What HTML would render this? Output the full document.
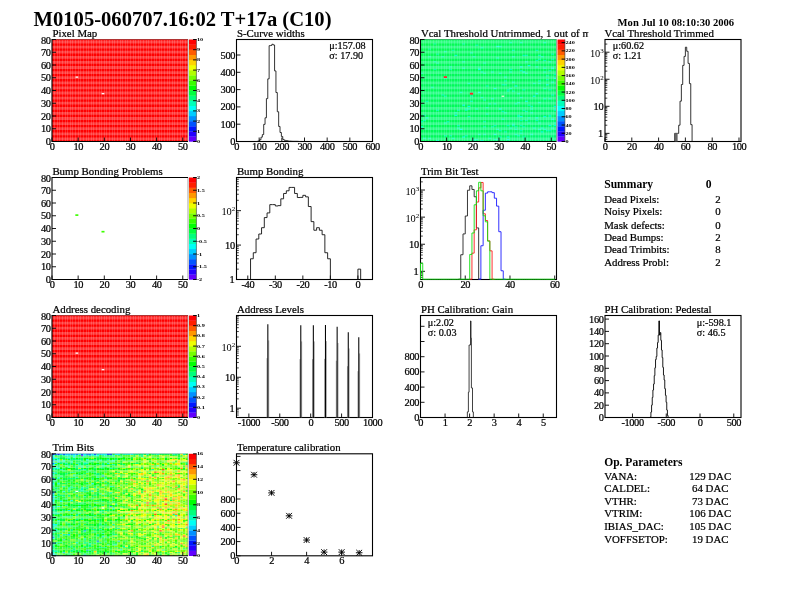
<!DOCTYPE html>
<html><head><meta charset="utf-8"><title>M0105-060707.16:02 T+17a (C10)</title>
<style>html,body{margin:0;padding:0;background:#fff}svg{display:block}</style></head>
<body>
<svg width="792" height="612" viewBox="0 0 792 612" font-family="'Liberation Serif',serif" fill="#000">
<rect width="792" height="612" fill="#fff"/>
<defs>
<linearGradient id="gg" x1="0" y1="0" x2="1" y2="1"><stop offset="0" stop-color="#30ff30" stop-opacity="0.22"/><stop offset="0.5" stop-color="#00ff80" stop-opacity="0"/><stop offset="1" stop-color="#00ffd0" stop-opacity="0.28"/></linearGradient>
<clipPath id="clipT"><rect x="400" y="20" width="188.3" height="20"/></clipPath>
</defs>
<text x="33.60" y="26.20" font-size="20.60" font-weight="bold">M0105-060707.16:02 T+17a (C10)</text>
<text x="617.60" y="25.90" font-size="10.60" font-weight="bold">Mon Jul 10 08:10:30 2006</text>
<rect x="52.00" y="39.50" width="136.00" height="102.00" fill="#ff0000"/>
<path d="M54.62 39.50V141.50M57.23 39.50V141.50M59.85 39.50V141.50M62.46 39.50V141.50M65.08 39.50V141.50M67.69 39.50V141.50M70.31 39.50V141.50M72.92 39.50V141.50M75.54 39.50V141.50M78.15 39.50V141.50M80.77 39.50V141.50M83.38 39.50V141.50M86.00 39.50V141.50M88.62 39.50V141.50M91.23 39.50V141.50M93.85 39.50V141.50M96.46 39.50V141.50M99.08 39.50V141.50M101.69 39.50V141.50M104.31 39.50V141.50M106.92 39.50V141.50M109.54 39.50V141.50M112.15 39.50V141.50M114.77 39.50V141.50M117.38 39.50V141.50M120.00 39.50V141.50M122.62 39.50V141.50M125.23 39.50V141.50M127.85 39.50V141.50M130.46 39.50V141.50M133.08 39.50V141.50M135.69 39.50V141.50M138.31 39.50V141.50M140.92 39.50V141.50M143.54 39.50V141.50M146.15 39.50V141.50M148.77 39.50V141.50M151.38 39.50V141.50M154.00 39.50V141.50M156.62 39.50V141.50M159.23 39.50V141.50M161.85 39.50V141.50M164.46 39.50V141.50M167.08 39.50V141.50M169.69 39.50V141.50M172.31 39.50V141.50M174.92 39.50V141.50M177.54 39.50V141.50M180.15 39.50V141.50M182.77 39.50V141.50M185.38 39.50V141.50" stroke="#fff" stroke-opacity="0.16" stroke-width="1" fill="none" shape-rendering="crispEdges"/>
<path d="M52.00 42.00H188.00M52.00 47.10H188.00M52.00 52.20H188.00M52.00 57.30H188.00M52.00 62.40H188.00M52.00 67.50H188.00M52.00 72.60H188.00M52.00 77.70H188.00M52.00 82.80H188.00M52.00 87.90H188.00M52.00 93.00H188.00M52.00 98.10H188.00M52.00 103.20H188.00M52.00 108.30H188.00M52.00 113.40H188.00M52.00 118.50H188.00M52.00 123.60H188.00M52.00 128.70H188.00M52.00 133.80H188.00M52.00 138.90H188.00" stroke="#fff" stroke-opacity="0.24" stroke-width="2.8" fill="none"/>
<rect x="75.54" y="76.48" width="2.62" height="1.27" fill="#fff"/>
<rect x="101.69" y="93.05" width="2.62" height="1.27" fill="#fff"/>
<path d="M188.00 39.50V141.50" fill="none" stroke="#999" stroke-width="0.9"/>
<path d="M188.00 39.50H52.00" fill="none" stroke="#7a0000" stroke-width="0.6"/>
<path d="M52.00 39.00V141.50H188.00" fill="none" stroke="#000" stroke-width="1.1"/>
<path d="M52.00 141.50L52.00 137.50" stroke="#000" stroke-width="0.90"/>
<text x="52.10" y="150.10" font-size="10.40" text-anchor="middle" stroke="#000" stroke-width="0.22" letter-spacing="-0.4">0</text>
<path d="M78.15 141.50L78.15 137.50" stroke="#000" stroke-width="0.90"/>
<text x="78.25" y="150.10" font-size="10.40" text-anchor="middle" stroke="#000" stroke-width="0.22" letter-spacing="-0.4">10</text>
<path d="M104.31 141.50L104.31 137.50" stroke="#000" stroke-width="0.90"/>
<text x="104.41" y="150.10" font-size="10.40" text-anchor="middle" stroke="#000" stroke-width="0.22" letter-spacing="-0.4">20</text>
<path d="M130.46 141.50L130.46 137.50" stroke="#000" stroke-width="0.90"/>
<text x="130.56" y="150.10" font-size="10.40" text-anchor="middle" stroke="#000" stroke-width="0.22" letter-spacing="-0.4">30</text>
<path d="M156.62 141.50L156.62 137.50" stroke="#000" stroke-width="0.90"/>
<text x="156.72" y="150.10" font-size="10.40" text-anchor="middle" stroke="#000" stroke-width="0.22" letter-spacing="-0.4">40</text>
<path d="M182.77 141.50L182.77 137.50" stroke="#000" stroke-width="0.90"/>
<text x="182.87" y="150.10" font-size="10.40" text-anchor="middle" stroke="#000" stroke-width="0.22" letter-spacing="-0.4">50</text>
<path d="M52.00 141.50L56.00 141.50" stroke="#000" stroke-width="0.90"/>
<text x="50.50" y="145.00" font-size="10.40" text-anchor="end" stroke="#000" stroke-width="0.22" letter-spacing="-0.4">0</text>
<path d="M52.00 128.75L56.00 128.75" stroke="#000" stroke-width="0.90"/>
<text x="50.50" y="132.25" font-size="10.40" text-anchor="end" stroke="#000" stroke-width="0.22" letter-spacing="-0.4">10</text>
<path d="M52.00 116.00L56.00 116.00" stroke="#000" stroke-width="0.90"/>
<text x="50.50" y="119.50" font-size="10.40" text-anchor="end" stroke="#000" stroke-width="0.22" letter-spacing="-0.4">20</text>
<path d="M52.00 103.25L56.00 103.25" stroke="#000" stroke-width="0.90"/>
<text x="50.50" y="106.75" font-size="10.40" text-anchor="end" stroke="#000" stroke-width="0.22" letter-spacing="-0.4">30</text>
<path d="M52.00 90.50L56.00 90.50" stroke="#000" stroke-width="0.90"/>
<text x="50.50" y="94.00" font-size="10.40" text-anchor="end" stroke="#000" stroke-width="0.22" letter-spacing="-0.4">40</text>
<path d="M52.00 77.75L56.00 77.75" stroke="#000" stroke-width="0.90"/>
<text x="50.50" y="81.25" font-size="10.40" text-anchor="end" stroke="#000" stroke-width="0.22" letter-spacing="-0.4">50</text>
<path d="M52.00 65.00L56.00 65.00" stroke="#000" stroke-width="0.90"/>
<text x="50.50" y="68.50" font-size="10.40" text-anchor="end" stroke="#000" stroke-width="0.22" letter-spacing="-0.4">60</text>
<path d="M52.00 52.25L56.00 52.25" stroke="#000" stroke-width="0.90"/>
<text x="50.50" y="55.75" font-size="10.40" text-anchor="end" stroke="#000" stroke-width="0.22" letter-spacing="-0.4">70</text>
<path d="M52.00 39.50L56.00 39.50" stroke="#000" stroke-width="0.90"/>
<text x="50.50" y="44.00" font-size="10.40" text-anchor="end" stroke="#000" stroke-width="0.22" letter-spacing="-0.4">80</text>
<text x="52.40" y="36.90" font-size="10.85" stroke="#000" stroke-width="0.22">Pixel Map</text>
<rect x="189.00" y="136.40" width="7.40" height="5.30" fill="#6200ff"/>
<rect x="189.00" y="131.30" width="7.40" height="5.30" fill="#2500ff"/>
<rect x="189.00" y="126.20" width="7.40" height="5.30" fill="#0017ff"/>
<rect x="189.00" y="121.10" width="7.40" height="5.30" fill="#0054ff"/>
<rect x="189.00" y="116.00" width="7.40" height="5.30" fill="#0090ff"/>
<rect x="189.00" y="110.90" width="7.40" height="5.30" fill="#00ccff"/>
<rect x="189.00" y="105.80" width="7.40" height="5.30" fill="#00fff5"/>
<rect x="189.00" y="100.70" width="7.40" height="5.30" fill="#00ffb9"/>
<rect x="189.00" y="95.60" width="7.40" height="5.30" fill="#00ff7c"/>
<rect x="189.00" y="90.50" width="7.40" height="5.30" fill="#00ff40"/>
<rect x="189.00" y="85.40" width="7.40" height="5.30" fill="#00ff04"/>
<rect x="189.00" y="80.30" width="7.40" height="5.30" fill="#39ff00"/>
<rect x="189.00" y="75.20" width="7.40" height="5.30" fill="#75ff00"/>
<rect x="189.00" y="70.10" width="7.40" height="5.30" fill="#b2ff00"/>
<rect x="189.00" y="65.00" width="7.40" height="5.30" fill="#eeff00"/>
<rect x="189.00" y="59.90" width="7.40" height="5.30" fill="#ffd300"/>
<rect x="189.00" y="54.80" width="7.40" height="5.30" fill="#ff9700"/>
<rect x="189.00" y="49.70" width="7.40" height="5.30" fill="#ff5b00"/>
<rect x="189.00" y="44.60" width="7.40" height="5.30" fill="#ff1e00"/>
<rect x="189.00" y="39.50" width="7.40" height="5.30" fill="#ff0000"/>
<path d="M196.40 39.50L196.40 141.50" stroke="#333" stroke-width="0.60"/>
<path d="M193.10 141.50L196.70 141.50" stroke="#000" stroke-width="0.95"/>
<text transform="translate(197.00 143.00) scale(1.38 1)" font-size="4.5" font-weight="bold">0</text>
<path d="M193.10 131.30L196.70 131.30" stroke="#000" stroke-width="0.95"/>
<text transform="translate(197.00 132.80) scale(1.38 1)" font-size="4.5" font-weight="bold">1</text>
<path d="M193.10 121.10L196.70 121.10" stroke="#000" stroke-width="0.95"/>
<text transform="translate(197.00 122.60) scale(1.38 1)" font-size="4.5" font-weight="bold">2</text>
<path d="M193.10 110.90L196.70 110.90" stroke="#000" stroke-width="0.95"/>
<text transform="translate(197.00 112.40) scale(1.38 1)" font-size="4.5" font-weight="bold">3</text>
<path d="M193.10 100.70L196.70 100.70" stroke="#000" stroke-width="0.95"/>
<text transform="translate(197.00 102.20) scale(1.38 1)" font-size="4.5" font-weight="bold">4</text>
<path d="M193.10 90.50L196.70 90.50" stroke="#000" stroke-width="0.95"/>
<text transform="translate(197.00 92.00) scale(1.38 1)" font-size="4.5" font-weight="bold">5</text>
<path d="M193.10 80.30L196.70 80.30" stroke="#000" stroke-width="0.95"/>
<text transform="translate(197.00 81.80) scale(1.38 1)" font-size="4.5" font-weight="bold">6</text>
<path d="M193.10 70.10L196.70 70.10" stroke="#000" stroke-width="0.95"/>
<text transform="translate(197.00 71.60) scale(1.38 1)" font-size="4.5" font-weight="bold">7</text>
<path d="M193.10 59.90L196.70 59.90" stroke="#000" stroke-width="0.95"/>
<text transform="translate(197.00 61.40) scale(1.38 1)" font-size="4.5" font-weight="bold">8</text>
<path d="M193.10 49.70L196.70 49.70" stroke="#000" stroke-width="0.95"/>
<text transform="translate(197.00 51.20) scale(1.38 1)" font-size="4.5" font-weight="bold">9</text>
<path d="M193.10 39.50L196.70 39.50" stroke="#000" stroke-width="0.95"/>
<text transform="translate(197.00 41.00) scale(1.38 1)" font-size="4.5" font-weight="bold">10</text>
<rect x="236.50" y="39.50" width="136.00" height="102.00" fill="none" stroke="#000" stroke-width="1.1"/>
<text x="236.90" y="36.90" font-size="10.85" stroke="#000" stroke-width="0.22">S-Curve widths</text>
<path d="M236.50 141.50L236.50 137.50" stroke="#000" stroke-width="0.90"/>
<text x="236.60" y="150.10" font-size="10.40" text-anchor="middle" stroke="#000" stroke-width="0.22" letter-spacing="-0.4">0</text>
<path d="M259.17 141.50L259.17 137.50" stroke="#000" stroke-width="0.90"/>
<text x="259.27" y="150.10" font-size="10.40" text-anchor="middle" stroke="#000" stroke-width="0.22" letter-spacing="-0.4">100</text>
<path d="M281.83 141.50L281.83 137.50" stroke="#000" stroke-width="0.90"/>
<text x="281.93" y="150.10" font-size="10.40" text-anchor="middle" stroke="#000" stroke-width="0.22" letter-spacing="-0.4">200</text>
<path d="M304.50 141.50L304.50 137.50" stroke="#000" stroke-width="0.90"/>
<text x="304.60" y="150.10" font-size="10.40" text-anchor="middle" stroke="#000" stroke-width="0.22" letter-spacing="-0.4">300</text>
<path d="M327.17 141.50L327.17 137.50" stroke="#000" stroke-width="0.90"/>
<text x="327.27" y="150.10" font-size="10.40" text-anchor="middle" stroke="#000" stroke-width="0.22" letter-spacing="-0.4">400</text>
<path d="M349.83 141.50L349.83 137.50" stroke="#000" stroke-width="0.90"/>
<text x="349.93" y="150.10" font-size="10.40" text-anchor="middle" stroke="#000" stroke-width="0.22" letter-spacing="-0.4">500</text>
<path d="M372.50 141.50L372.50 137.50" stroke="#000" stroke-width="0.90"/>
<text x="372.60" y="150.10" font-size="10.40" text-anchor="middle" stroke="#000" stroke-width="0.22" letter-spacing="-0.4">600</text>
<path d="M236.50 141.50L240.50 141.50" stroke="#000" stroke-width="0.90"/>
<text x="235.00" y="145.00" font-size="10.40" text-anchor="end" stroke="#000" stroke-width="0.22" letter-spacing="-0.4">0</text>
<path d="M236.50 124.20L240.50 124.20" stroke="#000" stroke-width="0.90"/>
<text x="235.00" y="127.70" font-size="10.40" text-anchor="end" stroke="#000" stroke-width="0.22" letter-spacing="-0.4">100</text>
<path d="M236.50 106.90L240.50 106.90" stroke="#000" stroke-width="0.90"/>
<text x="235.00" y="110.40" font-size="10.40" text-anchor="end" stroke="#000" stroke-width="0.22" letter-spacing="-0.4">200</text>
<path d="M236.50 89.60L240.50 89.60" stroke="#000" stroke-width="0.90"/>
<text x="235.00" y="93.10" font-size="10.40" text-anchor="end" stroke="#000" stroke-width="0.22" letter-spacing="-0.4">300</text>
<path d="M236.50 72.30L240.50 72.30" stroke="#000" stroke-width="0.90"/>
<text x="235.00" y="75.80" font-size="10.40" text-anchor="end" stroke="#000" stroke-width="0.22" letter-spacing="-0.4">400</text>
<path d="M236.50 55.00L240.50 55.00" stroke="#000" stroke-width="0.90"/>
<text x="235.00" y="58.50" font-size="10.40" text-anchor="end" stroke="#000" stroke-width="0.22" letter-spacing="-0.4">500</text>
<path d="M255.54 141.50V141.50H256.90V141.33H258.26V140.98H259.62V139.77H260.98V137.18H262.34V134.58H263.70V124.37H265.06V117.80H266.42V98.60H267.78V78.87H269.14V45.66H270.50V45.48H271.86V44.27H273.22V44.97H274.58V70.92H275.94V92.54H277.30V111.74H278.66V126.45H280.02V132.50H281.38V136.48H282.74V139.42H284.10V140.29H285.46V140.63H286.82V140.81H288.18V141.15H289.54V141.15H290.90V141.24H292.26V141.33H293.62V141.33H294.98V141.33H296.34V141.33H297.70V141.41H299.06V141.50H300.42V141.50" fill="none" stroke="#111" stroke-width="0.85" stroke-linejoin="miter"/>
<text x="329.30" y="48.60" font-size="10.20" stroke="#000" stroke-width="0.22">μ:157.08</text>
<text x="329.30" y="58.80" font-size="10.20" stroke="#000" stroke-width="0.22">σ: 17.90</text>
<rect x="420.50" y="39.50" width="136.00" height="102.00" fill="#00fb58"/>
<rect x="436.19" y="140.22" width="2.62" height="1.27" fill="#00ffe0"/>
<rect x="472.81" y="140.22" width="2.62" height="1.27" fill="#00ffb4"/>
<rect x="480.65" y="140.22" width="2.62" height="1.27" fill="#00ffe0"/>
<rect x="472.81" y="138.95" width="2.62" height="1.27" fill="#00ffb4"/>
<rect x="475.42" y="138.95" width="2.62" height="1.27" fill="#00ffb4"/>
<rect x="493.73" y="138.95" width="2.62" height="1.27" fill="#00ffb4"/>
<rect x="496.35" y="138.95" width="2.62" height="1.27" fill="#00ffb4"/>
<rect x="506.81" y="138.95" width="2.62" height="1.27" fill="#00ffe0"/>
<rect x="423.12" y="137.68" width="2.62" height="1.27" fill="#00ffb4"/>
<rect x="428.35" y="137.68" width="2.62" height="1.27" fill="#00ffb4"/>
<rect x="451.88" y="137.68" width="2.62" height="1.27" fill="#00ffb4"/>
<rect x="488.50" y="137.68" width="2.62" height="1.27" fill="#00ffb4"/>
<rect x="462.35" y="136.40" width="2.62" height="1.27" fill="#00ffe0"/>
<rect x="498.96" y="136.40" width="2.62" height="1.27" fill="#00ffb4"/>
<rect x="506.81" y="136.40" width="2.62" height="1.27" fill="#00ffe0"/>
<rect x="522.50" y="136.40" width="2.62" height="1.27" fill="#00ffb4"/>
<rect x="444.04" y="135.12" width="2.62" height="1.27" fill="#00ffb4"/>
<rect x="449.27" y="135.12" width="2.62" height="1.27" fill="#00ffb4"/>
<rect x="464.96" y="135.12" width="2.62" height="1.27" fill="#00ffb4"/>
<rect x="517.27" y="135.12" width="2.62" height="1.27" fill="#00ffb4"/>
<rect x="478.04" y="133.85" width="2.62" height="1.27" fill="#00ffb4"/>
<rect x="483.27" y="133.85" width="2.62" height="1.27" fill="#00ffb4"/>
<rect x="493.73" y="133.85" width="2.62" height="1.27" fill="#00ffe0"/>
<rect x="514.65" y="133.85" width="2.62" height="1.27" fill="#00ffb4"/>
<rect x="530.35" y="133.85" width="2.62" height="1.27" fill="#00ffb4"/>
<rect x="519.88" y="132.57" width="2.62" height="1.27" fill="#00ffb4"/>
<rect x="504.19" y="131.30" width="2.62" height="1.27" fill="#00ffb4"/>
<rect x="540.81" y="131.30" width="2.62" height="1.27" fill="#00ffe0"/>
<rect x="498.96" y="130.03" width="2.62" height="1.27" fill="#00ffb4"/>
<rect x="519.88" y="130.03" width="2.62" height="1.27" fill="#00ffb4"/>
<rect x="546.04" y="130.03" width="2.62" height="1.27" fill="#00ffb4"/>
<rect x="548.65" y="130.03" width="2.62" height="1.27" fill="#00ffb4"/>
<rect x="459.73" y="128.75" width="2.62" height="1.27" fill="#00ffe0"/>
<rect x="496.35" y="128.75" width="2.62" height="1.27" fill="#00ffb4"/>
<rect x="514.65" y="128.75" width="2.62" height="1.27" fill="#00ffb4"/>
<rect x="538.19" y="128.75" width="2.62" height="1.27" fill="#00ffb4"/>
<rect x="543.42" y="128.75" width="2.62" height="1.27" fill="#00ffb4"/>
<rect x="457.12" y="127.47" width="2.62" height="1.27" fill="#00ffb4"/>
<rect x="509.42" y="127.47" width="2.62" height="1.27" fill="#00ffb4"/>
<rect x="532.96" y="127.47" width="2.62" height="1.27" fill="#00ffb4"/>
<rect x="540.81" y="127.47" width="2.62" height="1.27" fill="#00ffb4"/>
<rect x="551.27" y="127.47" width="2.62" height="1.27" fill="#00ffb4"/>
<rect x="420.50" y="126.20" width="2.62" height="1.27" fill="#00ffe0"/>
<rect x="483.27" y="126.20" width="2.62" height="1.27" fill="#00ffb4"/>
<rect x="491.12" y="126.20" width="2.62" height="1.27" fill="#00ffb4"/>
<rect x="514.65" y="126.20" width="2.62" height="1.27" fill="#00ffb4"/>
<rect x="522.50" y="126.20" width="2.62" height="1.27" fill="#00ffb4"/>
<rect x="457.12" y="124.92" width="2.62" height="1.27" fill="#00ffb4"/>
<rect x="493.73" y="124.92" width="2.62" height="1.27" fill="#00ffb4"/>
<rect x="506.81" y="124.92" width="2.62" height="1.27" fill="#00ffb4"/>
<rect x="512.04" y="124.92" width="2.62" height="1.27" fill="#00ffb4"/>
<rect x="519.88" y="124.92" width="2.62" height="1.27" fill="#00ffb4"/>
<rect x="548.65" y="124.92" width="2.62" height="1.27" fill="#00ffe0"/>
<rect x="553.88" y="124.92" width="2.62" height="1.27" fill="#00ffe0"/>
<rect x="512.04" y="123.65" width="2.62" height="1.27" fill="#00ffb4"/>
<rect x="444.04" y="122.38" width="2.62" height="1.27" fill="#00ffb4"/>
<rect x="527.73" y="122.38" width="2.62" height="1.27" fill="#00ffb4"/>
<rect x="538.19" y="122.38" width="2.62" height="1.27" fill="#00ffb4"/>
<rect x="553.88" y="122.38" width="2.62" height="1.27" fill="#00ffb4"/>
<rect x="420.50" y="121.10" width="2.62" height="1.27" fill="#00ffb4"/>
<rect x="446.65" y="121.10" width="2.62" height="1.27" fill="#00ffb4"/>
<rect x="483.27" y="121.10" width="2.62" height="1.27" fill="#00ffb4"/>
<rect x="423.12" y="119.83" width="2.62" height="1.27" fill="#00ffb4"/>
<rect x="519.88" y="119.83" width="2.62" height="1.27" fill="#00ffb4"/>
<rect x="525.12" y="119.83" width="2.62" height="1.27" fill="#00ffb4"/>
<rect x="535.58" y="119.83" width="2.62" height="1.27" fill="#00ffb4"/>
<rect x="501.58" y="118.55" width="2.62" height="1.27" fill="#00ffb4"/>
<rect x="551.27" y="118.55" width="2.62" height="1.27" fill="#00ffe0"/>
<rect x="425.73" y="117.28" width="2.62" height="1.27" fill="#00ffe0"/>
<rect x="527.73" y="117.28" width="2.62" height="1.27" fill="#00ffb4"/>
<rect x="535.58" y="117.28" width="2.62" height="1.27" fill="#00ffe0"/>
<rect x="467.58" y="116.00" width="2.62" height="1.27" fill="#00ffb4"/>
<rect x="517.27" y="116.00" width="2.62" height="1.27" fill="#00ffb4"/>
<rect x="519.88" y="116.00" width="2.62" height="1.27" fill="#00ffe0"/>
<rect x="543.42" y="116.00" width="2.62" height="1.27" fill="#00ffe0"/>
<rect x="548.65" y="116.00" width="2.62" height="1.27" fill="#00ffb4"/>
<rect x="423.12" y="114.72" width="2.62" height="1.27" fill="#00ffb4"/>
<rect x="454.50" y="114.72" width="2.62" height="1.27" fill="#00ffe0"/>
<rect x="517.27" y="114.72" width="2.62" height="1.27" fill="#00ffb4"/>
<rect x="548.65" y="114.72" width="2.62" height="1.27" fill="#00ffb4"/>
<rect x="485.88" y="113.45" width="2.62" height="1.27" fill="#00ffb4"/>
<rect x="454.50" y="112.17" width="2.62" height="1.27" fill="#00ffb4"/>
<rect x="504.19" y="112.17" width="2.62" height="1.27" fill="#00ffb4"/>
<rect x="530.35" y="112.17" width="2.62" height="1.27" fill="#00ffb4"/>
<rect x="501.58" y="110.90" width="2.62" height="1.27" fill="#00ffb4"/>
<rect x="525.12" y="110.90" width="2.62" height="1.27" fill="#00ffb4"/>
<rect x="436.19" y="109.62" width="2.62" height="1.27" fill="#00ffb4"/>
<rect x="457.12" y="109.62" width="2.62" height="1.27" fill="#00ffb4"/>
<rect x="464.96" y="109.62" width="2.62" height="1.27" fill="#00ffb4"/>
<rect x="522.50" y="109.62" width="2.62" height="1.27" fill="#00ffb4"/>
<rect x="553.88" y="109.62" width="2.62" height="1.27" fill="#00ffb4"/>
<rect x="464.96" y="108.35" width="2.62" height="1.27" fill="#00ffb4"/>
<rect x="467.58" y="108.35" width="2.62" height="1.27" fill="#00ffb4"/>
<rect x="475.42" y="108.35" width="2.62" height="1.27" fill="#00ffb4"/>
<rect x="498.96" y="108.35" width="2.62" height="1.27" fill="#00ffe0"/>
<rect x="530.35" y="108.35" width="2.62" height="1.27" fill="#00ffb4"/>
<rect x="553.88" y="108.35" width="2.62" height="1.27" fill="#00ffb4"/>
<rect x="485.88" y="107.08" width="2.62" height="1.27" fill="#00ffb4"/>
<rect x="467.58" y="105.80" width="2.62" height="1.27" fill="#00ffe0"/>
<rect x="530.35" y="105.80" width="2.62" height="1.27" fill="#00ffb4"/>
<rect x="553.88" y="105.80" width="2.62" height="1.27" fill="#00ffe0"/>
<rect x="462.35" y="104.53" width="2.62" height="1.27" fill="#00ffe0"/>
<rect x="527.73" y="104.53" width="2.62" height="1.27" fill="#00ffb4"/>
<rect x="488.50" y="103.25" width="2.62" height="1.27" fill="#00ffb4"/>
<rect x="493.73" y="103.25" width="2.62" height="1.27" fill="#00ffb4"/>
<rect x="514.65" y="103.25" width="2.62" height="1.27" fill="#00ffb4"/>
<rect x="517.27" y="101.97" width="2.62" height="1.27" fill="#00ffb4"/>
<rect x="538.19" y="101.97" width="2.62" height="1.27" fill="#00ffb4"/>
<rect x="425.73" y="100.70" width="2.62" height="1.27" fill="#00ffb4"/>
<rect x="470.19" y="100.70" width="2.62" height="1.27" fill="#00ffb4"/>
<rect x="525.12" y="100.70" width="2.62" height="1.27" fill="#00ffe0"/>
<rect x="483.27" y="99.43" width="2.62" height="1.27" fill="#00ffb4"/>
<rect x="491.12" y="98.15" width="2.62" height="1.27" fill="#00ffb4"/>
<rect x="543.42" y="98.15" width="2.62" height="1.27" fill="#00ffb4"/>
<rect x="548.65" y="98.15" width="2.62" height="1.27" fill="#00ffb4"/>
<rect x="480.65" y="96.88" width="2.62" height="1.27" fill="#00ffb4"/>
<rect x="519.88" y="96.88" width="2.62" height="1.27" fill="#00ffb4"/>
<rect x="444.04" y="95.60" width="2.62" height="1.27" fill="#00ffb4"/>
<rect x="470.19" y="95.60" width="2.62" height="1.27" fill="#00ffb4"/>
<rect x="532.96" y="95.60" width="2.62" height="1.27" fill="#00ffe0"/>
<rect x="441.42" y="94.33" width="2.62" height="1.27" fill="#00ffb4"/>
<rect x="551.27" y="94.33" width="2.62" height="1.27" fill="#00ffb4"/>
<rect x="517.27" y="93.05" width="2.62" height="1.27" fill="#00ffb4"/>
<rect x="535.58" y="93.05" width="2.62" height="1.27" fill="#00ffe0"/>
<rect x="459.73" y="91.78" width="2.62" height="1.27" fill="#00ffb4"/>
<rect x="478.04" y="91.78" width="2.62" height="1.27" fill="#00ffe0"/>
<rect x="506.81" y="90.50" width="2.62" height="1.27" fill="#00ffb4"/>
<rect x="512.04" y="90.50" width="2.62" height="1.27" fill="#00ffb4"/>
<rect x="506.81" y="89.22" width="2.62" height="1.27" fill="#00ffb4"/>
<rect x="522.50" y="89.22" width="2.62" height="1.27" fill="#00ffb4"/>
<rect x="548.65" y="89.22" width="2.62" height="1.27" fill="#00ffb4"/>
<rect x="493.73" y="87.95" width="2.62" height="1.27" fill="#00ffe0"/>
<rect x="509.42" y="87.95" width="2.62" height="1.27" fill="#00ffb4"/>
<rect x="543.42" y="87.95" width="2.62" height="1.27" fill="#00ffb4"/>
<rect x="430.96" y="86.68" width="2.62" height="1.27" fill="#00ffb4"/>
<rect x="485.88" y="85.40" width="2.62" height="1.27" fill="#00ffb4"/>
<rect x="514.65" y="85.40" width="2.62" height="1.27" fill="#00ffe0"/>
<rect x="501.58" y="84.12" width="2.62" height="1.27" fill="#00ffb4"/>
<rect x="504.19" y="84.12" width="2.62" height="1.27" fill="#00ffb4"/>
<rect x="546.04" y="84.12" width="2.62" height="1.27" fill="#00ffe0"/>
<rect x="467.58" y="82.85" width="2.62" height="1.27" fill="#00ffb4"/>
<rect x="532.96" y="82.85" width="2.62" height="1.27" fill="#00ffb4"/>
<rect x="538.19" y="82.85" width="2.62" height="1.27" fill="#00ffb4"/>
<rect x="512.04" y="81.58" width="2.62" height="1.27" fill="#00ffb4"/>
<rect x="551.27" y="81.58" width="2.62" height="1.27" fill="#00ffb4"/>
<rect x="504.19" y="80.30" width="2.62" height="1.27" fill="#00ffb4"/>
<rect x="538.19" y="80.30" width="2.62" height="1.27" fill="#00ffb4"/>
<rect x="546.04" y="79.03" width="2.62" height="1.27" fill="#00ffb4"/>
<rect x="444.04" y="77.75" width="2.62" height="1.27" fill="#00ffb4"/>
<rect x="553.88" y="77.75" width="2.62" height="1.27" fill="#00ffe0"/>
<rect x="504.19" y="76.48" width="2.62" height="1.27" fill="#00ffb4"/>
<rect x="546.04" y="75.20" width="2.62" height="1.27" fill="#00ffb4"/>
<rect x="553.88" y="73.93" width="2.62" height="1.27" fill="#00ffb4"/>
<rect x="420.50" y="72.65" width="2.62" height="1.27" fill="#00ffb4"/>
<rect x="483.27" y="72.65" width="2.62" height="1.27" fill="#00ffb4"/>
<rect x="498.96" y="72.65" width="2.62" height="1.27" fill="#00ffb4"/>
<rect x="525.12" y="72.65" width="2.62" height="1.27" fill="#00ffb4"/>
<rect x="480.65" y="71.38" width="2.62" height="1.27" fill="#00ffb4"/>
<rect x="491.12" y="71.38" width="2.62" height="1.27" fill="#00ffb4"/>
<rect x="509.42" y="71.38" width="2.62" height="1.27" fill="#00ffb4"/>
<rect x="522.50" y="71.38" width="2.62" height="1.27" fill="#00ffe0"/>
<rect x="543.42" y="71.38" width="2.62" height="1.27" fill="#00ffb4"/>
<rect x="519.88" y="70.10" width="2.62" height="1.27" fill="#00ffb4"/>
<rect x="548.65" y="70.10" width="2.62" height="1.27" fill="#00ffb4"/>
<rect x="433.58" y="68.83" width="2.62" height="1.27" fill="#00ffb4"/>
<rect x="449.27" y="68.83" width="2.62" height="1.27" fill="#00ffb4"/>
<rect x="478.04" y="68.83" width="2.62" height="1.27" fill="#00ffe0"/>
<rect x="509.42" y="68.83" width="2.62" height="1.27" fill="#00ffb4"/>
<rect x="462.35" y="67.55" width="2.62" height="1.27" fill="#00ffb4"/>
<rect x="478.04" y="67.55" width="2.62" height="1.27" fill="#00ffb4"/>
<rect x="543.42" y="67.55" width="2.62" height="1.27" fill="#00ffb4"/>
<rect x="551.27" y="67.55" width="2.62" height="1.27" fill="#00ffe0"/>
<rect x="449.27" y="66.28" width="2.62" height="1.27" fill="#00ffb4"/>
<rect x="519.88" y="66.28" width="2.62" height="1.27" fill="#00ffe0"/>
<rect x="535.58" y="66.28" width="2.62" height="1.27" fill="#00ffb4"/>
<rect x="527.73" y="65.00" width="2.62" height="1.27" fill="#00ffe0"/>
<rect x="436.19" y="62.45" width="2.62" height="1.27" fill="#00ffb4"/>
<rect x="483.27" y="62.45" width="2.62" height="1.27" fill="#00ffb4"/>
<rect x="433.58" y="61.18" width="2.62" height="1.27" fill="#00ffb4"/>
<rect x="462.35" y="61.18" width="2.62" height="1.27" fill="#00ffb4"/>
<rect x="525.12" y="61.18" width="2.62" height="1.27" fill="#00ffb4"/>
<rect x="548.65" y="61.18" width="2.62" height="1.27" fill="#00ffb4"/>
<rect x="535.58" y="59.90" width="2.62" height="1.27" fill="#00ffb4"/>
<rect x="543.42" y="59.90" width="2.62" height="1.27" fill="#00ffb4"/>
<rect x="538.19" y="58.62" width="2.62" height="1.27" fill="#00ffb4"/>
<rect x="551.27" y="58.62" width="2.62" height="1.27" fill="#00ffb4"/>
<rect x="496.35" y="57.35" width="2.62" height="1.27" fill="#00ffb4"/>
<rect x="428.35" y="56.08" width="2.62" height="1.27" fill="#00ffb4"/>
<rect x="441.42" y="56.08" width="2.62" height="1.27" fill="#00ffb4"/>
<rect x="472.81" y="56.08" width="2.62" height="1.27" fill="#00ffb4"/>
<rect x="512.04" y="56.08" width="2.62" height="1.27" fill="#00ffb4"/>
<rect x="540.81" y="56.08" width="2.62" height="1.27" fill="#00ffb4"/>
<rect x="454.50" y="54.80" width="2.62" height="1.27" fill="#00ffe0"/>
<rect x="522.50" y="54.80" width="2.62" height="1.27" fill="#00ffb4"/>
<rect x="525.12" y="54.80" width="2.62" height="1.27" fill="#00ffb4"/>
<rect x="538.19" y="54.80" width="2.62" height="1.27" fill="#00ffb4"/>
<rect x="436.19" y="53.53" width="2.62" height="1.27" fill="#00ffb4"/>
<rect x="551.27" y="53.53" width="2.62" height="1.27" fill="#00ffb4"/>
<rect x="470.19" y="52.25" width="2.62" height="1.27" fill="#00ffb4"/>
<rect x="444.04" y="50.98" width="2.62" height="1.27" fill="#00ffb4"/>
<rect x="451.88" y="49.70" width="2.62" height="1.27" fill="#00ffb4"/>
<rect x="512.04" y="49.70" width="2.62" height="1.27" fill="#00ffb4"/>
<rect x="535.58" y="49.70" width="2.62" height="1.27" fill="#00ffb4"/>
<rect x="428.35" y="48.43" width="2.62" height="1.27" fill="#00ffb4"/>
<rect x="480.65" y="47.15" width="2.62" height="1.27" fill="#00ffb4"/>
<rect x="496.35" y="45.88" width="2.62" height="1.27" fill="#00ffe0"/>
<rect x="498.96" y="45.88" width="2.62" height="1.27" fill="#00ffb4"/>
<rect x="475.42" y="44.60" width="2.62" height="1.27" fill="#00ffb4"/>
<rect x="433.58" y="43.33" width="2.62" height="1.27" fill="#00ffb4"/>
<rect x="462.35" y="43.33" width="2.62" height="1.27" fill="#00ffb4"/>
<rect x="509.42" y="42.05" width="2.62" height="1.27" fill="#00ffb4"/>
<rect x="519.88" y="42.05" width="2.62" height="1.27" fill="#00ffb4"/>
<rect x="543.42" y="42.05" width="2.62" height="1.27" fill="#00ffb4"/>
<rect x="420.50" y="39.50" width="136.00" height="102.00" fill="url(#gg)"/>
<path d="M423.12 39.50V141.50M425.73 39.50V141.50M428.35 39.50V141.50M430.96 39.50V141.50M433.58 39.50V141.50M436.19 39.50V141.50M438.81 39.50V141.50M441.42 39.50V141.50M444.04 39.50V141.50M446.65 39.50V141.50M449.27 39.50V141.50M451.88 39.50V141.50M454.50 39.50V141.50M457.12 39.50V141.50M459.73 39.50V141.50M462.35 39.50V141.50M464.96 39.50V141.50M467.58 39.50V141.50M470.19 39.50V141.50M472.81 39.50V141.50M475.42 39.50V141.50M478.04 39.50V141.50M480.65 39.50V141.50M483.27 39.50V141.50M485.88 39.50V141.50M488.50 39.50V141.50M491.12 39.50V141.50M493.73 39.50V141.50M496.35 39.50V141.50M498.96 39.50V141.50M501.58 39.50V141.50M504.19 39.50V141.50M506.81 39.50V141.50M509.42 39.50V141.50M512.04 39.50V141.50M514.65 39.50V141.50M517.27 39.50V141.50M519.88 39.50V141.50M522.50 39.50V141.50M525.12 39.50V141.50M527.73 39.50V141.50M530.35 39.50V141.50M532.96 39.50V141.50M535.58 39.50V141.50M538.19 39.50V141.50M540.81 39.50V141.50M543.42 39.50V141.50M546.04 39.50V141.50M548.65 39.50V141.50M551.27 39.50V141.50M553.88 39.50V141.50" stroke="#b4ffff" stroke-opacity="0.20" stroke-width="1" fill="none" shape-rendering="crispEdges"/>
<path d="M420.50 42.00H556.50M420.50 47.10H556.50M420.50 52.20H556.50M420.50 57.30H556.50M420.50 62.40H556.50M420.50 67.50H556.50M420.50 72.60H556.50M420.50 77.70H556.50M420.50 82.80H556.50M420.50 87.90H556.50M420.50 93.00H556.50M420.50 98.10H556.50M420.50 103.20H556.50M420.50 108.30H556.50M420.50 113.40H556.50M420.50 118.50H556.50M420.50 123.60H556.50M420.50 128.70H556.50M420.50 133.80H556.50M420.50 138.90H556.50" stroke="#b4ffff" stroke-opacity="0.30" stroke-width="2.8" fill="none"/>
<rect x="443.74" y="76.18" width="3.22" height="1.88" fill="#ff2a2a"/>
<rect x="469.89" y="92.75" width="3.22" height="1.88" fill="#ff2a2a"/>
<rect x="501.58" y="95.60" width="2.62" height="1.27" fill="#e8ffd0"/>
<path d="M556.50 39.50V141.50" fill="none" stroke="#999" stroke-width="0.9"/>
<path d="M556.50 39.50H420.50" fill="none" stroke="#0c8c3c" stroke-width="0.6"/>
<path d="M420.50 39.00V141.50H556.50" fill="none" stroke="#000" stroke-width="1.1"/>
<path d="M420.50 141.50L420.50 137.50" stroke="#000" stroke-width="0.90"/>
<text x="420.60" y="150.10" font-size="10.40" text-anchor="middle" stroke="#000" stroke-width="0.22" letter-spacing="-0.4">0</text>
<path d="M446.65 141.50L446.65 137.50" stroke="#000" stroke-width="0.90"/>
<text x="446.75" y="150.10" font-size="10.40" text-anchor="middle" stroke="#000" stroke-width="0.22" letter-spacing="-0.4">10</text>
<path d="M472.81 141.50L472.81 137.50" stroke="#000" stroke-width="0.90"/>
<text x="472.91" y="150.10" font-size="10.40" text-anchor="middle" stroke="#000" stroke-width="0.22" letter-spacing="-0.4">20</text>
<path d="M498.96 141.50L498.96 137.50" stroke="#000" stroke-width="0.90"/>
<text x="499.06" y="150.10" font-size="10.40" text-anchor="middle" stroke="#000" stroke-width="0.22" letter-spacing="-0.4">30</text>
<path d="M525.12 141.50L525.12 137.50" stroke="#000" stroke-width="0.90"/>
<text x="525.22" y="150.10" font-size="10.40" text-anchor="middle" stroke="#000" stroke-width="0.22" letter-spacing="-0.4">40</text>
<path d="M551.27 141.50L551.27 137.50" stroke="#000" stroke-width="0.90"/>
<text x="551.37" y="150.10" font-size="10.40" text-anchor="middle" stroke="#000" stroke-width="0.22" letter-spacing="-0.4">50</text>
<path d="M420.50 141.50L424.50 141.50" stroke="#000" stroke-width="0.90"/>
<text x="419.00" y="145.00" font-size="10.40" text-anchor="end" stroke="#000" stroke-width="0.22" letter-spacing="-0.4">0</text>
<path d="M420.50 128.75L424.50 128.75" stroke="#000" stroke-width="0.90"/>
<text x="419.00" y="132.25" font-size="10.40" text-anchor="end" stroke="#000" stroke-width="0.22" letter-spacing="-0.4">10</text>
<path d="M420.50 116.00L424.50 116.00" stroke="#000" stroke-width="0.90"/>
<text x="419.00" y="119.50" font-size="10.40" text-anchor="end" stroke="#000" stroke-width="0.22" letter-spacing="-0.4">20</text>
<path d="M420.50 103.25L424.50 103.25" stroke="#000" stroke-width="0.90"/>
<text x="419.00" y="106.75" font-size="10.40" text-anchor="end" stroke="#000" stroke-width="0.22" letter-spacing="-0.4">30</text>
<path d="M420.50 90.50L424.50 90.50" stroke="#000" stroke-width="0.90"/>
<text x="419.00" y="94.00" font-size="10.40" text-anchor="end" stroke="#000" stroke-width="0.22" letter-spacing="-0.4">40</text>
<path d="M420.50 77.75L424.50 77.75" stroke="#000" stroke-width="0.90"/>
<text x="419.00" y="81.25" font-size="10.40" text-anchor="end" stroke="#000" stroke-width="0.22" letter-spacing="-0.4">50</text>
<path d="M420.50 65.00L424.50 65.00" stroke="#000" stroke-width="0.90"/>
<text x="419.00" y="68.50" font-size="10.40" text-anchor="end" stroke="#000" stroke-width="0.22" letter-spacing="-0.4">60</text>
<path d="M420.50 52.25L424.50 52.25" stroke="#000" stroke-width="0.90"/>
<text x="419.00" y="55.75" font-size="10.40" text-anchor="end" stroke="#000" stroke-width="0.22" letter-spacing="-0.4">70</text>
<path d="M420.50 39.50L424.50 39.50" stroke="#000" stroke-width="0.90"/>
<text x="419.00" y="44.00" font-size="10.40" text-anchor="end" stroke="#000" stroke-width="0.22" letter-spacing="-0.4">80</text>
<g clip-path="url(#clipT)">
<text x="420.90" y="36.90" font-size="10.85" stroke="#000" stroke-width="0.22">Vcal Threshold Untrimmed, 1 out of ma</text>
</g>
<rect x="557.50" y="136.40" width="7.40" height="5.30" fill="#6200ff"/>
<rect x="557.50" y="131.30" width="7.40" height="5.30" fill="#2500ff"/>
<rect x="557.50" y="126.20" width="7.40" height="5.30" fill="#0017ff"/>
<rect x="557.50" y="121.10" width="7.40" height="5.30" fill="#0054ff"/>
<rect x="557.50" y="116.00" width="7.40" height="5.30" fill="#0090ff"/>
<rect x="557.50" y="110.90" width="7.40" height="5.30" fill="#00ccff"/>
<rect x="557.50" y="105.80" width="7.40" height="5.30" fill="#00fff5"/>
<rect x="557.50" y="100.70" width="7.40" height="5.30" fill="#00ffb9"/>
<rect x="557.50" y="95.60" width="7.40" height="5.30" fill="#00ff7c"/>
<rect x="557.50" y="90.50" width="7.40" height="5.30" fill="#00ff40"/>
<rect x="557.50" y="85.40" width="7.40" height="5.30" fill="#00ff04"/>
<rect x="557.50" y="80.30" width="7.40" height="5.30" fill="#39ff00"/>
<rect x="557.50" y="75.20" width="7.40" height="5.30" fill="#75ff00"/>
<rect x="557.50" y="70.10" width="7.40" height="5.30" fill="#b2ff00"/>
<rect x="557.50" y="65.00" width="7.40" height="5.30" fill="#eeff00"/>
<rect x="557.50" y="59.90" width="7.40" height="5.30" fill="#ffd300"/>
<rect x="557.50" y="54.80" width="7.40" height="5.30" fill="#ff9700"/>
<rect x="557.50" y="49.70" width="7.40" height="5.30" fill="#ff5b00"/>
<rect x="557.50" y="44.60" width="7.40" height="5.30" fill="#ff1e00"/>
<rect x="557.50" y="39.50" width="7.40" height="5.30" fill="#ff0000"/>
<path d="M564.90 39.50L564.90 141.50" stroke="#333" stroke-width="0.60"/>
<path d="M561.60 141.50L565.20 141.50" stroke="#000" stroke-width="0.95"/>
<text transform="translate(565.50 143.00) scale(1.38 1)" font-size="4.5" font-weight="bold">0</text>
<path d="M561.60 133.26L565.20 133.26" stroke="#000" stroke-width="0.95"/>
<text transform="translate(565.50 134.76) scale(1.38 1)" font-size="4.5" font-weight="bold">20</text>
<path d="M561.60 125.02L565.20 125.02" stroke="#000" stroke-width="0.95"/>
<text transform="translate(565.50 126.52) scale(1.38 1)" font-size="4.5" font-weight="bold">40</text>
<path d="M561.60 116.78L565.20 116.78" stroke="#000" stroke-width="0.95"/>
<text transform="translate(565.50 118.28) scale(1.38 1)" font-size="4.5" font-weight="bold">60</text>
<path d="M561.60 108.54L565.20 108.54" stroke="#000" stroke-width="0.95"/>
<text transform="translate(565.50 110.04) scale(1.38 1)" font-size="4.5" font-weight="bold">80</text>
<path d="M561.60 100.30L565.20 100.30" stroke="#000" stroke-width="0.95"/>
<text transform="translate(565.50 101.80) scale(1.38 1)" font-size="4.5" font-weight="bold">100</text>
<path d="M561.60 92.07L565.20 92.07" stroke="#000" stroke-width="0.95"/>
<text transform="translate(565.50 93.57) scale(1.38 1)" font-size="4.5" font-weight="bold">120</text>
<path d="M561.60 83.83L565.20 83.83" stroke="#000" stroke-width="0.95"/>
<text transform="translate(565.50 85.33) scale(1.38 1)" font-size="4.5" font-weight="bold">140</text>
<path d="M561.60 75.59L565.20 75.59" stroke="#000" stroke-width="0.95"/>
<text transform="translate(565.50 77.09) scale(1.38 1)" font-size="4.5" font-weight="bold">160</text>
<path d="M561.60 67.35L565.20 67.35" stroke="#000" stroke-width="0.95"/>
<text transform="translate(565.50 68.85) scale(1.38 1)" font-size="4.5" font-weight="bold">180</text>
<path d="M561.60 59.11L565.20 59.11" stroke="#000" stroke-width="0.95"/>
<text transform="translate(565.50 60.61) scale(1.38 1)" font-size="4.5" font-weight="bold">200</text>
<path d="M561.60 50.87L565.20 50.87" stroke="#000" stroke-width="0.95"/>
<text transform="translate(565.50 52.37) scale(1.38 1)" font-size="4.5" font-weight="bold">220</text>
<path d="M561.60 42.63L565.20 42.63" stroke="#000" stroke-width="0.95"/>
<text transform="translate(565.50 44.13) scale(1.38 1)" font-size="4.5" font-weight="bold">240</text>
<rect x="605.00" y="39.50" width="136.00" height="102.00" fill="none" stroke="#000" stroke-width="1.1"/>
<text x="604.40" y="36.90" font-size="10.85" stroke="#000" stroke-width="0.22">Vcal Threshold Trimmed</text>
<path d="M605.00 141.50L605.00 137.50" stroke="#000" stroke-width="0.90"/>
<text x="605.10" y="150.10" font-size="10.40" text-anchor="middle" stroke="#000" stroke-width="0.22" letter-spacing="-0.4">0</text>
<path d="M631.80 141.50L631.80 137.50" stroke="#000" stroke-width="0.90"/>
<text x="631.90" y="150.10" font-size="10.40" text-anchor="middle" stroke="#000" stroke-width="0.22" letter-spacing="-0.4">20</text>
<path d="M658.60 141.50L658.60 137.50" stroke="#000" stroke-width="0.90"/>
<text x="658.70" y="150.10" font-size="10.40" text-anchor="middle" stroke="#000" stroke-width="0.22" letter-spacing="-0.4">40</text>
<path d="M685.39 141.50L685.39 137.50" stroke="#000" stroke-width="0.90"/>
<text x="685.49" y="150.10" font-size="10.40" text-anchor="middle" stroke="#000" stroke-width="0.22" letter-spacing="-0.4">60</text>
<path d="M712.19 141.50L712.19 137.50" stroke="#000" stroke-width="0.90"/>
<text x="712.29" y="150.10" font-size="10.40" text-anchor="middle" stroke="#000" stroke-width="0.22" letter-spacing="-0.4">80</text>
<path d="M738.99 141.50L738.99 137.50" stroke="#000" stroke-width="0.90"/>
<text x="739.09" y="150.10" font-size="10.40" text-anchor="middle" stroke="#000" stroke-width="0.22" letter-spacing="-0.4">100</text>
<path d="M605.00 141.50L607.30 141.50" stroke="#000" stroke-width="0.75"/>
<path d="M605.00 139.36L607.30 139.36" stroke="#000" stroke-width="0.75"/>
<path d="M605.00 137.55L607.30 137.55" stroke="#000" stroke-width="0.75"/>
<path d="M605.00 135.98L607.30 135.98" stroke="#000" stroke-width="0.75"/>
<path d="M605.00 134.59L607.30 134.59" stroke="#000" stroke-width="0.75"/>
<path d="M605.00 133.36L609.50 133.36" stroke="#000" stroke-width="0.90"/>
<text x="603.10" y="137.26" font-size="10.40" text-anchor="end" stroke="#000" stroke-width="0.22">1</text>
<path d="M605.00 125.21L607.30 125.21" stroke="#000" stroke-width="0.75"/>
<path d="M605.00 120.45L607.30 120.45" stroke="#000" stroke-width="0.75"/>
<path d="M605.00 117.07L607.30 117.07" stroke="#000" stroke-width="0.75"/>
<path d="M605.00 114.45L607.30 114.45" stroke="#000" stroke-width="0.75"/>
<path d="M605.00 112.31L607.30 112.31" stroke="#000" stroke-width="0.75"/>
<path d="M605.00 110.50L607.30 110.50" stroke="#000" stroke-width="0.75"/>
<path d="M605.00 108.93L607.30 108.93" stroke="#000" stroke-width="0.75"/>
<path d="M605.00 107.55L607.30 107.55" stroke="#000" stroke-width="0.75"/>
<path d="M605.00 106.31L609.50 106.31" stroke="#000" stroke-width="0.90"/>
<text x="603.20" y="110.01" font-size="10.40" text-anchor="end" stroke="#000" stroke-width="0.22" letter-spacing="-0.4">10</text>
<path d="M605.00 98.16L607.30 98.16" stroke="#000" stroke-width="0.75"/>
<path d="M605.00 93.40L607.30 93.40" stroke="#000" stroke-width="0.75"/>
<path d="M605.00 90.02L607.30 90.02" stroke="#000" stroke-width="0.75"/>
<path d="M605.00 87.40L607.30 87.40" stroke="#000" stroke-width="0.75"/>
<path d="M605.00 85.26L607.30 85.26" stroke="#000" stroke-width="0.75"/>
<path d="M605.00 83.45L607.30 83.45" stroke="#000" stroke-width="0.75"/>
<path d="M605.00 81.88L607.30 81.88" stroke="#000" stroke-width="0.75"/>
<path d="M605.00 80.50L607.30 80.50" stroke="#000" stroke-width="0.75"/>
<path d="M605.00 79.26L609.50 79.26" stroke="#000" stroke-width="0.90"/>
<text x="603.80" y="83.86" font-size="10.40" text-anchor="end">10<tspan font-size="7" dy="-3.8">2</tspan></text>
<path d="M605.00 71.12L607.30 71.12" stroke="#000" stroke-width="0.75"/>
<path d="M605.00 66.35L607.30 66.35" stroke="#000" stroke-width="0.75"/>
<path d="M605.00 62.97L607.30 62.97" stroke="#000" stroke-width="0.75"/>
<path d="M605.00 60.35L607.30 60.35" stroke="#000" stroke-width="0.75"/>
<path d="M605.00 58.21L607.30 58.21" stroke="#000" stroke-width="0.75"/>
<path d="M605.00 56.40L607.30 56.40" stroke="#000" stroke-width="0.75"/>
<path d="M605.00 54.83L607.30 54.83" stroke="#000" stroke-width="0.75"/>
<path d="M605.00 53.45L607.30 53.45" stroke="#000" stroke-width="0.75"/>
<path d="M605.00 52.21L609.50 52.21" stroke="#000" stroke-width="0.90"/>
<text x="603.80" y="56.81" font-size="10.40" text-anchor="end">10<tspan font-size="7" dy="-3.8">3</tspan></text>
<path d="M605.00 44.07L607.30 44.07" stroke="#000" stroke-width="0.75"/>
<path d="M674.67 141.50V133.36H676.01V133.36H677.35V133.36H678.69V125.21H680.03V101.16H681.37V84.50H682.71V65.38H684.05V56.40H685.39V47.21H686.73V51.30H688.07V63.39H689.41V83.62H690.75V124.64H692.09V141.50" fill="none" stroke="#111" stroke-width="0.85" stroke-linejoin="miter"/>
<rect x="674.67" y="133.36" width="2.95" height="8.14" fill="#666"/>
<text x="612.80" y="49.00" font-size="10.20" stroke="#000" stroke-width="0.22">μ:60.62</text>
<text x="612.80" y="58.80" font-size="10.20" stroke="#000" stroke-width="0.22">σ: 1.21</text>
<rect x="75.34" y="214.28" width="3.02" height="1.67" fill="#3cff00"/>
<rect x="101.49" y="230.85" width="3.02" height="1.67" fill="#3cff00"/>
<path d="M188.00 177.50V279.50" fill="none" stroke="#999" stroke-width="0.9"/>
<path d="M188.00 177.50H52.00V279.50H188.00" fill="none" stroke="#000" stroke-width="1.1"/>
<path d="M52.00 279.50L52.00 275.50" stroke="#000" stroke-width="0.90"/>
<text x="52.10" y="288.10" font-size="10.40" text-anchor="middle" stroke="#000" stroke-width="0.22" letter-spacing="-0.4">0</text>
<path d="M78.15 279.50L78.15 275.50" stroke="#000" stroke-width="0.90"/>
<text x="78.25" y="288.10" font-size="10.40" text-anchor="middle" stroke="#000" stroke-width="0.22" letter-spacing="-0.4">10</text>
<path d="M104.31 279.50L104.31 275.50" stroke="#000" stroke-width="0.90"/>
<text x="104.41" y="288.10" font-size="10.40" text-anchor="middle" stroke="#000" stroke-width="0.22" letter-spacing="-0.4">20</text>
<path d="M130.46 279.50L130.46 275.50" stroke="#000" stroke-width="0.90"/>
<text x="130.56" y="288.10" font-size="10.40" text-anchor="middle" stroke="#000" stroke-width="0.22" letter-spacing="-0.4">30</text>
<path d="M156.62 279.50L156.62 275.50" stroke="#000" stroke-width="0.90"/>
<text x="156.72" y="288.10" font-size="10.40" text-anchor="middle" stroke="#000" stroke-width="0.22" letter-spacing="-0.4">40</text>
<path d="M182.77 279.50L182.77 275.50" stroke="#000" stroke-width="0.90"/>
<text x="182.87" y="288.10" font-size="10.40" text-anchor="middle" stroke="#000" stroke-width="0.22" letter-spacing="-0.4">50</text>
<path d="M52.00 279.50L56.00 279.50" stroke="#000" stroke-width="0.90"/>
<text x="50.50" y="283.00" font-size="10.40" text-anchor="end" stroke="#000" stroke-width="0.22" letter-spacing="-0.4">0</text>
<path d="M52.00 266.75L56.00 266.75" stroke="#000" stroke-width="0.90"/>
<text x="50.50" y="270.25" font-size="10.40" text-anchor="end" stroke="#000" stroke-width="0.22" letter-spacing="-0.4">10</text>
<path d="M52.00 254.00L56.00 254.00" stroke="#000" stroke-width="0.90"/>
<text x="50.50" y="257.50" font-size="10.40" text-anchor="end" stroke="#000" stroke-width="0.22" letter-spacing="-0.4">20</text>
<path d="M52.00 241.25L56.00 241.25" stroke="#000" stroke-width="0.90"/>
<text x="50.50" y="244.75" font-size="10.40" text-anchor="end" stroke="#000" stroke-width="0.22" letter-spacing="-0.4">30</text>
<path d="M52.00 228.50L56.00 228.50" stroke="#000" stroke-width="0.90"/>
<text x="50.50" y="232.00" font-size="10.40" text-anchor="end" stroke="#000" stroke-width="0.22" letter-spacing="-0.4">40</text>
<path d="M52.00 215.75L56.00 215.75" stroke="#000" stroke-width="0.90"/>
<text x="50.50" y="219.25" font-size="10.40" text-anchor="end" stroke="#000" stroke-width="0.22" letter-spacing="-0.4">50</text>
<path d="M52.00 203.00L56.00 203.00" stroke="#000" stroke-width="0.90"/>
<text x="50.50" y="206.50" font-size="10.40" text-anchor="end" stroke="#000" stroke-width="0.22" letter-spacing="-0.4">60</text>
<path d="M52.00 190.25L56.00 190.25" stroke="#000" stroke-width="0.90"/>
<text x="50.50" y="193.75" font-size="10.40" text-anchor="end" stroke="#000" stroke-width="0.22" letter-spacing="-0.4">70</text>
<path d="M52.00 177.50L56.00 177.50" stroke="#000" stroke-width="0.90"/>
<text x="50.50" y="182.00" font-size="10.40" text-anchor="end" stroke="#000" stroke-width="0.22" letter-spacing="-0.4">80</text>
<text x="52.40" y="174.90" font-size="10.85" stroke="#000" stroke-width="0.22">Bump Bonding Problems</text>
<rect x="189.00" y="274.40" width="7.40" height="5.30" fill="#6200ff"/>
<rect x="189.00" y="269.30" width="7.40" height="5.30" fill="#2500ff"/>
<rect x="189.00" y="264.20" width="7.40" height="5.30" fill="#0017ff"/>
<rect x="189.00" y="259.10" width="7.40" height="5.30" fill="#0054ff"/>
<rect x="189.00" y="254.00" width="7.40" height="5.30" fill="#0090ff"/>
<rect x="189.00" y="248.90" width="7.40" height="5.30" fill="#00ccff"/>
<rect x="189.00" y="243.80" width="7.40" height="5.30" fill="#00fff5"/>
<rect x="189.00" y="238.70" width="7.40" height="5.30" fill="#00ffb9"/>
<rect x="189.00" y="233.60" width="7.40" height="5.30" fill="#00ff7c"/>
<rect x="189.00" y="228.50" width="7.40" height="5.30" fill="#00ff40"/>
<rect x="189.00" y="223.40" width="7.40" height="5.30" fill="#00ff04"/>
<rect x="189.00" y="218.30" width="7.40" height="5.30" fill="#39ff00"/>
<rect x="189.00" y="213.20" width="7.40" height="5.30" fill="#75ff00"/>
<rect x="189.00" y="208.10" width="7.40" height="5.30" fill="#b2ff00"/>
<rect x="189.00" y="203.00" width="7.40" height="5.30" fill="#eeff00"/>
<rect x="189.00" y="197.90" width="7.40" height="5.30" fill="#ffd300"/>
<rect x="189.00" y="192.80" width="7.40" height="5.30" fill="#ff9700"/>
<rect x="189.00" y="187.70" width="7.40" height="5.30" fill="#ff5b00"/>
<rect x="189.00" y="182.60" width="7.40" height="5.30" fill="#ff1e00"/>
<rect x="189.00" y="177.50" width="7.40" height="5.30" fill="#ff0000"/>
<path d="M196.40 177.50L196.40 279.50" stroke="#333" stroke-width="0.60"/>
<path d="M193.10 279.50L196.70 279.50" stroke="#000" stroke-width="0.95"/>
<text transform="translate(197.00 281.00) scale(1.38 1)" font-size="4.5" font-weight="bold">-2</text>
<path d="M193.10 266.75L196.70 266.75" stroke="#000" stroke-width="0.95"/>
<text transform="translate(197.00 268.25) scale(1.38 1)" font-size="4.5" font-weight="bold">-1.5</text>
<path d="M193.10 254.00L196.70 254.00" stroke="#000" stroke-width="0.95"/>
<text transform="translate(197.00 255.50) scale(1.38 1)" font-size="4.5" font-weight="bold">-1</text>
<path d="M193.10 241.25L196.70 241.25" stroke="#000" stroke-width="0.95"/>
<text transform="translate(197.00 242.75) scale(1.38 1)" font-size="4.5" font-weight="bold">-0.5</text>
<path d="M193.10 228.50L196.70 228.50" stroke="#000" stroke-width="0.95"/>
<text transform="translate(197.00 230.00) scale(1.38 1)" font-size="4.5" font-weight="bold">0</text>
<path d="M193.10 215.75L196.70 215.75" stroke="#000" stroke-width="0.95"/>
<text transform="translate(197.00 217.25) scale(1.38 1)" font-size="4.5" font-weight="bold">0.5</text>
<path d="M193.10 203.00L196.70 203.00" stroke="#000" stroke-width="0.95"/>
<text transform="translate(197.00 204.50) scale(1.38 1)" font-size="4.5" font-weight="bold">1</text>
<path d="M193.10 190.25L196.70 190.25" stroke="#000" stroke-width="0.95"/>
<text transform="translate(197.00 191.75) scale(1.38 1)" font-size="4.5" font-weight="bold">1.5</text>
<path d="M193.10 177.50L196.70 177.50" stroke="#000" stroke-width="0.95"/>
<text transform="translate(197.00 179.00) scale(1.38 1)" font-size="4.5" font-weight="bold">2</text>
<rect x="236.50" y="177.50" width="136.00" height="102.00" fill="none" stroke="#000" stroke-width="1.1"/>
<text x="236.90" y="174.90" font-size="10.85" stroke="#000" stroke-width="0.22">Bump Bonding</text>
<path d="M247.79 279.50L247.79 275.50" stroke="#000" stroke-width="0.90"/>
<text x="247.89" y="288.10" font-size="10.40" text-anchor="middle" stroke="#000" stroke-width="0.22" letter-spacing="-0.4">-40</text>
<path d="M275.32 279.50L275.32 275.50" stroke="#000" stroke-width="0.90"/>
<text x="275.42" y="288.10" font-size="10.40" text-anchor="middle" stroke="#000" stroke-width="0.22" letter-spacing="-0.4">-30</text>
<path d="M302.85 279.50L302.85 275.50" stroke="#000" stroke-width="0.90"/>
<text x="302.95" y="288.10" font-size="10.40" text-anchor="middle" stroke="#000" stroke-width="0.22" letter-spacing="-0.4">-20</text>
<path d="M330.38 279.50L330.38 275.50" stroke="#000" stroke-width="0.90"/>
<text x="330.48" y="288.10" font-size="10.40" text-anchor="middle" stroke="#000" stroke-width="0.22" letter-spacing="-0.4">-10</text>
<path d="M357.91 279.50L357.91 275.50" stroke="#000" stroke-width="0.90"/>
<text x="358.01" y="288.10" font-size="10.40" text-anchor="middle" stroke="#000" stroke-width="0.22" letter-spacing="-0.4">0</text>
<path d="M236.50 279.50L241.00 279.50" stroke="#000" stroke-width="0.90"/>
<text x="234.60" y="283.40" font-size="10.40" text-anchor="end" stroke="#000" stroke-width="0.22">1</text>
<path d="M236.50 269.14L238.80 269.14" stroke="#000" stroke-width="0.75"/>
<path d="M236.50 263.08L238.80 263.08" stroke="#000" stroke-width="0.75"/>
<path d="M236.50 258.78L238.80 258.78" stroke="#000" stroke-width="0.75"/>
<path d="M236.50 255.44L238.80 255.44" stroke="#000" stroke-width="0.75"/>
<path d="M236.50 252.72L238.80 252.72" stroke="#000" stroke-width="0.75"/>
<path d="M236.50 250.42L238.80 250.42" stroke="#000" stroke-width="0.75"/>
<path d="M236.50 248.42L238.80 248.42" stroke="#000" stroke-width="0.75"/>
<path d="M236.50 246.66L238.80 246.66" stroke="#000" stroke-width="0.75"/>
<path d="M236.50 245.08L241.00 245.08" stroke="#000" stroke-width="0.90"/>
<text x="234.70" y="248.78" font-size="10.40" text-anchor="end" stroke="#000" stroke-width="0.22" letter-spacing="-0.4">10</text>
<path d="M236.50 234.72L238.80 234.72" stroke="#000" stroke-width="0.75"/>
<path d="M236.50 228.66L238.80 228.66" stroke="#000" stroke-width="0.75"/>
<path d="M236.50 224.36L238.80 224.36" stroke="#000" stroke-width="0.75"/>
<path d="M236.50 221.03L238.80 221.03" stroke="#000" stroke-width="0.75"/>
<path d="M236.50 218.30L238.80 218.30" stroke="#000" stroke-width="0.75"/>
<path d="M236.50 216.00L238.80 216.00" stroke="#000" stroke-width="0.75"/>
<path d="M236.50 214.00L238.80 214.00" stroke="#000" stroke-width="0.75"/>
<path d="M236.50 212.24L238.80 212.24" stroke="#000" stroke-width="0.75"/>
<path d="M236.50 210.67L241.00 210.67" stroke="#000" stroke-width="0.90"/>
<text x="235.30" y="215.27" font-size="10.40" text-anchor="end">10<tspan font-size="7" dy="-3.8">2</tspan></text>
<path d="M236.50 200.31L238.80 200.31" stroke="#000" stroke-width="0.75"/>
<path d="M236.50 194.25L238.80 194.25" stroke="#000" stroke-width="0.75"/>
<path d="M236.50 189.95L238.80 189.95" stroke="#000" stroke-width="0.75"/>
<path d="M236.50 186.61L238.80 186.61" stroke="#000" stroke-width="0.75"/>
<path d="M236.50 183.89L238.80 183.89" stroke="#000" stroke-width="0.75"/>
<path d="M236.50 181.58L238.80 181.58" stroke="#000" stroke-width="0.75"/>
<path d="M236.50 179.59L238.80 179.59" stroke="#000" stroke-width="0.75"/>
<path d="M236.50 177.83L238.80 177.83" stroke="#000" stroke-width="0.75"/>
<path d="M250.54 279.50V258.78H253.29V252.72H256.05V239.02H258.80V234.00H261.55V227.70H264.31V217.57H267.06V212.92H269.81V204.61H272.56V204.61H275.32V205.96H278.07V205.64H280.82V198.82H283.58V193.47H286.33V190.79H289.08V187.41H291.84V187.41H294.59V193.47H297.34V197.52H300.10V197.40H302.85V195.33H305.60V196.85H308.35V206.52H311.11V221.64H313.86V230.24H316.61V227.70H319.37V230.24H322.12V234.72H324.87V252.72H327.63V258.78H330.38V279.50" fill="none" stroke="#111" stroke-width="0.90" stroke-linejoin="miter"/>
<path d="M357.91 279.50V269.14H360.66V279.50" fill="none" stroke="#111" stroke-width="0.90" stroke-linejoin="miter"/>
<rect x="420.50" y="177.50" width="136.00" height="102.00" fill="none" stroke="#000" stroke-width="1.1"/>
<text x="420.90" y="174.90" font-size="10.85" stroke="#000" stroke-width="0.22">Trim Bit Test</text>
<path d="M420.50 279.50L420.50 275.50" stroke="#000" stroke-width="0.90"/>
<text x="420.60" y="288.10" font-size="10.40" text-anchor="middle" stroke="#000" stroke-width="0.22" letter-spacing="-0.4">0</text>
<path d="M465.24 279.50L465.24 275.50" stroke="#000" stroke-width="0.90"/>
<text x="465.34" y="288.10" font-size="10.40" text-anchor="middle" stroke="#000" stroke-width="0.22" letter-spacing="-0.4">20</text>
<path d="M509.97 279.50L509.97 275.50" stroke="#000" stroke-width="0.90"/>
<text x="510.07" y="288.10" font-size="10.40" text-anchor="middle" stroke="#000" stroke-width="0.22" letter-spacing="-0.4">40</text>
<path d="M554.71 279.50L554.71 275.50" stroke="#000" stroke-width="0.90"/>
<text x="554.81" y="288.10" font-size="10.40" text-anchor="middle" stroke="#000" stroke-width="0.22" letter-spacing="-0.4">60</text>
<path d="M420.50 279.50L422.80 279.50" stroke="#000" stroke-width="0.75"/>
<path d="M420.50 277.35L422.80 277.35" stroke="#000" stroke-width="0.75"/>
<path d="M420.50 275.54L422.80 275.54" stroke="#000" stroke-width="0.75"/>
<path d="M420.50 273.97L422.80 273.97" stroke="#000" stroke-width="0.75"/>
<path d="M420.50 272.58L422.80 272.58" stroke="#000" stroke-width="0.75"/>
<path d="M420.50 271.34L425.00 271.34" stroke="#000" stroke-width="0.90"/>
<text x="418.60" y="275.24" font-size="10.40" text-anchor="end" stroke="#000" stroke-width="0.22">1</text>
<path d="M420.50 263.18L422.80 263.18" stroke="#000" stroke-width="0.75"/>
<path d="M420.50 258.41L422.80 258.41" stroke="#000" stroke-width="0.75"/>
<path d="M420.50 255.02L422.80 255.02" stroke="#000" stroke-width="0.75"/>
<path d="M420.50 252.40L422.80 252.40" stroke="#000" stroke-width="0.75"/>
<path d="M420.50 250.25L422.80 250.25" stroke="#000" stroke-width="0.75"/>
<path d="M420.50 248.44L422.80 248.44" stroke="#000" stroke-width="0.75"/>
<path d="M420.50 246.86L422.80 246.86" stroke="#000" stroke-width="0.75"/>
<path d="M420.50 245.48L422.80 245.48" stroke="#000" stroke-width="0.75"/>
<path d="M420.50 244.24L425.00 244.24" stroke="#000" stroke-width="0.90"/>
<text x="418.70" y="247.94" font-size="10.40" text-anchor="end" stroke="#000" stroke-width="0.22" letter-spacing="-0.4">10</text>
<path d="M420.50 236.08L422.80 236.08" stroke="#000" stroke-width="0.75"/>
<path d="M420.50 231.31L422.80 231.31" stroke="#000" stroke-width="0.75"/>
<path d="M420.50 227.92L422.80 227.92" stroke="#000" stroke-width="0.75"/>
<path d="M420.50 225.29L422.80 225.29" stroke="#000" stroke-width="0.75"/>
<path d="M420.50 223.15L422.80 223.15" stroke="#000" stroke-width="0.75"/>
<path d="M420.50 221.33L422.80 221.33" stroke="#000" stroke-width="0.75"/>
<path d="M420.50 219.76L422.80 219.76" stroke="#000" stroke-width="0.75"/>
<path d="M420.50 218.38L422.80 218.38" stroke="#000" stroke-width="0.75"/>
<path d="M420.50 217.14L425.00 217.14" stroke="#000" stroke-width="0.90"/>
<text x="419.30" y="221.74" font-size="10.40" text-anchor="end">10<tspan font-size="7" dy="-3.8">2</tspan></text>
<path d="M420.50 208.98L422.80 208.98" stroke="#000" stroke-width="0.75"/>
<path d="M420.50 204.20L422.80 204.20" stroke="#000" stroke-width="0.75"/>
<path d="M420.50 200.82L422.80 200.82" stroke="#000" stroke-width="0.75"/>
<path d="M420.50 198.19L422.80 198.19" stroke="#000" stroke-width="0.75"/>
<path d="M420.50 196.05L422.80 196.05" stroke="#000" stroke-width="0.75"/>
<path d="M420.50 194.23L422.80 194.23" stroke="#000" stroke-width="0.75"/>
<path d="M420.50 192.66L422.80 192.66" stroke="#000" stroke-width="0.75"/>
<path d="M420.50 191.27L422.80 191.27" stroke="#000" stroke-width="0.75"/>
<path d="M420.50 190.03L425.00 190.03" stroke="#000" stroke-width="0.90"/>
<text x="419.30" y="194.63" font-size="10.40" text-anchor="end">10<tspan font-size="7" dy="-3.8">3</tspan></text>
<path d="M420.50 181.87L422.80 181.87" stroke="#000" stroke-width="0.75"/>
<path d="M458.53 279.50V279.20H460.76V254.73H463.00V233.93H465.24V216.01H467.47V190.23H469.71V185.82H471.95V189.46H474.18V196.77H476.42V227.92H478.66V279.20H480.89V279.50" fill="none" stroke="#222" stroke-width="0.90" stroke-linejoin="miter"/>
<path d="M469.71 279.50V279.20H471.95V253.13H474.18V229.83H476.42V202.06H478.66V187.89H480.89V182.48H483.13V213.78H485.37V220.52H487.61V240.79H489.84V250.85H492.08V279.20H494.32V279.50" fill="none" stroke="#ff1a1a" stroke-width="0.90" stroke-linejoin="miter"/>
<path d="M478.66 279.50V279.20H480.89V245.74H483.13V210.22H485.37V193.11H487.61V191.81H489.84V191.81H492.08V192.66H494.32V198.19H496.55V206.12H498.79V231.71H501.03V270.77H503.26V279.20H505.50V279.50" fill="none" stroke="#1a1aff" stroke-width="0.90" stroke-linejoin="miter"/>
<path d="M420.50 279.50V263.18H422.74V279.20H424.97V279.20H427.21V279.20H429.45V279.20H431.68V279.20H433.92V279.20H436.16V279.20H438.39V279.20H440.63V279.20H442.87V279.20H445.11V279.20H447.34V279.20H449.58V279.20H451.82V279.20H454.05V279.20H456.29V279.20H458.53V279.20H460.76V279.20H463.00V279.20H465.24V279.20H467.47V279.20H469.71V254.45H471.95V232.99H474.18V204.77H476.42V190.82H478.66V182.29H480.89V190.82H483.13V215.80H485.37V221.85H487.61V241.15H489.84V279.20H492.08V279.20H494.32V279.20H496.55V279.20H498.79V279.20H501.03V279.20H503.26V279.20H505.50V279.20H507.74V279.20H509.97V279.20H512.21V279.20H514.45V279.20H516.68V279.20H518.92V279.20H521.16V279.20H523.39V279.20H525.63V279.20H527.87V279.20H530.11V279.20H532.34V279.20H534.58V279.20H536.82V279.20H539.05V279.20H541.29V279.20H543.53V279.20H545.76V279.20H548.00V279.20H550.24V279.20H552.47V279.20H554.71V279.50" fill="none" stroke="#10e010" stroke-width="0.90" stroke-linejoin="miter"/>
<text x="604.20" y="188.40" font-size="11.60" font-weight="bold">Summary</text>
<text x="705.80" y="188.40" font-size="11.60" font-weight="bold">0</text>
<text x="604.20" y="202.60" font-size="10.85" stroke="#000" stroke-width="0.22">Dead Pixels:</text>
<text x="720.60" y="202.60" font-size="10.85" text-anchor="end" stroke="#000" stroke-width="0.22">2</text>
<text x="604.20" y="214.90" font-size="10.85" stroke="#000" stroke-width="0.22">Noisy Pixels:</text>
<text x="720.60" y="214.90" font-size="10.85" text-anchor="end" stroke="#000" stroke-width="0.22">0</text>
<text x="604.20" y="228.60" font-size="10.85" stroke="#000" stroke-width="0.22">Mask defects:</text>
<text x="720.60" y="228.60" font-size="10.85" text-anchor="end" stroke="#000" stroke-width="0.22">0</text>
<text x="604.20" y="240.60" font-size="10.85" stroke="#000" stroke-width="0.22">Dead Bumps:</text>
<text x="720.60" y="240.60" font-size="10.85" text-anchor="end" stroke="#000" stroke-width="0.22">2</text>
<text x="604.20" y="253.10" font-size="10.85" stroke="#000" stroke-width="0.22">Dead Trimbits:</text>
<text x="720.60" y="253.10" font-size="10.85" text-anchor="end" stroke="#000" stroke-width="0.22">8</text>
<text x="604.20" y="265.60" font-size="10.85" stroke="#000" stroke-width="0.22">Address Probl:</text>
<text x="720.60" y="265.60" font-size="10.85" text-anchor="end" stroke="#000" stroke-width="0.22">2</text>
<rect x="52.00" y="315.50" width="136.00" height="102.00" fill="#ff0000"/>
<path d="M54.62 315.50V417.50M57.23 315.50V417.50M59.85 315.50V417.50M62.46 315.50V417.50M65.08 315.50V417.50M67.69 315.50V417.50M70.31 315.50V417.50M72.92 315.50V417.50M75.54 315.50V417.50M78.15 315.50V417.50M80.77 315.50V417.50M83.38 315.50V417.50M86.00 315.50V417.50M88.62 315.50V417.50M91.23 315.50V417.50M93.85 315.50V417.50M96.46 315.50V417.50M99.08 315.50V417.50M101.69 315.50V417.50M104.31 315.50V417.50M106.92 315.50V417.50M109.54 315.50V417.50M112.15 315.50V417.50M114.77 315.50V417.50M117.38 315.50V417.50M120.00 315.50V417.50M122.62 315.50V417.50M125.23 315.50V417.50M127.85 315.50V417.50M130.46 315.50V417.50M133.08 315.50V417.50M135.69 315.50V417.50M138.31 315.50V417.50M140.92 315.50V417.50M143.54 315.50V417.50M146.15 315.50V417.50M148.77 315.50V417.50M151.38 315.50V417.50M154.00 315.50V417.50M156.62 315.50V417.50M159.23 315.50V417.50M161.85 315.50V417.50M164.46 315.50V417.50M167.08 315.50V417.50M169.69 315.50V417.50M172.31 315.50V417.50M174.92 315.50V417.50M177.54 315.50V417.50M180.15 315.50V417.50M182.77 315.50V417.50M185.38 315.50V417.50" stroke="#fff" stroke-opacity="0.16" stroke-width="1" fill="none" shape-rendering="crispEdges"/>
<path d="M52.00 318.00H188.00M52.00 323.10H188.00M52.00 328.20H188.00M52.00 333.30H188.00M52.00 338.40H188.00M52.00 343.50H188.00M52.00 348.60H188.00M52.00 353.70H188.00M52.00 358.80H188.00M52.00 363.90H188.00M52.00 369.00H188.00M52.00 374.10H188.00M52.00 379.20H188.00M52.00 384.30H188.00M52.00 389.40H188.00M52.00 394.50H188.00M52.00 399.60H188.00M52.00 404.70H188.00M52.00 409.80H188.00M52.00 414.90H188.00" stroke="#fff" stroke-opacity="0.24" stroke-width="2.8" fill="none"/>
<rect x="75.54" y="352.48" width="2.62" height="1.27" fill="#fff"/>
<rect x="101.69" y="369.05" width="2.62" height="1.27" fill="#fff"/>
<path d="M188.00 315.50V417.50" fill="none" stroke="#999" stroke-width="0.9"/>
<path d="M188.00 315.50H52.00" fill="none" stroke="#7a0000" stroke-width="0.6"/>
<path d="M52.00 315.00V417.50H188.00" fill="none" stroke="#000" stroke-width="1.1"/>
<path d="M52.00 417.50L52.00 413.50" stroke="#000" stroke-width="0.90"/>
<text x="52.10" y="426.10" font-size="10.40" text-anchor="middle" stroke="#000" stroke-width="0.22" letter-spacing="-0.4">0</text>
<path d="M78.15 417.50L78.15 413.50" stroke="#000" stroke-width="0.90"/>
<text x="78.25" y="426.10" font-size="10.40" text-anchor="middle" stroke="#000" stroke-width="0.22" letter-spacing="-0.4">10</text>
<path d="M104.31 417.50L104.31 413.50" stroke="#000" stroke-width="0.90"/>
<text x="104.41" y="426.10" font-size="10.40" text-anchor="middle" stroke="#000" stroke-width="0.22" letter-spacing="-0.4">20</text>
<path d="M130.46 417.50L130.46 413.50" stroke="#000" stroke-width="0.90"/>
<text x="130.56" y="426.10" font-size="10.40" text-anchor="middle" stroke="#000" stroke-width="0.22" letter-spacing="-0.4">30</text>
<path d="M156.62 417.50L156.62 413.50" stroke="#000" stroke-width="0.90"/>
<text x="156.72" y="426.10" font-size="10.40" text-anchor="middle" stroke="#000" stroke-width="0.22" letter-spacing="-0.4">40</text>
<path d="M182.77 417.50L182.77 413.50" stroke="#000" stroke-width="0.90"/>
<text x="182.87" y="426.10" font-size="10.40" text-anchor="middle" stroke="#000" stroke-width="0.22" letter-spacing="-0.4">50</text>
<path d="M52.00 417.50L56.00 417.50" stroke="#000" stroke-width="0.90"/>
<text x="50.50" y="421.00" font-size="10.40" text-anchor="end" stroke="#000" stroke-width="0.22" letter-spacing="-0.4">0</text>
<path d="M52.00 404.75L56.00 404.75" stroke="#000" stroke-width="0.90"/>
<text x="50.50" y="408.25" font-size="10.40" text-anchor="end" stroke="#000" stroke-width="0.22" letter-spacing="-0.4">10</text>
<path d="M52.00 392.00L56.00 392.00" stroke="#000" stroke-width="0.90"/>
<text x="50.50" y="395.50" font-size="10.40" text-anchor="end" stroke="#000" stroke-width="0.22" letter-spacing="-0.4">20</text>
<path d="M52.00 379.25L56.00 379.25" stroke="#000" stroke-width="0.90"/>
<text x="50.50" y="382.75" font-size="10.40" text-anchor="end" stroke="#000" stroke-width="0.22" letter-spacing="-0.4">30</text>
<path d="M52.00 366.50L56.00 366.50" stroke="#000" stroke-width="0.90"/>
<text x="50.50" y="370.00" font-size="10.40" text-anchor="end" stroke="#000" stroke-width="0.22" letter-spacing="-0.4">40</text>
<path d="M52.00 353.75L56.00 353.75" stroke="#000" stroke-width="0.90"/>
<text x="50.50" y="357.25" font-size="10.40" text-anchor="end" stroke="#000" stroke-width="0.22" letter-spacing="-0.4">50</text>
<path d="M52.00 341.00L56.00 341.00" stroke="#000" stroke-width="0.90"/>
<text x="50.50" y="344.50" font-size="10.40" text-anchor="end" stroke="#000" stroke-width="0.22" letter-spacing="-0.4">60</text>
<path d="M52.00 328.25L56.00 328.25" stroke="#000" stroke-width="0.90"/>
<text x="50.50" y="331.75" font-size="10.40" text-anchor="end" stroke="#000" stroke-width="0.22" letter-spacing="-0.4">70</text>
<path d="M52.00 315.50L56.00 315.50" stroke="#000" stroke-width="0.90"/>
<text x="50.50" y="320.00" font-size="10.40" text-anchor="end" stroke="#000" stroke-width="0.22" letter-spacing="-0.4">80</text>
<text x="52.40" y="312.90" font-size="10.85" stroke="#000" stroke-width="0.22">Address decoding</text>
<rect x="189.00" y="412.40" width="7.40" height="5.30" fill="#6200ff"/>
<rect x="189.00" y="407.30" width="7.40" height="5.30" fill="#2500ff"/>
<rect x="189.00" y="402.20" width="7.40" height="5.30" fill="#0017ff"/>
<rect x="189.00" y="397.10" width="7.40" height="5.30" fill="#0054ff"/>
<rect x="189.00" y="392.00" width="7.40" height="5.30" fill="#0090ff"/>
<rect x="189.00" y="386.90" width="7.40" height="5.30" fill="#00ccff"/>
<rect x="189.00" y="381.80" width="7.40" height="5.30" fill="#00fff5"/>
<rect x="189.00" y="376.70" width="7.40" height="5.30" fill="#00ffb9"/>
<rect x="189.00" y="371.60" width="7.40" height="5.30" fill="#00ff7c"/>
<rect x="189.00" y="366.50" width="7.40" height="5.30" fill="#00ff40"/>
<rect x="189.00" y="361.40" width="7.40" height="5.30" fill="#00ff04"/>
<rect x="189.00" y="356.30" width="7.40" height="5.30" fill="#39ff00"/>
<rect x="189.00" y="351.20" width="7.40" height="5.30" fill="#75ff00"/>
<rect x="189.00" y="346.10" width="7.40" height="5.30" fill="#b2ff00"/>
<rect x="189.00" y="341.00" width="7.40" height="5.30" fill="#eeff00"/>
<rect x="189.00" y="335.90" width="7.40" height="5.30" fill="#ffd300"/>
<rect x="189.00" y="330.80" width="7.40" height="5.30" fill="#ff9700"/>
<rect x="189.00" y="325.70" width="7.40" height="5.30" fill="#ff5b00"/>
<rect x="189.00" y="320.60" width="7.40" height="5.30" fill="#ff1e00"/>
<rect x="189.00" y="315.50" width="7.40" height="5.30" fill="#ff0000"/>
<path d="M196.40 315.50L196.40 417.50" stroke="#333" stroke-width="0.60"/>
<path d="M193.10 417.50L196.70 417.50" stroke="#000" stroke-width="0.95"/>
<text transform="translate(197.00 419.00) scale(1.38 1)" font-size="4.5" font-weight="bold">0</text>
<path d="M193.10 407.30L196.70 407.30" stroke="#000" stroke-width="0.95"/>
<text transform="translate(197.00 408.80) scale(1.38 1)" font-size="4.5" font-weight="bold">0.1</text>
<path d="M193.10 397.10L196.70 397.10" stroke="#000" stroke-width="0.95"/>
<text transform="translate(197.00 398.60) scale(1.38 1)" font-size="4.5" font-weight="bold">0.2</text>
<path d="M193.10 386.90L196.70 386.90" stroke="#000" stroke-width="0.95"/>
<text transform="translate(197.00 388.40) scale(1.38 1)" font-size="4.5" font-weight="bold">0.3</text>
<path d="M193.10 376.70L196.70 376.70" stroke="#000" stroke-width="0.95"/>
<text transform="translate(197.00 378.20) scale(1.38 1)" font-size="4.5" font-weight="bold">0.4</text>
<path d="M193.10 366.50L196.70 366.50" stroke="#000" stroke-width="0.95"/>
<text transform="translate(197.00 368.00) scale(1.38 1)" font-size="4.5" font-weight="bold">0.5</text>
<path d="M193.10 356.30L196.70 356.30" stroke="#000" stroke-width="0.95"/>
<text transform="translate(197.00 357.80) scale(1.38 1)" font-size="4.5" font-weight="bold">0.6</text>
<path d="M193.10 346.10L196.70 346.10" stroke="#000" stroke-width="0.95"/>
<text transform="translate(197.00 347.60) scale(1.38 1)" font-size="4.5" font-weight="bold">0.7</text>
<path d="M193.10 335.90L196.70 335.90" stroke="#000" stroke-width="0.95"/>
<text transform="translate(197.00 337.40) scale(1.38 1)" font-size="4.5" font-weight="bold">0.8</text>
<path d="M193.10 325.70L196.70 325.70" stroke="#000" stroke-width="0.95"/>
<text transform="translate(197.00 327.20) scale(1.38 1)" font-size="4.5" font-weight="bold">0.9</text>
<path d="M193.10 315.50L196.70 315.50" stroke="#000" stroke-width="0.95"/>
<text transform="translate(197.00 317.00) scale(1.38 1)" font-size="4.5" font-weight="bold">1</text>
<rect x="236.50" y="315.50" width="136.00" height="102.00" fill="none" stroke="#000" stroke-width="1.1"/>
<text x="236.90" y="312.90" font-size="10.85" stroke="#000" stroke-width="0.22">Address Levels</text>
<path d="M248.86 417.50L248.86 413.50" stroke="#000" stroke-width="0.90"/>
<text x="248.96" y="426.10" font-size="10.40" text-anchor="middle" stroke="#000" stroke-width="0.22" letter-spacing="-0.4">-1000</text>
<path d="M279.77 417.50L279.77 413.50" stroke="#000" stroke-width="0.90"/>
<text x="279.87" y="426.10" font-size="10.40" text-anchor="middle" stroke="#000" stroke-width="0.22" letter-spacing="-0.4">-500</text>
<path d="M310.68 417.50L310.68 413.50" stroke="#000" stroke-width="0.90"/>
<text x="310.78" y="426.10" font-size="10.40" text-anchor="middle" stroke="#000" stroke-width="0.22" letter-spacing="-0.4">0</text>
<path d="M341.59 417.50L341.59 413.50" stroke="#000" stroke-width="0.90"/>
<text x="341.69" y="426.10" font-size="10.40" text-anchor="middle" stroke="#000" stroke-width="0.22" letter-spacing="-0.4">500</text>
<path d="M372.50 417.50L372.50 413.50" stroke="#000" stroke-width="0.90"/>
<text x="372.60" y="426.10" font-size="10.40" text-anchor="middle" stroke="#000" stroke-width="0.22" letter-spacing="-0.4">1000</text>
<path d="M236.50 417.50L238.80 417.50" stroke="#000" stroke-width="0.75"/>
<path d="M236.50 415.05L238.80 415.05" stroke="#000" stroke-width="0.75"/>
<path d="M236.50 412.98L238.80 412.98" stroke="#000" stroke-width="0.75"/>
<path d="M236.50 411.18L238.80 411.18" stroke="#000" stroke-width="0.75"/>
<path d="M236.50 409.60L238.80 409.60" stroke="#000" stroke-width="0.75"/>
<path d="M236.50 408.19L241.00 408.19" stroke="#000" stroke-width="0.90"/>
<text x="234.60" y="412.09" font-size="10.40" text-anchor="end" stroke="#000" stroke-width="0.22">1</text>
<path d="M236.50 398.87L238.80 398.87" stroke="#000" stroke-width="0.75"/>
<path d="M236.50 393.42L238.80 393.42" stroke="#000" stroke-width="0.75"/>
<path d="M236.50 389.56L238.80 389.56" stroke="#000" stroke-width="0.75"/>
<path d="M236.50 386.56L238.80 386.56" stroke="#000" stroke-width="0.75"/>
<path d="M236.50 384.11L238.80 384.11" stroke="#000" stroke-width="0.75"/>
<path d="M236.50 382.04L238.80 382.04" stroke="#000" stroke-width="0.75"/>
<path d="M236.50 380.24L238.80 380.24" stroke="#000" stroke-width="0.75"/>
<path d="M236.50 378.66L238.80 378.66" stroke="#000" stroke-width="0.75"/>
<path d="M236.50 377.25L241.00 377.25" stroke="#000" stroke-width="0.90"/>
<text x="234.70" y="380.95" font-size="10.40" text-anchor="end" stroke="#000" stroke-width="0.22" letter-spacing="-0.4">10</text>
<path d="M236.50 367.93L238.80 367.93" stroke="#000" stroke-width="0.75"/>
<path d="M236.50 362.48L238.80 362.48" stroke="#000" stroke-width="0.75"/>
<path d="M236.50 358.62L238.80 358.62" stroke="#000" stroke-width="0.75"/>
<path d="M236.50 355.62L238.80 355.62" stroke="#000" stroke-width="0.75"/>
<path d="M236.50 353.17L238.80 353.17" stroke="#000" stroke-width="0.75"/>
<path d="M236.50 351.10L238.80 351.10" stroke="#000" stroke-width="0.75"/>
<path d="M236.50 349.30L238.80 349.30" stroke="#000" stroke-width="0.75"/>
<path d="M236.50 347.72L238.80 347.72" stroke="#000" stroke-width="0.75"/>
<path d="M236.50 346.31L241.00 346.31" stroke="#000" stroke-width="0.90"/>
<text x="235.30" y="350.91" font-size="10.40" text-anchor="end">10<tspan font-size="7" dy="-3.8">2</tspan></text>
<path d="M236.50 336.99L238.80 336.99" stroke="#000" stroke-width="0.75"/>
<path d="M236.50 331.54L238.80 331.54" stroke="#000" stroke-width="0.75"/>
<path d="M236.50 327.68L238.80 327.68" stroke="#000" stroke-width="0.75"/>
<path d="M236.50 324.68L238.80 324.68" stroke="#000" stroke-width="0.75"/>
<path d="M236.50 322.23L238.80 322.23" stroke="#000" stroke-width="0.75"/>
<path d="M236.50 320.16L238.80 320.16" stroke="#000" stroke-width="0.75"/>
<path d="M236.50 318.36L238.80 318.36" stroke="#000" stroke-width="0.75"/>
<path d="M236.50 316.78L238.80 316.78" stroke="#000" stroke-width="0.75"/>
<path d="M267.04 417.50V358.17M268.69 417.50V340.41" fill="none" stroke="#888" stroke-width="0.8"/>
<path d="M267.84 417.50V324.23" fill="none" stroke="#000" stroke-width="1.05"/>
<path d="M299.99 417.50V359.17M301.64 417.50V341.41" fill="none" stroke="#888" stroke-width="0.8"/>
<path d="M300.79 417.50V325.23" fill="none" stroke="#000" stroke-width="1.05"/>
<path d="M312.54 417.50V359.17M314.19 417.50V341.41" fill="none" stroke="#888" stroke-width="0.8"/>
<path d="M313.34 417.50V325.23" fill="none" stroke="#000" stroke-width="1.05"/>
<path d="M324.66 417.50V358.89M326.31 417.50V341.13" fill="none" stroke="#888" stroke-width="0.8"/>
<path d="M325.46 417.50V324.95" fill="none" stroke="#000" stroke-width="1.05"/>
<path d="M336.34 417.50V360.77M337.99 417.50V343.01" fill="none" stroke="#888" stroke-width="0.8"/>
<path d="M337.14 417.50V326.83" fill="none" stroke="#000" stroke-width="1.05"/>
<path d="M347.47 417.50V366.22M349.12 417.50V348.46" fill="none" stroke="#888" stroke-width="0.8"/>
<path d="M348.27 417.50V332.28" fill="none" stroke="#000" stroke-width="1.05"/>
<path d="M357.98 417.50V371.20M359.63 417.50V353.44" fill="none" stroke="#888" stroke-width="0.8"/>
<path d="M358.78 417.50V337.26" fill="none" stroke="#000" stroke-width="1.05"/>
<rect x="420.50" y="315.50" width="136.00" height="102.00" fill="none" stroke="#000" stroke-width="1.1"/>
<text x="420.90" y="312.90" font-size="10.85" stroke="#000" stroke-width="0.22">PH Calibration: Gain</text>
<path d="M420.50 417.50L420.50 413.50" stroke="#000" stroke-width="0.90"/>
<text x="420.60" y="426.10" font-size="10.40" text-anchor="middle" stroke="#000" stroke-width="0.22" letter-spacing="-0.4">0</text>
<path d="M445.05 417.50L445.05 413.50" stroke="#000" stroke-width="0.90"/>
<text x="445.15" y="426.10" font-size="10.40" text-anchor="middle" stroke="#000" stroke-width="0.22" letter-spacing="-0.4">1</text>
<path d="M469.60 417.50L469.60 413.50" stroke="#000" stroke-width="0.90"/>
<text x="469.70" y="426.10" font-size="10.40" text-anchor="middle" stroke="#000" stroke-width="0.22" letter-spacing="-0.4">2</text>
<path d="M494.15 417.50L494.15 413.50" stroke="#000" stroke-width="0.90"/>
<text x="494.25" y="426.10" font-size="10.40" text-anchor="middle" stroke="#000" stroke-width="0.22" letter-spacing="-0.4">3</text>
<path d="M518.69 417.50L518.69 413.50" stroke="#000" stroke-width="0.90"/>
<text x="518.79" y="426.10" font-size="10.40" text-anchor="middle" stroke="#000" stroke-width="0.22" letter-spacing="-0.4">4</text>
<path d="M543.24 417.50L543.24 413.50" stroke="#000" stroke-width="0.90"/>
<text x="543.34" y="426.10" font-size="10.40" text-anchor="middle" stroke="#000" stroke-width="0.22" letter-spacing="-0.4">5</text>
<path d="M420.50 417.50L424.50 417.50" stroke="#000" stroke-width="0.90"/>
<text x="419.00" y="421.00" font-size="10.40" text-anchor="end" stroke="#000" stroke-width="0.22" letter-spacing="-0.4">0</text>
<path d="M420.50 402.30L424.50 402.30" stroke="#000" stroke-width="0.90"/>
<text x="419.00" y="405.80" font-size="10.40" text-anchor="end" stroke="#000" stroke-width="0.22" letter-spacing="-0.4">200</text>
<path d="M420.50 387.10L424.50 387.10" stroke="#000" stroke-width="0.90"/>
<text x="419.00" y="390.60" font-size="10.40" text-anchor="end" stroke="#000" stroke-width="0.22" letter-spacing="-0.4">400</text>
<path d="M420.50 371.90L424.50 371.90" stroke="#000" stroke-width="0.90"/>
<text x="419.00" y="375.40" font-size="10.40" text-anchor="end" stroke="#000" stroke-width="0.22" letter-spacing="-0.4">600</text>
<path d="M420.50 356.70L424.50 356.70" stroke="#000" stroke-width="0.90"/>
<text x="419.00" y="360.20" font-size="10.40" text-anchor="end" stroke="#000" stroke-width="0.22" letter-spacing="-0.4">800</text>
<path d="M420.50 341.50L424.50 341.50" stroke="#000" stroke-width="0.90"/>
<path d="M420.50 326.30L424.50 326.30" stroke="#000" stroke-width="0.90"/>
<path d="M467.35 417.50V411.88H468.40V392.19H469.07V345.00H470.50V320.98H471.00V338.23H471.40V387.94H472.50V411.88H473.35V417.50" fill="none" stroke="#111" stroke-width="0.80" stroke-linejoin="miter"/>
<text x="427.80" y="325.90" font-size="10.20" stroke="#000" stroke-width="0.22">μ:2.02</text>
<text x="427.80" y="335.50" font-size="10.20" stroke="#000" stroke-width="0.22">σ: 0.03</text>
<rect x="605.00" y="315.50" width="136.00" height="102.00" fill="none" stroke="#000" stroke-width="1.1"/>
<text x="604.40" y="312.90" font-size="10.85" stroke="#000" stroke-width="0.22">PH Calibration: Pedestal</text>
<path d="M632.48 417.50L632.48 413.50" stroke="#000" stroke-width="0.90"/>
<text x="632.58" y="426.10" font-size="10.40" text-anchor="middle" stroke="#000" stroke-width="0.22" letter-spacing="-0.4">-1000</text>
<path d="M666.25 417.50L666.25 413.50" stroke="#000" stroke-width="0.90"/>
<text x="666.35" y="426.10" font-size="10.40" text-anchor="middle" stroke="#000" stroke-width="0.22" letter-spacing="-0.4">-500</text>
<path d="M700.01 417.50L700.01 413.50" stroke="#000" stroke-width="0.90"/>
<text x="700.11" y="426.10" font-size="10.40" text-anchor="middle" stroke="#000" stroke-width="0.22" letter-spacing="-0.4">0</text>
<path d="M733.77 417.50L733.77 413.50" stroke="#000" stroke-width="0.90"/>
<text x="733.87" y="426.10" font-size="10.40" text-anchor="middle" stroke="#000" stroke-width="0.22" letter-spacing="-0.4">500</text>
<path d="M605.00 417.50L609.00 417.50" stroke="#000" stroke-width="0.90"/>
<text x="603.50" y="421.00" font-size="10.40" text-anchor="end" stroke="#000" stroke-width="0.22" letter-spacing="-0.4">0</text>
<path d="M605.00 405.20L609.00 405.20" stroke="#000" stroke-width="0.90"/>
<text x="603.50" y="408.70" font-size="10.40" text-anchor="end" stroke="#000" stroke-width="0.22" letter-spacing="-0.4">20</text>
<path d="M605.00 392.90L609.00 392.90" stroke="#000" stroke-width="0.90"/>
<text x="603.50" y="396.40" font-size="10.40" text-anchor="end" stroke="#000" stroke-width="0.22" letter-spacing="-0.4">40</text>
<path d="M605.00 380.60L609.00 380.60" stroke="#000" stroke-width="0.90"/>
<text x="603.50" y="384.10" font-size="10.40" text-anchor="end" stroke="#000" stroke-width="0.22" letter-spacing="-0.4">60</text>
<path d="M605.00 368.30L609.00 368.30" stroke="#000" stroke-width="0.90"/>
<text x="603.50" y="371.80" font-size="10.40" text-anchor="end" stroke="#000" stroke-width="0.22" letter-spacing="-0.4">80</text>
<path d="M605.00 356.00L609.00 356.00" stroke="#000" stroke-width="0.90"/>
<text x="603.50" y="359.50" font-size="10.40" text-anchor="end" stroke="#000" stroke-width="0.22" letter-spacing="-0.4">100</text>
<path d="M605.00 343.70L609.00 343.70" stroke="#000" stroke-width="0.90"/>
<text x="603.50" y="347.20" font-size="10.40" text-anchor="end" stroke="#000" stroke-width="0.22" letter-spacing="-0.4">120</text>
<path d="M605.00 331.40L609.00 331.40" stroke="#000" stroke-width="0.90"/>
<text x="603.50" y="334.90" font-size="10.40" text-anchor="end" stroke="#000" stroke-width="0.22" letter-spacing="-0.4">140</text>
<path d="M605.00 319.10L609.00 319.10" stroke="#000" stroke-width="0.90"/>
<text x="603.50" y="322.60" font-size="10.40" text-anchor="end" stroke="#000" stroke-width="0.22" letter-spacing="-0.4">160</text>
<path d="M649.60 417.50V417.50H650.26V416.94H650.92V412.04H651.58V405.14H652.24V397.48H652.90V389.99H653.56V384.05H654.22V375.65H654.88V367.79H655.54V359.51H656.20V356.48H656.86V348.03H657.52V342.57H658.18V335.09H658.84V320.94H659.50V335.09H660.16V332.60H660.82V340.34H661.48V350.01H662.14V357.62H662.80V367.35H663.46V375.00H664.12V379.99H664.78V388.69H665.44V395.34H666.10V402.30H666.76V410.05H667.42V415.49H668.08V417.50H668.74V417.50H669.40V417.50" fill="none" stroke="#000" stroke-width="0.90" stroke-linejoin="miter"/>
<text x="696.80" y="325.90" font-size="10.20" stroke="#000" stroke-width="0.22">μ:-598.1</text>
<text x="696.80" y="335.50" font-size="10.20" stroke="#000" stroke-width="0.22">σ: 46.5</text>
<path d="M80.8 455.1h2.7v1.32h-2.7z" fill="#6200ff"/>
<path d="M52.0 453.8h2.7v1.32h-2.7zM57.2 453.8h2.7v1.32h-2.7z" fill="#0017ff"/>
<path d="M96.5 540.5h2.7v1.32h-2.7zM62.5 453.8h2.7v1.32h-2.7zM80.8 453.8h2.7v1.32h-2.7zM93.8 453.8h2.7v1.32h-2.7zM106.9 453.8h5.3v1.32h-5.3z" fill="#0054ff"/>
<path d="M83.4 554.5h2.7v1.32h-2.7zM86.0 549.4h2.7v1.32h-2.7zM52.0 536.7h2.7v1.32h-2.7zM83.4 530.3h2.7v1.32h-2.7zM52.0 507.3h2.7v1.32h-2.7zM109.5 506.1h2.7v1.32h-2.7zM52.0 478.0h2.7v1.32h-2.7zM101.7 475.5h2.7v1.32h-2.7zM52.0 462.7h2.7v1.32h-2.7zM52.0 460.2h2.7v1.32h-2.7zM54.6 453.8h2.7v1.32h-2.7zM70.3 453.8h2.7v1.32h-2.7zM75.5 453.8h2.7v1.32h-2.7zM86.0 453.8h5.3v1.32h-5.3z" fill="#0090ff"/>
<path d="M52.0 553.2h2.7v1.32h-2.7zM62.5 552.0h2.7v1.32h-2.7zM52.0 543.0h2.7v1.32h-2.7zM117.4 540.5h2.7v1.32h-2.7zM62.5 539.2h2.7v1.32h-2.7zM67.7 534.1h2.7v1.32h-2.7zM52.0 497.1h2.7v1.32h-2.7zM52.0 493.3h2.7v1.32h-2.7zM52.0 492.0h2.7v1.32h-2.7zM52.0 471.6h2.7v1.32h-2.7zM57.2 461.4h2.7v1.32h-2.7zM54.6 460.2h2.7v1.32h-2.7zM88.6 455.1h2.7v1.32h-2.7zM59.8 453.8h2.7v1.32h-2.7zM65.1 453.8h5.3v1.32h-5.3zM72.9 453.8h2.7v1.32h-2.7zM99.1 453.8h2.7v1.32h-2.7z" fill="#00ccff"/>
<path d="M52.0 554.5h2.7v1.32h-2.7zM52.0 537.9h2.7v1.32h-2.7zM52.0 531.6h2.7v1.32h-2.7zM54.6 529.0h2.7v1.32h-2.7zM52.0 523.9h5.3v1.32h-5.3zM174.9 515.0h2.7v1.32h-2.7zM52.0 512.4h2.7v1.32h-2.7zM57.2 512.4h2.7v1.32h-2.7zM67.7 509.9h2.7v1.32h-2.7zM57.2 506.1h2.7v1.32h-2.7zM52.0 501.0h2.7v1.32h-2.7zM59.8 501.0h2.7v1.32h-2.7zM52.0 499.7h2.7v1.32h-2.7zM70.3 499.7h2.7v1.32h-2.7zM52.0 495.9h2.7v1.32h-2.7zM62.5 490.8h2.7v1.32h-2.7zM52.0 483.1h2.7v1.32h-2.7zM57.2 483.1h2.7v1.32h-2.7zM91.2 483.1h2.7v1.32h-2.7zM52.0 474.2h2.7v1.32h-2.7zM57.2 467.8h2.7v1.32h-2.7zM54.6 466.5h2.7v1.32h-2.7zM67.7 466.5h2.7v1.32h-2.7zM156.6 465.3h2.7v1.32h-2.7zM52.0 464.0h2.7v1.32h-2.7zM54.6 462.7h2.7v1.32h-2.7zM106.9 462.7h2.7v1.32h-2.7zM62.5 460.2h2.7v1.32h-2.7zM112.2 460.2h2.7v1.32h-2.7zM57.2 458.9h2.7v1.32h-2.7zM86.0 458.9h2.7v1.32h-2.7zM52.0 457.6h5.3v1.32h-5.3zM52.0 456.3h2.7v1.32h-2.7zM72.9 456.3h2.7v1.32h-2.7zM52.0 455.1h2.7v1.32h-2.7zM65.1 455.1h2.7v1.32h-2.7zM72.9 455.1h2.7v1.32h-2.7zM83.4 455.1h2.7v1.32h-2.7zM96.5 455.1h2.7v1.32h-2.7zM78.2 453.8h2.7v1.32h-2.7zM83.4 453.8h2.7v1.32h-2.7zM91.2 453.8h2.7v1.32h-2.7zM101.7 453.8h5.3v1.32h-5.3zM114.8 453.8h5.3v1.32h-5.3zM130.5 453.8h2.7v1.32h-2.7z" fill="#00fff5"/>
<path d="M54.6 554.5h2.7v1.32h-2.7zM59.8 554.5h2.7v1.32h-2.7zM180.2 554.5h2.7v1.32h-2.7zM52.0 552.0h2.7v1.32h-2.7zM52.0 550.7h5.3v1.32h-5.3zM52.0 549.4h2.7v1.32h-2.7zM88.6 549.4h2.7v1.32h-2.7zM120.0 549.4h2.7v1.32h-2.7zM161.8 549.4h2.7v1.32h-2.7zM52.0 545.6h2.7v1.32h-2.7zM57.2 544.3h2.7v1.32h-2.7zM106.9 544.3h2.7v1.32h-2.7zM112.2 544.3h5.3v1.32h-5.3zM54.6 543.0h2.7v1.32h-2.7zM88.6 543.0h2.7v1.32h-2.7zM52.0 541.8h2.7v1.32h-2.7zM75.5 541.8h2.7v1.32h-2.7zM83.4 537.9h2.7v1.32h-2.7zM52.0 535.4h2.7v1.32h-2.7zM101.7 535.4h2.7v1.32h-2.7zM62.5 534.1h2.7v1.32h-2.7zM101.7 532.8h2.7v1.32h-2.7zM57.2 530.3h2.7v1.32h-2.7zM62.5 530.3h2.7v1.32h-2.7zM99.1 529.0h2.7v1.32h-2.7zM52.0 527.8h2.7v1.32h-2.7zM52.0 526.5h2.7v1.32h-2.7zM52.0 525.2h5.3v1.32h-5.3zM112.2 523.9h2.7v1.32h-2.7zM57.2 520.1h2.7v1.32h-2.7zM62.5 516.3h2.7v1.32h-2.7zM88.6 516.3h2.7v1.32h-2.7zM75.5 515.0h2.7v1.32h-2.7zM54.6 512.4h2.7v1.32h-2.7zM78.2 512.4h2.7v1.32h-2.7zM59.8 511.2h2.7v1.32h-2.7zM99.1 511.2h2.7v1.32h-2.7zM52.0 509.9h2.7v1.32h-2.7zM52.0 508.6h2.7v1.32h-2.7zM112.2 507.3h2.7v1.32h-2.7zM52.0 506.1h2.7v1.32h-2.7zM78.2 506.1h2.7v1.32h-2.7zM65.1 504.8h2.7v1.32h-2.7zM114.8 503.5h2.7v1.32h-2.7zM52.0 502.2h2.7v1.32h-2.7zM93.8 502.2h2.7v1.32h-2.7zM52.0 498.4h5.3v1.32h-5.3zM54.6 495.9h2.7v1.32h-2.7zM83.4 495.9h2.7v1.32h-2.7zM52.0 494.6h2.7v1.32h-2.7zM99.1 493.3h2.7v1.32h-2.7zM109.5 492.0h2.7v1.32h-2.7zM52.0 490.8h2.7v1.32h-2.7zM91.2 490.8h2.7v1.32h-2.7zM57.2 489.5h2.7v1.32h-2.7zM80.8 489.5h2.7v1.32h-2.7zM67.7 488.2h2.7v1.32h-2.7zM80.8 488.2h2.7v1.32h-2.7zM80.8 486.9h2.7v1.32h-2.7zM62.5 485.7h2.7v1.32h-2.7zM109.5 485.7h2.7v1.32h-2.7zM52.0 484.4h2.7v1.32h-2.7zM104.3 484.4h2.7v1.32h-2.7zM52.0 480.6h2.7v1.32h-2.7zM54.6 479.3h2.7v1.32h-2.7zM57.2 478.0h2.7v1.32h-2.7zM104.3 478.0h2.7v1.32h-2.7zM57.2 476.7h2.7v1.32h-2.7zM75.5 476.7h2.7v1.32h-2.7zM96.5 476.7h2.7v1.32h-2.7zM72.9 474.2h2.7v1.32h-2.7zM54.6 472.9h2.7v1.32h-2.7zM62.5 470.4h2.7v1.32h-2.7zM88.6 470.4h2.7v1.32h-2.7zM52.0 469.1h2.7v1.32h-2.7zM59.8 469.1h2.7v1.32h-2.7zM83.4 469.1h2.7v1.32h-2.7zM151.4 469.1h2.7v1.32h-2.7zM52.0 467.8h5.3v1.32h-5.3zM109.5 467.8h2.7v1.32h-2.7zM80.8 466.5h2.7v1.32h-2.7zM52.0 465.3h2.7v1.32h-2.7zM65.1 465.3h2.7v1.32h-2.7zM101.7 465.3h5.3v1.32h-5.3zM78.2 464.0h2.7v1.32h-2.7zM112.2 464.0h2.7v1.32h-2.7zM65.1 462.7h2.7v1.32h-2.7zM75.5 462.7h2.7v1.32h-2.7zM83.4 462.7h5.3v1.32h-5.3zM52.0 461.4h2.7v1.32h-2.7zM70.3 461.4h2.7v1.32h-2.7zM104.3 461.4h2.7v1.32h-2.7zM57.2 460.2h2.7v1.32h-2.7zM91.2 460.2h2.7v1.32h-2.7zM99.1 460.2h2.7v1.32h-2.7zM52.0 458.9h2.7v1.32h-2.7zM106.9 458.9h2.7v1.32h-2.7zM67.7 457.6h2.7v1.32h-2.7zM57.2 455.1h2.7v1.32h-2.7zM67.7 455.1h2.7v1.32h-2.7zM91.2 455.1h5.3v1.32h-5.3zM104.3 455.1h2.7v1.32h-2.7zM112.2 455.1h2.7v1.32h-2.7zM96.5 453.8h2.7v1.32h-2.7zM122.6 453.8h7.9v1.32h-7.9zM146.2 453.8h2.7v1.32h-2.7zM156.6 453.8h2.7v1.32h-2.7zM172.3 453.8h2.7v1.32h-2.7zM182.8 453.8h2.7v1.32h-2.7z" fill="#00ffb9"/>
<path d="M133.1 554.5h2.7v1.32h-2.7zM54.6 553.2h2.7v1.32h-2.7zM67.7 553.2h5.3v1.32h-5.3zM83.4 553.2h2.7v1.32h-2.7zM104.3 553.2h2.7v1.32h-2.7zM112.2 553.2h2.7v1.32h-2.7zM130.5 553.2h2.7v1.32h-2.7zM57.2 552.0h2.7v1.32h-2.7zM86.0 552.0h2.7v1.32h-2.7zM177.5 552.0h2.7v1.32h-2.7zM57.2 550.7h2.7v1.32h-2.7zM70.3 550.7h2.7v1.32h-2.7zM78.2 550.7h2.7v1.32h-2.7zM91.2 550.7h2.7v1.32h-2.7zM140.9 550.7h2.7v1.32h-2.7zM54.6 549.4h2.7v1.32h-2.7zM70.3 549.4h5.3v1.32h-5.3zM114.8 549.4h2.7v1.32h-2.7zM135.7 549.4h2.7v1.32h-2.7zM52.0 548.1h2.7v1.32h-2.7zM72.9 548.1h2.7v1.32h-2.7zM120.0 548.1h2.7v1.32h-2.7zM182.8 548.1h2.7v1.32h-2.7zM52.0 546.9h5.3v1.32h-5.3zM80.8 546.9h2.7v1.32h-2.7zM86.0 546.9h2.7v1.32h-2.7zM99.1 546.9h7.9v1.32h-7.9zM114.8 546.9h2.7v1.32h-2.7zM122.6 546.9h5.3v1.32h-5.3zM70.3 545.6h2.7v1.32h-2.7zM83.4 545.6h2.7v1.32h-2.7zM88.6 545.6h2.7v1.32h-2.7zM122.6 545.6h2.7v1.32h-2.7zM151.4 545.6h2.7v1.32h-2.7zM52.0 544.3h2.7v1.32h-2.7zM78.2 544.3h2.7v1.32h-2.7zM88.6 544.3h2.7v1.32h-2.7zM75.5 543.0h2.7v1.32h-2.7zM83.4 543.0h2.7v1.32h-2.7zM93.8 543.0h2.7v1.32h-2.7zM54.6 541.8h7.9v1.32h-7.9zM83.4 541.8h5.3v1.32h-5.3zM96.5 541.8h5.3v1.32h-5.3zM104.3 540.5h2.7v1.32h-2.7zM78.2 539.2h2.7v1.32h-2.7zM83.4 539.2h2.7v1.32h-2.7zM91.2 539.2h2.7v1.32h-2.7zM99.1 537.9h2.7v1.32h-2.7zM57.2 536.7h2.7v1.32h-2.7zM101.7 536.7h2.7v1.32h-2.7zM106.9 536.7h2.7v1.32h-2.7zM57.2 535.4h2.7v1.32h-2.7zM78.2 535.4h2.7v1.32h-2.7zM96.5 535.4h2.7v1.32h-2.7zM104.3 535.4h2.7v1.32h-2.7zM143.5 535.4h2.7v1.32h-2.7zM52.0 534.1h2.7v1.32h-2.7zM57.2 534.1h2.7v1.32h-2.7zM65.1 534.1h2.7v1.32h-2.7zM96.5 534.1h2.7v1.32h-2.7zM112.2 534.1h5.3v1.32h-5.3zM59.8 532.8h2.7v1.32h-2.7zM54.6 531.6h5.3v1.32h-5.3zM67.7 531.6h2.7v1.32h-2.7zM83.4 531.6h2.7v1.32h-2.7zM91.2 531.6h5.3v1.32h-5.3zM52.0 530.3h5.3v1.32h-5.3zM70.3 530.3h2.7v1.32h-2.7zM101.7 530.3h2.7v1.32h-2.7zM70.3 529.0h2.7v1.32h-2.7zM86.0 529.0h2.7v1.32h-2.7zM91.2 529.0h5.3v1.32h-5.3zM114.8 527.8h5.3v1.32h-5.3zM54.6 526.5h5.3v1.32h-5.3zM62.5 526.5h2.7v1.32h-2.7zM106.9 526.5h5.3v1.32h-5.3zM156.6 526.5h2.7v1.32h-2.7zM185.4 526.5h2.7v1.32h-2.7zM67.7 525.2h5.3v1.32h-5.3zM75.5 525.2h2.7v1.32h-2.7zM101.7 525.2h2.7v1.32h-2.7zM57.2 523.9h2.7v1.32h-2.7zM78.2 523.9h2.7v1.32h-2.7zM83.4 523.9h2.7v1.32h-2.7zM99.1 523.9h2.7v1.32h-2.7zM104.3 523.9h2.7v1.32h-2.7zM52.0 522.6h2.7v1.32h-2.7zM57.2 522.6h2.7v1.32h-2.7zM67.7 522.6h2.7v1.32h-2.7zM99.1 522.6h2.7v1.32h-2.7zM57.2 521.4h2.7v1.32h-2.7zM65.1 521.4h2.7v1.32h-2.7zM78.2 521.4h2.7v1.32h-2.7zM83.4 521.4h2.7v1.32h-2.7zM112.2 521.4h2.7v1.32h-2.7zM52.0 520.1h2.7v1.32h-2.7zM52.0 518.8h2.7v1.32h-2.7zM75.5 518.8h2.7v1.32h-2.7zM80.8 518.8h2.7v1.32h-2.7zM96.5 518.8h2.7v1.32h-2.7zM52.0 517.5h5.3v1.32h-5.3zM80.8 517.5h2.7v1.32h-2.7zM120.0 517.5h2.7v1.32h-2.7zM52.0 516.3h5.3v1.32h-5.3zM65.1 516.3h5.3v1.32h-5.3zM59.8 515.0h2.7v1.32h-2.7zM70.3 515.0h2.7v1.32h-2.7zM86.0 515.0h2.7v1.32h-2.7zM93.8 515.0h2.7v1.32h-2.7zM54.6 513.7h2.7v1.32h-2.7zM75.5 513.7h2.7v1.32h-2.7zM172.3 513.7h2.7v1.32h-2.7zM70.3 512.4h2.7v1.32h-2.7zM104.3 512.4h2.7v1.32h-2.7zM52.0 511.2h5.3v1.32h-5.3zM54.6 509.9h2.7v1.32h-2.7zM62.5 509.9h2.7v1.32h-2.7zM72.9 509.9h2.7v1.32h-2.7zM101.7 509.9h2.7v1.32h-2.7zM106.9 509.9h2.7v1.32h-2.7zM112.2 508.6h2.7v1.32h-2.7zM54.6 507.3h2.7v1.32h-2.7zM91.2 507.3h2.7v1.32h-2.7zM54.6 506.1h2.7v1.32h-2.7zM59.8 506.1h2.7v1.32h-2.7zM88.6 506.1h2.7v1.32h-2.7zM93.8 506.1h2.7v1.32h-2.7zM101.7 504.8h2.7v1.32h-2.7zM52.0 503.5h2.7v1.32h-2.7zM78.2 503.5h2.7v1.32h-2.7zM78.2 502.2h5.3v1.32h-5.3zM88.6 502.2h2.7v1.32h-2.7zM96.5 502.2h2.7v1.32h-2.7zM143.5 502.2h2.7v1.32h-2.7zM67.7 501.0h2.7v1.32h-2.7zM101.7 501.0h2.7v1.32h-2.7zM112.2 501.0h2.7v1.32h-2.7zM59.8 499.7h2.7v1.32h-2.7zM57.2 498.4h2.7v1.32h-2.7zM65.1 498.4h2.7v1.32h-2.7zM57.2 497.1h2.7v1.32h-2.7zM91.2 497.1h2.7v1.32h-2.7zM62.5 495.9h2.7v1.32h-2.7zM67.7 495.9h2.7v1.32h-2.7zM104.3 495.9h2.7v1.32h-2.7zM57.2 494.6h7.9v1.32h-7.9zM67.7 494.6h2.7v1.32h-2.7zM75.5 494.6h2.7v1.32h-2.7zM93.8 494.6h2.7v1.32h-2.7zM101.7 494.6h2.7v1.32h-2.7zM57.2 493.3h2.7v1.32h-2.7zM65.1 493.3h2.7v1.32h-2.7zM104.3 493.3h2.7v1.32h-2.7zM72.9 492.0h2.7v1.32h-2.7zM54.6 490.8h2.7v1.32h-2.7zM67.7 490.8h2.7v1.32h-2.7zM75.5 490.8h13.1v1.32h-13.1zM67.7 489.5h2.7v1.32h-2.7zM78.2 489.5h2.7v1.32h-2.7zM96.5 489.5h2.7v1.32h-2.7zM135.7 489.5h2.7v1.32h-2.7zM54.6 488.2h2.7v1.32h-2.7zM86.0 488.2h2.7v1.32h-2.7zM96.5 488.2h2.7v1.32h-2.7zM52.0 486.9h7.9v1.32h-7.9zM67.7 486.9h7.9v1.32h-7.9zM83.4 486.9h5.3v1.32h-5.3zM93.8 486.9h2.7v1.32h-2.7zM52.0 485.7h2.7v1.32h-2.7zM70.3 485.7h2.7v1.32h-2.7zM112.2 485.7h2.7v1.32h-2.7zM86.0 484.4h5.3v1.32h-5.3zM96.5 484.4h2.7v1.32h-2.7zM75.5 483.1h2.7v1.32h-2.7zM52.0 481.8h2.7v1.32h-2.7zM86.0 481.8h2.7v1.32h-2.7zM54.6 480.6h2.7v1.32h-2.7zM104.3 480.6h2.7v1.32h-2.7zM52.0 479.3h2.7v1.32h-2.7zM59.8 479.3h2.7v1.32h-2.7zM83.4 479.3h2.7v1.32h-2.7zM106.9 479.3h2.7v1.32h-2.7zM67.7 478.0h7.9v1.32h-7.9zM91.2 478.0h2.7v1.32h-2.7zM52.0 475.5h2.7v1.32h-2.7zM59.8 475.5h2.7v1.32h-2.7zM72.9 475.5h2.7v1.32h-2.7zM57.2 474.2h2.7v1.32h-2.7zM75.5 474.2h2.7v1.32h-2.7zM80.8 474.2h2.7v1.32h-2.7zM93.8 474.2h5.3v1.32h-5.3zM101.7 474.2h2.7v1.32h-2.7zM114.8 474.2h2.7v1.32h-2.7zM52.0 472.9h2.7v1.32h-2.7zM65.1 472.9h2.7v1.32h-2.7zM83.4 472.9h2.7v1.32h-2.7zM96.5 472.9h2.7v1.32h-2.7zM54.6 471.6h2.7v1.32h-2.7zM70.3 471.6h5.3v1.32h-5.3zM86.0 471.6h2.7v1.32h-2.7zM93.8 471.6h2.7v1.32h-2.7zM75.5 470.4h5.3v1.32h-5.3zM54.6 469.1h2.7v1.32h-2.7zM78.2 469.1h5.3v1.32h-5.3zM62.5 467.8h2.7v1.32h-2.7zM75.5 467.8h2.7v1.32h-2.7zM93.8 467.8h2.7v1.32h-2.7zM101.7 467.8h2.7v1.32h-2.7zM114.8 467.8h2.7v1.32h-2.7zM57.2 466.5h2.7v1.32h-2.7zM75.5 466.5h2.7v1.32h-2.7zM86.0 466.5h2.7v1.32h-2.7zM99.1 466.5h2.7v1.32h-2.7zM106.9 466.5h2.7v1.32h-2.7zM122.6 466.5h2.7v1.32h-2.7zM130.5 466.5h2.7v1.32h-2.7zM57.2 465.3h2.7v1.32h-2.7zM75.5 465.3h7.9v1.32h-7.9zM86.0 465.3h5.3v1.32h-5.3zM57.2 464.0h2.7v1.32h-2.7zM67.7 464.0h2.7v1.32h-2.7zM83.4 464.0h2.7v1.32h-2.7zM96.5 464.0h2.7v1.32h-2.7zM101.7 464.0h2.7v1.32h-2.7zM122.6 464.0h2.7v1.32h-2.7zM59.8 462.7h2.7v1.32h-2.7zM70.3 462.7h2.7v1.32h-2.7zM78.2 462.7h2.7v1.32h-2.7zM101.7 462.7h2.7v1.32h-2.7zM135.7 462.7h2.7v1.32h-2.7zM185.4 462.7h2.7v1.32h-2.7zM59.8 461.4h5.3v1.32h-5.3zM83.4 461.4h5.3v1.32h-5.3zM96.5 461.4h2.7v1.32h-2.7zM67.7 460.2h5.3v1.32h-5.3zM80.8 460.2h2.7v1.32h-2.7zM86.0 460.2h5.3v1.32h-5.3zM93.8 460.2h2.7v1.32h-2.7zM109.5 460.2h2.7v1.32h-2.7zM62.5 458.9h2.7v1.32h-2.7zM70.3 458.9h13.1v1.32h-13.1zM93.8 458.9h2.7v1.32h-2.7zM99.1 458.9h2.7v1.32h-2.7zM114.8 458.9h2.7v1.32h-2.7zM122.6 458.9h2.7v1.32h-2.7zM57.2 457.6h2.7v1.32h-2.7zM65.1 457.6h2.7v1.32h-2.7zM72.9 457.6h2.7v1.32h-2.7zM80.8 457.6h2.7v1.32h-2.7zM67.7 456.3h2.7v1.32h-2.7zM78.2 456.3h2.7v1.32h-2.7zM83.4 456.3h2.7v1.32h-2.7zM104.3 456.3h5.3v1.32h-5.3zM112.2 456.3h2.7v1.32h-2.7zM120.0 456.3h2.7v1.32h-2.7zM140.9 456.3h2.7v1.32h-2.7zM62.5 455.1h2.7v1.32h-2.7zM70.3 455.1h2.7v1.32h-2.7zM75.5 455.1h2.7v1.32h-2.7zM86.0 455.1h2.7v1.32h-2.7zM101.7 455.1h2.7v1.32h-2.7zM109.5 455.1h2.7v1.32h-2.7zM138.3 455.1h5.3v1.32h-5.3zM133.1 453.8h5.3v1.32h-5.3zM140.9 453.8h2.7v1.32h-2.7zM151.4 453.8h5.3v1.32h-5.3zM174.9 453.8h2.7v1.32h-2.7z" fill="#00ff7c"/>
<path d="M57.2 554.5h2.7v1.32h-2.7zM65.1 554.5h5.3v1.32h-5.3zM80.8 554.5h2.7v1.32h-2.7zM86.0 554.5h2.7v1.32h-2.7zM93.8 554.5h2.7v1.32h-2.7zM106.9 554.5h2.7v1.32h-2.7zM122.6 554.5h2.7v1.32h-2.7zM151.4 554.5h2.7v1.32h-2.7zM159.2 554.5h2.7v1.32h-2.7zM65.1 553.2h2.7v1.32h-2.7zM88.6 553.2h2.7v1.32h-2.7zM96.5 553.2h2.7v1.32h-2.7zM109.5 553.2h2.7v1.32h-2.7zM159.2 553.2h2.7v1.32h-2.7zM67.7 552.0h2.7v1.32h-2.7zM72.9 552.0h2.7v1.32h-2.7zM78.2 552.0h5.3v1.32h-5.3zM88.6 552.0h2.7v1.32h-2.7zM96.5 552.0h2.7v1.32h-2.7zM104.3 552.0h2.7v1.32h-2.7zM109.5 552.0h2.7v1.32h-2.7zM62.5 550.7h2.7v1.32h-2.7zM67.7 550.7h2.7v1.32h-2.7zM75.5 550.7h2.7v1.32h-2.7zM86.0 550.7h2.7v1.32h-2.7zM96.5 550.7h2.7v1.32h-2.7zM101.7 550.7h2.7v1.32h-2.7zM106.9 550.7h2.7v1.32h-2.7zM57.2 549.4h2.7v1.32h-2.7zM62.5 549.4h2.7v1.32h-2.7zM75.5 549.4h2.7v1.32h-2.7zM93.8 549.4h2.7v1.32h-2.7zM99.1 549.4h2.7v1.32h-2.7zM65.1 548.1h2.7v1.32h-2.7zM78.2 548.1h2.7v1.32h-2.7zM91.2 548.1h2.7v1.32h-2.7zM109.5 548.1h2.7v1.32h-2.7zM117.4 548.1h2.7v1.32h-2.7zM127.8 548.1h2.7v1.32h-2.7zM62.5 546.9h2.7v1.32h-2.7zM67.7 546.9h7.9v1.32h-7.9zM96.5 546.9h2.7v1.32h-2.7zM174.9 546.9h2.7v1.32h-2.7zM67.7 545.6h2.7v1.32h-2.7zM75.5 545.6h2.7v1.32h-2.7zM86.0 545.6h2.7v1.32h-2.7zM91.2 545.6h2.7v1.32h-2.7zM99.1 545.6h2.7v1.32h-2.7zM127.8 545.6h2.7v1.32h-2.7zM159.2 545.6h2.7v1.32h-2.7zM72.9 544.3h2.7v1.32h-2.7zM86.0 544.3h2.7v1.32h-2.7zM96.5 544.3h2.7v1.32h-2.7zM62.5 543.0h2.7v1.32h-2.7zM67.7 543.0h2.7v1.32h-2.7zM80.8 543.0h2.7v1.32h-2.7zM86.0 543.0h2.7v1.32h-2.7zM91.2 543.0h2.7v1.32h-2.7zM112.2 543.0h5.3v1.32h-5.3zM70.3 541.8h2.7v1.32h-2.7zM91.2 541.8h2.7v1.32h-2.7zM104.3 541.8h2.7v1.32h-2.7zM112.2 541.8h2.7v1.32h-2.7zM78.2 540.5h7.9v1.32h-7.9zM88.6 540.5h2.7v1.32h-2.7zM93.8 540.5h2.7v1.32h-2.7zM112.2 540.5h2.7v1.32h-2.7zM122.6 540.5h5.3v1.32h-5.3zM54.6 539.2h2.7v1.32h-2.7zM67.7 539.2h2.7v1.32h-2.7zM75.5 539.2h2.7v1.32h-2.7zM88.6 539.2h2.7v1.32h-2.7zM96.5 539.2h2.7v1.32h-2.7zM101.7 539.2h2.7v1.32h-2.7zM54.6 537.9h2.7v1.32h-2.7zM72.9 537.9h2.7v1.32h-2.7zM93.8 537.9h2.7v1.32h-2.7zM104.3 537.9h2.7v1.32h-2.7zM54.6 536.7h2.7v1.32h-2.7zM91.2 536.7h2.7v1.32h-2.7zM112.2 536.7h2.7v1.32h-2.7zM59.8 535.4h2.7v1.32h-2.7zM67.7 535.4h2.7v1.32h-2.7zM93.8 535.4h2.7v1.32h-2.7zM109.5 535.4h2.7v1.32h-2.7zM133.1 535.4h2.7v1.32h-2.7zM161.8 535.4h2.7v1.32h-2.7zM54.6 534.1h2.7v1.32h-2.7zM78.2 534.1h2.7v1.32h-2.7zM83.4 534.1h2.7v1.32h-2.7zM52.0 532.8h2.7v1.32h-2.7zM70.3 532.8h2.7v1.32h-2.7zM75.5 532.8h2.7v1.32h-2.7zM86.0 532.8h2.7v1.32h-2.7zM109.5 532.8h5.3v1.32h-5.3zM133.1 532.8h2.7v1.32h-2.7zM154.0 532.8h2.7v1.32h-2.7zM80.8 531.6h2.7v1.32h-2.7zM99.1 531.6h2.7v1.32h-2.7zM112.2 531.6h2.7v1.32h-2.7zM135.7 531.6h2.7v1.32h-2.7zM75.5 530.3h2.7v1.32h-2.7zM80.8 530.3h2.7v1.32h-2.7zM86.0 530.3h2.7v1.32h-2.7zM93.8 530.3h5.3v1.32h-5.3zM117.4 530.3h2.7v1.32h-2.7zM122.6 530.3h5.3v1.32h-5.3zM52.0 529.0h2.7v1.32h-2.7zM59.8 529.0h7.9v1.32h-7.9zM83.4 529.0h2.7v1.32h-2.7zM96.5 529.0h2.7v1.32h-2.7zM112.2 529.0h2.7v1.32h-2.7zM135.7 529.0h2.7v1.32h-2.7zM59.8 527.8h7.9v1.32h-7.9zM72.9 527.8h2.7v1.32h-2.7zM88.6 527.8h5.3v1.32h-5.3zM96.5 527.8h2.7v1.32h-2.7zM101.7 527.8h2.7v1.32h-2.7zM106.9 527.8h2.7v1.32h-2.7zM180.2 527.8h2.7v1.32h-2.7zM67.7 526.5h2.7v1.32h-2.7zM72.9 526.5h2.7v1.32h-2.7zM88.6 526.5h10.5v1.32h-10.5zM101.7 526.5h5.3v1.32h-5.3zM125.2 526.5h2.7v1.32h-2.7zM164.5 526.5h2.7v1.32h-2.7zM59.8 525.2h2.7v1.32h-2.7zM86.0 525.2h2.7v1.32h-2.7zM96.5 525.2h5.3v1.32h-5.3zM114.8 525.2h2.7v1.32h-2.7zM65.1 523.9h5.3v1.32h-5.3zM88.6 523.9h5.3v1.32h-5.3zM96.5 523.9h2.7v1.32h-2.7zM138.3 523.9h2.7v1.32h-2.7zM174.9 523.9h2.7v1.32h-2.7zM65.1 522.6h2.7v1.32h-2.7zM72.9 522.6h2.7v1.32h-2.7zM86.0 522.6h2.7v1.32h-2.7zM52.0 521.4h5.3v1.32h-5.3zM72.9 521.4h2.7v1.32h-2.7zM86.0 521.4h2.7v1.32h-2.7zM99.1 521.4h2.7v1.32h-2.7zM59.8 520.1h5.3v1.32h-5.3zM70.3 520.1h5.3v1.32h-5.3zM99.1 520.1h2.7v1.32h-2.7zM106.9 520.1h5.3v1.32h-5.3zM114.8 520.1h2.7v1.32h-2.7zM130.5 520.1h2.7v1.32h-2.7zM54.6 518.8h2.7v1.32h-2.7zM59.8 518.8h5.3v1.32h-5.3zM91.2 518.8h5.3v1.32h-5.3zM99.1 518.8h2.7v1.32h-2.7zM57.2 517.5h5.3v1.32h-5.3zM67.7 517.5h2.7v1.32h-2.7zM75.5 517.5h5.3v1.32h-5.3zM83.4 517.5h5.3v1.32h-5.3zM91.2 517.5h2.7v1.32h-2.7zM122.6 517.5h2.7v1.32h-2.7zM70.3 516.3h2.7v1.32h-2.7zM91.2 516.3h2.7v1.32h-2.7zM106.9 516.3h2.7v1.32h-2.7zM120.0 516.3h2.7v1.32h-2.7zM52.0 515.0h2.7v1.32h-2.7zM65.1 515.0h5.3v1.32h-5.3zM80.8 515.0h2.7v1.32h-2.7zM101.7 515.0h2.7v1.32h-2.7zM151.4 515.0h2.7v1.32h-2.7zM52.0 513.7h2.7v1.32h-2.7zM57.2 513.7h5.3v1.32h-5.3zM78.2 513.7h2.7v1.32h-2.7zM83.4 513.7h2.7v1.32h-2.7zM91.2 513.7h2.7v1.32h-2.7zM96.5 513.7h5.3v1.32h-5.3zM117.4 513.7h2.7v1.32h-2.7zM80.8 512.4h2.7v1.32h-2.7zM91.2 512.4h2.7v1.32h-2.7zM101.7 512.4h2.7v1.32h-2.7zM125.2 512.4h2.7v1.32h-2.7zM62.5 511.2h2.7v1.32h-2.7zM72.9 511.2h5.3v1.32h-5.3zM101.7 511.2h2.7v1.32h-2.7zM57.2 509.9h2.7v1.32h-2.7zM65.1 509.9h2.7v1.32h-2.7zM80.8 509.9h2.7v1.32h-2.7zM91.2 509.9h2.7v1.32h-2.7zM99.1 509.9h2.7v1.32h-2.7zM104.3 509.9h2.7v1.32h-2.7zM109.5 509.9h2.7v1.32h-2.7zM54.6 508.6h2.7v1.32h-2.7zM59.8 508.6h5.3v1.32h-5.3zM70.3 508.6h2.7v1.32h-2.7zM75.5 508.6h5.3v1.32h-5.3zM86.0 508.6h5.3v1.32h-5.3zM99.1 508.6h2.7v1.32h-2.7zM106.9 508.6h2.7v1.32h-2.7zM72.9 507.3h2.7v1.32h-2.7zM78.2 507.3h2.7v1.32h-2.7zM96.5 507.3h2.7v1.32h-2.7zM122.6 507.3h2.7v1.32h-2.7zM67.7 506.1h10.5v1.32h-10.5zM106.9 506.1h2.7v1.32h-2.7zM120.0 506.1h5.3v1.32h-5.3zM54.6 504.8h2.7v1.32h-2.7zM62.5 504.8h2.7v1.32h-2.7zM70.3 504.8h2.7v1.32h-2.7zM88.6 504.8h2.7v1.32h-2.7zM106.9 504.8h2.7v1.32h-2.7zM114.8 504.8h2.7v1.32h-2.7zM54.6 503.5h2.7v1.32h-2.7zM59.8 503.5h2.7v1.32h-2.7zM70.3 503.5h7.9v1.32h-7.9zM80.8 503.5h5.3v1.32h-5.3zM99.1 503.5h2.7v1.32h-2.7zM75.5 502.2h2.7v1.32h-2.7zM83.4 502.2h2.7v1.32h-2.7zM106.9 502.2h5.3v1.32h-5.3zM148.8 502.2h2.7v1.32h-2.7zM57.2 501.0h2.7v1.32h-2.7zM62.5 501.0h5.3v1.32h-5.3zM70.3 501.0h5.3v1.32h-5.3zM86.0 501.0h2.7v1.32h-2.7zM99.1 501.0h2.7v1.32h-2.7zM106.9 501.0h2.7v1.32h-2.7zM57.2 499.7h2.7v1.32h-2.7zM93.8 499.7h7.9v1.32h-7.9zM169.7 499.7h2.7v1.32h-2.7zM62.5 498.4h2.7v1.32h-2.7zM75.5 498.4h2.7v1.32h-2.7zM88.6 498.4h5.3v1.32h-5.3zM99.1 498.4h2.7v1.32h-2.7zM112.2 498.4h2.7v1.32h-2.7zM65.1 497.1h2.7v1.32h-2.7zM70.3 497.1h2.7v1.32h-2.7zM78.2 497.1h2.7v1.32h-2.7zM83.4 497.1h2.7v1.32h-2.7zM93.8 497.1h2.7v1.32h-2.7zM112.2 497.1h2.7v1.32h-2.7zM75.5 495.9h2.7v1.32h-2.7zM117.4 495.9h2.7v1.32h-2.7zM127.8 495.9h5.3v1.32h-5.3zM86.0 494.6h2.7v1.32h-2.7zM91.2 494.6h2.7v1.32h-2.7zM96.5 494.6h2.7v1.32h-2.7zM106.9 494.6h2.7v1.32h-2.7zM80.8 493.3h2.7v1.32h-2.7zM96.5 493.3h2.7v1.32h-2.7zM109.5 493.3h2.7v1.32h-2.7zM114.8 493.3h2.7v1.32h-2.7zM122.6 493.3h2.7v1.32h-2.7zM54.6 492.0h2.7v1.32h-2.7zM62.5 492.0h2.7v1.32h-2.7zM83.4 492.0h2.7v1.32h-2.7zM93.8 492.0h5.3v1.32h-5.3zM106.9 492.0h2.7v1.32h-2.7zM122.6 492.0h2.7v1.32h-2.7zM140.9 492.0h2.7v1.32h-2.7zM72.9 490.8h2.7v1.32h-2.7zM104.3 490.8h2.7v1.32h-2.7zM133.1 490.8h2.7v1.32h-2.7zM52.0 489.5h5.3v1.32h-5.3zM70.3 489.5h2.7v1.32h-2.7zM83.4 489.5h2.7v1.32h-2.7zM88.6 489.5h5.3v1.32h-5.3zM117.4 489.5h2.7v1.32h-2.7zM122.6 489.5h2.7v1.32h-2.7zM52.0 488.2h2.7v1.32h-2.7zM62.5 488.2h2.7v1.32h-2.7zM70.3 488.2h2.7v1.32h-2.7zM75.5 488.2h5.3v1.32h-5.3zM83.4 488.2h2.7v1.32h-2.7zM114.8 488.2h2.7v1.32h-2.7zM62.5 486.9h2.7v1.32h-2.7zM75.5 486.9h2.7v1.32h-2.7zM99.1 486.9h5.3v1.32h-5.3zM59.8 485.7h2.7v1.32h-2.7zM65.1 485.7h2.7v1.32h-2.7zM80.8 485.7h2.7v1.32h-2.7zM86.0 485.7h2.7v1.32h-2.7zM93.8 485.7h2.7v1.32h-2.7zM57.2 484.4h2.7v1.32h-2.7zM72.9 484.4h2.7v1.32h-2.7zM78.2 484.4h2.7v1.32h-2.7zM120.0 484.4h2.7v1.32h-2.7zM177.5 484.4h2.7v1.32h-2.7zM59.8 483.1h7.9v1.32h-7.9zM70.3 483.1h2.7v1.32h-2.7zM83.4 483.1h2.7v1.32h-2.7zM106.9 483.1h2.7v1.32h-2.7zM125.2 483.1h2.7v1.32h-2.7zM57.2 481.8h2.7v1.32h-2.7zM65.1 481.8h5.3v1.32h-5.3zM99.1 481.8h2.7v1.32h-2.7zM104.3 481.8h2.7v1.32h-2.7zM70.3 480.6h2.7v1.32h-2.7zM88.6 480.6h2.7v1.32h-2.7zM93.8 480.6h5.3v1.32h-5.3zM114.8 480.6h2.7v1.32h-2.7zM62.5 479.3h5.3v1.32h-5.3zM91.2 479.3h2.7v1.32h-2.7zM96.5 479.3h2.7v1.32h-2.7zM101.7 479.3h2.7v1.32h-2.7zM54.6 478.0h2.7v1.32h-2.7zM62.5 478.0h5.3v1.32h-5.3zM75.5 478.0h5.3v1.32h-5.3zM83.4 478.0h2.7v1.32h-2.7zM117.4 478.0h2.7v1.32h-2.7zM122.6 478.0h2.7v1.32h-2.7zM52.0 476.7h2.7v1.32h-2.7zM59.8 476.7h5.3v1.32h-5.3zM67.7 476.7h2.7v1.32h-2.7zM80.8 476.7h2.7v1.32h-2.7zM99.1 476.7h2.7v1.32h-2.7zM104.3 476.7h2.7v1.32h-2.7zM117.4 476.7h2.7v1.32h-2.7zM54.6 475.5h5.3v1.32h-5.3zM62.5 475.5h2.7v1.32h-2.7zM70.3 475.5h2.7v1.32h-2.7zM86.0 475.5h2.7v1.32h-2.7zM96.5 475.5h2.7v1.32h-2.7zM104.3 475.5h2.7v1.32h-2.7zM133.1 475.5h2.7v1.32h-2.7zM59.8 474.2h7.9v1.32h-7.9zM78.2 474.2h2.7v1.32h-2.7zM86.0 474.2h2.7v1.32h-2.7zM99.1 474.2h2.7v1.32h-2.7zM120.0 474.2h5.3v1.32h-5.3zM57.2 472.9h7.9v1.32h-7.9zM67.7 472.9h2.7v1.32h-2.7zM78.2 472.9h2.7v1.32h-2.7zM93.8 472.9h2.7v1.32h-2.7zM99.1 472.9h2.7v1.32h-2.7zM109.5 472.9h2.7v1.32h-2.7zM148.8 472.9h2.7v1.32h-2.7zM67.7 471.6h2.7v1.32h-2.7zM91.2 471.6h2.7v1.32h-2.7zM104.3 471.6h2.7v1.32h-2.7zM117.4 471.6h2.7v1.32h-2.7zM138.3 471.6h2.7v1.32h-2.7zM54.6 470.4h5.3v1.32h-5.3zM65.1 470.4h2.7v1.32h-2.7zM86.0 470.4h2.7v1.32h-2.7zM93.8 470.4h2.7v1.32h-2.7zM99.1 470.4h2.7v1.32h-2.7zM174.9 470.4h2.7v1.32h-2.7zM57.2 469.1h2.7v1.32h-2.7zM62.5 469.1h2.7v1.32h-2.7zM72.9 469.1h5.3v1.32h-5.3zM86.0 469.1h2.7v1.32h-2.7zM91.2 469.1h5.3v1.32h-5.3zM104.3 469.1h2.7v1.32h-2.7zM125.2 469.1h2.7v1.32h-2.7zM80.8 467.8h2.7v1.32h-2.7zM86.0 467.8h2.7v1.32h-2.7zM99.1 467.8h2.7v1.32h-2.7zM112.2 467.8h2.7v1.32h-2.7zM140.9 467.8h2.7v1.32h-2.7zM182.8 467.8h2.7v1.32h-2.7zM52.0 466.5h2.7v1.32h-2.7zM72.9 466.5h2.7v1.32h-2.7zM78.2 466.5h2.7v1.32h-2.7zM93.8 466.5h2.7v1.32h-2.7zM101.7 466.5h2.7v1.32h-2.7zM112.2 466.5h2.7v1.32h-2.7zM135.7 466.5h2.7v1.32h-2.7zM140.9 466.5h2.7v1.32h-2.7zM54.6 465.3h2.7v1.32h-2.7zM67.7 465.3h2.7v1.32h-2.7zM72.9 465.3h2.7v1.32h-2.7zM91.2 465.3h5.3v1.32h-5.3zM114.8 465.3h2.7v1.32h-2.7zM62.5 464.0h5.3v1.32h-5.3zM70.3 464.0h5.3v1.32h-5.3zM80.8 464.0h2.7v1.32h-2.7zM86.0 464.0h2.7v1.32h-2.7zM99.1 464.0h2.7v1.32h-2.7zM106.9 464.0h5.3v1.32h-5.3zM114.8 464.0h2.7v1.32h-2.7zM120.0 464.0h2.7v1.32h-2.7zM185.4 464.0h2.7v1.32h-2.7zM62.5 462.7h2.7v1.32h-2.7zM67.7 462.7h2.7v1.32h-2.7zM80.8 462.7h2.7v1.32h-2.7zM91.2 462.7h2.7v1.32h-2.7zM117.4 462.7h5.3v1.32h-5.3zM133.1 462.7h2.7v1.32h-2.7zM65.1 461.4h2.7v1.32h-2.7zM75.5 461.4h7.9v1.32h-7.9zM88.6 461.4h5.3v1.32h-5.3zM109.5 461.4h5.3v1.32h-5.3zM156.6 461.4h2.7v1.32h-2.7zM172.3 461.4h2.7v1.32h-2.7zM182.8 461.4h2.7v1.32h-2.7zM59.8 460.2h2.7v1.32h-2.7zM65.1 460.2h2.7v1.32h-2.7zM75.5 460.2h5.3v1.32h-5.3zM101.7 460.2h7.9v1.32h-7.9zM122.6 460.2h2.7v1.32h-2.7zM127.8 460.2h5.3v1.32h-5.3zM54.6 458.9h2.7v1.32h-2.7zM67.7 458.9h2.7v1.32h-2.7zM88.6 458.9h5.3v1.32h-5.3zM96.5 458.9h2.7v1.32h-2.7zM101.7 458.9h5.3v1.32h-5.3zM112.2 458.9h2.7v1.32h-2.7zM59.8 457.6h5.3v1.32h-5.3zM70.3 457.6h2.7v1.32h-2.7zM78.2 457.6h2.7v1.32h-2.7zM96.5 457.6h2.7v1.32h-2.7zM106.9 457.6h2.7v1.32h-2.7zM114.8 457.6h2.7v1.32h-2.7zM130.5 457.6h2.7v1.32h-2.7zM156.6 457.6h2.7v1.32h-2.7zM177.5 457.6h2.7v1.32h-2.7zM57.2 456.3h10.5v1.32h-10.5zM70.3 456.3h2.7v1.32h-2.7zM75.5 456.3h2.7v1.32h-2.7zM80.8 456.3h2.7v1.32h-2.7zM86.0 456.3h2.7v1.32h-2.7zM93.8 456.3h5.3v1.32h-5.3zM101.7 456.3h2.7v1.32h-2.7zM109.5 456.3h2.7v1.32h-2.7zM130.5 456.3h2.7v1.32h-2.7zM151.4 456.3h2.7v1.32h-2.7zM164.5 456.3h2.7v1.32h-2.7zM54.6 455.1h2.7v1.32h-2.7zM59.8 455.1h2.7v1.32h-2.7zM106.9 455.1h2.7v1.32h-2.7zM117.4 455.1h5.3v1.32h-5.3zM133.1 455.1h2.7v1.32h-2.7zM174.9 455.1h2.7v1.32h-2.7zM112.2 453.8h2.7v1.32h-2.7zM120.0 453.8h2.7v1.32h-2.7zM138.3 453.8h2.7v1.32h-2.7zM143.5 453.8h2.7v1.32h-2.7zM159.2 453.8h10.5v1.32h-10.5zM177.5 453.8h2.7v1.32h-2.7z" fill="#00ff40"/>
<path d="M70.3 554.5h2.7v1.32h-2.7zM75.5 554.5h5.3v1.32h-5.3zM88.6 554.5h2.7v1.32h-2.7zM109.5 554.5h2.7v1.32h-2.7zM117.4 554.5h2.7v1.32h-2.7zM127.8 554.5h2.7v1.32h-2.7zM135.7 554.5h2.7v1.32h-2.7zM148.8 554.5h2.7v1.32h-2.7zM167.1 554.5h2.7v1.32h-2.7zM177.5 554.5h2.7v1.32h-2.7zM62.5 553.2h2.7v1.32h-2.7zM80.8 553.2h2.7v1.32h-2.7zM86.0 553.2h2.7v1.32h-2.7zM91.2 553.2h2.7v1.32h-2.7zM101.7 553.2h2.7v1.32h-2.7zM114.8 553.2h2.7v1.32h-2.7zM120.0 553.2h2.7v1.32h-2.7zM135.7 553.2h2.7v1.32h-2.7zM140.9 553.2h2.7v1.32h-2.7zM164.5 553.2h7.9v1.32h-7.9zM54.6 552.0h2.7v1.32h-2.7zM59.8 552.0h2.7v1.32h-2.7zM75.5 552.0h2.7v1.32h-2.7zM83.4 552.0h2.7v1.32h-2.7zM91.2 552.0h2.7v1.32h-2.7zM99.1 552.0h5.3v1.32h-5.3zM106.9 552.0h2.7v1.32h-2.7zM117.4 552.0h10.5v1.32h-10.5zM135.7 552.0h2.7v1.32h-2.7zM148.8 552.0h2.7v1.32h-2.7zM156.6 552.0h5.3v1.32h-5.3zM164.5 552.0h2.7v1.32h-2.7zM174.9 552.0h2.7v1.32h-2.7zM59.8 550.7h2.7v1.32h-2.7zM72.9 550.7h2.7v1.32h-2.7zM80.8 550.7h5.3v1.32h-5.3zM88.6 550.7h2.7v1.32h-2.7zM99.1 550.7h2.7v1.32h-2.7zM104.3 550.7h2.7v1.32h-2.7zM114.8 550.7h5.3v1.32h-5.3zM127.8 550.7h7.9v1.32h-7.9zM65.1 549.4h5.3v1.32h-5.3zM78.2 549.4h5.3v1.32h-5.3zM91.2 549.4h2.7v1.32h-2.7zM96.5 549.4h2.7v1.32h-2.7zM104.3 549.4h2.7v1.32h-2.7zM109.5 549.4h2.7v1.32h-2.7zM125.2 549.4h2.7v1.32h-2.7zM140.9 549.4h2.7v1.32h-2.7zM154.0 549.4h2.7v1.32h-2.7zM164.5 549.4h2.7v1.32h-2.7zM54.6 548.1h7.9v1.32h-7.9zM70.3 548.1h2.7v1.32h-2.7zM86.0 548.1h5.3v1.32h-5.3zM93.8 548.1h13.1v1.32h-13.1zM143.5 548.1h2.7v1.32h-2.7zM169.7 548.1h2.7v1.32h-2.7zM177.5 548.1h2.7v1.32h-2.7zM59.8 546.9h2.7v1.32h-2.7zM65.1 546.9h2.7v1.32h-2.7zM75.5 546.9h2.7v1.32h-2.7zM83.4 546.9h2.7v1.32h-2.7zM93.8 546.9h2.7v1.32h-2.7zM106.9 546.9h5.3v1.32h-5.3zM127.8 546.9h7.9v1.32h-7.9zM143.5 546.9h2.7v1.32h-2.7zM159.2 546.9h2.7v1.32h-2.7zM172.3 546.9h2.7v1.32h-2.7zM54.6 545.6h5.3v1.32h-5.3zM65.1 545.6h2.7v1.32h-2.7zM80.8 545.6h2.7v1.32h-2.7zM96.5 545.6h2.7v1.32h-2.7zM104.3 545.6h2.7v1.32h-2.7zM120.0 545.6h2.7v1.32h-2.7zM135.7 545.6h2.7v1.32h-2.7zM174.9 545.6h2.7v1.32h-2.7zM54.6 544.3h2.7v1.32h-2.7zM62.5 544.3h5.3v1.32h-5.3zM70.3 544.3h2.7v1.32h-2.7zM75.5 544.3h2.7v1.32h-2.7zM80.8 544.3h2.7v1.32h-2.7zM101.7 544.3h2.7v1.32h-2.7zM109.5 544.3h2.7v1.32h-2.7zM120.0 544.3h2.7v1.32h-2.7zM127.8 544.3h2.7v1.32h-2.7zM57.2 543.0h5.3v1.32h-5.3zM78.2 543.0h2.7v1.32h-2.7zM96.5 543.0h7.9v1.32h-7.9zM106.9 543.0h5.3v1.32h-5.3zM122.6 543.0h2.7v1.32h-2.7zM143.5 543.0h2.7v1.32h-2.7zM62.5 541.8h5.3v1.32h-5.3zM72.9 541.8h2.7v1.32h-2.7zM78.2 541.8h2.7v1.32h-2.7zM88.6 541.8h2.7v1.32h-2.7zM109.5 541.8h2.7v1.32h-2.7zM114.8 541.8h2.7v1.32h-2.7zM122.6 541.8h2.7v1.32h-2.7zM164.5 541.8h2.7v1.32h-2.7zM57.2 540.5h5.3v1.32h-5.3zM67.7 540.5h2.7v1.32h-2.7zM91.2 540.5h2.7v1.32h-2.7zM101.7 540.5h2.7v1.32h-2.7zM109.5 540.5h2.7v1.32h-2.7zM148.8 540.5h2.7v1.32h-2.7zM156.6 540.5h2.7v1.32h-2.7zM180.2 540.5h5.3v1.32h-5.3zM52.0 539.2h2.7v1.32h-2.7zM57.2 539.2h5.3v1.32h-5.3zM65.1 539.2h2.7v1.32h-2.7zM86.0 539.2h2.7v1.32h-2.7zM93.8 539.2h2.7v1.32h-2.7zM104.3 539.2h2.7v1.32h-2.7zM133.1 539.2h2.7v1.32h-2.7zM143.5 539.2h2.7v1.32h-2.7zM59.8 537.9h2.7v1.32h-2.7zM65.1 537.9h2.7v1.32h-2.7zM70.3 537.9h2.7v1.32h-2.7zM75.5 537.9h2.7v1.32h-2.7zM88.6 537.9h2.7v1.32h-2.7zM109.5 537.9h2.7v1.32h-2.7zM138.3 537.9h7.9v1.32h-7.9zM151.4 537.9h2.7v1.32h-2.7zM156.6 537.9h2.7v1.32h-2.7zM164.5 537.9h2.7v1.32h-2.7zM65.1 536.7h2.7v1.32h-2.7zM70.3 536.7h5.3v1.32h-5.3zM83.4 536.7h5.3v1.32h-5.3zM93.8 536.7h2.7v1.32h-2.7zM99.1 536.7h2.7v1.32h-2.7zM114.8 536.7h2.7v1.32h-2.7zM130.5 536.7h2.7v1.32h-2.7zM135.7 536.7h5.3v1.32h-5.3zM164.5 536.7h2.7v1.32h-2.7zM54.6 535.4h2.7v1.32h-2.7zM62.5 535.4h5.3v1.32h-5.3zM70.3 535.4h5.3v1.32h-5.3zM83.4 535.4h2.7v1.32h-2.7zM88.6 535.4h2.7v1.32h-2.7zM99.1 535.4h2.7v1.32h-2.7zM106.9 535.4h2.7v1.32h-2.7zM117.4 535.4h2.7v1.32h-2.7zM127.8 535.4h2.7v1.32h-2.7zM135.7 535.4h2.7v1.32h-2.7zM172.3 535.4h5.3v1.32h-5.3zM72.9 534.1h2.7v1.32h-2.7zM80.8 534.1h2.7v1.32h-2.7zM86.0 534.1h2.7v1.32h-2.7zM93.8 534.1h2.7v1.32h-2.7zM99.1 534.1h5.3v1.32h-5.3zM106.9 534.1h5.3v1.32h-5.3zM125.2 534.1h2.7v1.32h-2.7zM54.6 532.8h2.7v1.32h-2.7zM67.7 532.8h2.7v1.32h-2.7zM80.8 532.8h5.3v1.32h-5.3zM88.6 532.8h2.7v1.32h-2.7zM93.8 532.8h2.7v1.32h-2.7zM99.1 532.8h2.7v1.32h-2.7zM122.6 532.8h2.7v1.32h-2.7zM159.2 532.8h2.7v1.32h-2.7zM62.5 531.6h2.7v1.32h-2.7zM70.3 531.6h7.9v1.32h-7.9zM86.0 531.6h5.3v1.32h-5.3zM96.5 531.6h2.7v1.32h-2.7zM101.7 531.6h5.3v1.32h-5.3zM109.5 531.6h2.7v1.32h-2.7zM130.5 531.6h2.7v1.32h-2.7zM138.3 531.6h2.7v1.32h-2.7zM143.5 531.6h2.7v1.32h-2.7zM167.1 531.6h2.7v1.32h-2.7zM59.8 530.3h2.7v1.32h-2.7zM88.6 530.3h2.7v1.32h-2.7zM99.1 530.3h2.7v1.32h-2.7zM104.3 530.3h10.5v1.32h-10.5zM57.2 529.0h2.7v1.32h-2.7zM72.9 529.0h2.7v1.32h-2.7zM80.8 529.0h2.7v1.32h-2.7zM88.6 529.0h2.7v1.32h-2.7zM101.7 529.0h2.7v1.32h-2.7zM106.9 529.0h2.7v1.32h-2.7zM127.8 529.0h2.7v1.32h-2.7zM54.6 527.8h5.3v1.32h-5.3zM75.5 527.8h10.5v1.32h-10.5zM99.1 527.8h2.7v1.32h-2.7zM112.2 527.8h2.7v1.32h-2.7zM70.3 526.5h2.7v1.32h-2.7zM75.5 526.5h5.3v1.32h-5.3zM83.4 526.5h2.7v1.32h-2.7zM114.8 526.5h2.7v1.32h-2.7zM143.5 526.5h2.7v1.32h-2.7zM57.2 525.2h2.7v1.32h-2.7zM65.1 525.2h2.7v1.32h-2.7zM78.2 525.2h2.7v1.32h-2.7zM88.6 525.2h7.9v1.32h-7.9zM104.3 525.2h5.3v1.32h-5.3zM117.4 525.2h5.3v1.32h-5.3zM59.8 523.9h2.7v1.32h-2.7zM70.3 523.9h5.3v1.32h-5.3zM86.0 523.9h2.7v1.32h-2.7zM93.8 523.9h2.7v1.32h-2.7zM101.7 523.9h2.7v1.32h-2.7zM125.2 523.9h7.9v1.32h-7.9zM148.8 523.9h2.7v1.32h-2.7zM54.6 522.6h2.7v1.32h-2.7zM59.8 522.6h2.7v1.32h-2.7zM70.3 522.6h2.7v1.32h-2.7zM75.5 522.6h5.3v1.32h-5.3zM93.8 522.6h5.3v1.32h-5.3zM104.3 522.6h2.7v1.32h-2.7zM109.5 522.6h2.7v1.32h-2.7zM133.1 522.6h2.7v1.32h-2.7zM59.8 521.4h2.7v1.32h-2.7zM80.8 521.4h2.7v1.32h-2.7zM88.6 521.4h2.7v1.32h-2.7zM93.8 521.4h2.7v1.32h-2.7zM101.7 521.4h5.3v1.32h-5.3zM109.5 521.4h2.7v1.32h-2.7zM114.8 521.4h2.7v1.32h-2.7zM122.6 521.4h2.7v1.32h-2.7zM159.2 521.4h2.7v1.32h-2.7zM174.9 521.4h2.7v1.32h-2.7zM67.7 520.1h2.7v1.32h-2.7zM75.5 520.1h5.3v1.32h-5.3zM83.4 520.1h13.1v1.32h-13.1zM101.7 520.1h2.7v1.32h-2.7zM120.0 520.1h2.7v1.32h-2.7zM143.5 520.1h2.7v1.32h-2.7zM57.2 518.8h2.7v1.32h-2.7zM72.9 518.8h2.7v1.32h-2.7zM78.2 518.8h2.7v1.32h-2.7zM83.4 518.8h5.3v1.32h-5.3zM101.7 518.8h2.7v1.32h-2.7zM114.8 518.8h5.3v1.32h-5.3zM133.1 518.8h2.7v1.32h-2.7zM62.5 517.5h2.7v1.32h-2.7zM70.3 517.5h2.7v1.32h-2.7zM88.6 517.5h2.7v1.32h-2.7zM96.5 517.5h7.9v1.32h-7.9zM117.4 517.5h2.7v1.32h-2.7zM57.2 516.3h5.3v1.32h-5.3zM78.2 516.3h10.5v1.32h-10.5zM93.8 516.3h13.1v1.32h-13.1zM112.2 516.3h2.7v1.32h-2.7zM117.4 516.3h2.7v1.32h-2.7zM122.6 516.3h2.7v1.32h-2.7zM169.7 516.3h2.7v1.32h-2.7zM57.2 515.0h2.7v1.32h-2.7zM72.9 515.0h2.7v1.32h-2.7zM88.6 515.0h5.3v1.32h-5.3zM99.1 515.0h2.7v1.32h-2.7zM106.9 515.0h2.7v1.32h-2.7zM122.6 515.0h2.7v1.32h-2.7zM65.1 513.7h2.7v1.32h-2.7zM70.3 513.7h2.7v1.32h-2.7zM86.0 513.7h5.3v1.32h-5.3zM106.9 513.7h5.3v1.32h-5.3zM159.2 513.7h2.7v1.32h-2.7zM62.5 512.4h7.9v1.32h-7.9zM72.9 512.4h5.3v1.32h-5.3zM88.6 512.4h2.7v1.32h-2.7zM99.1 512.4h2.7v1.32h-2.7zM109.5 512.4h7.9v1.32h-7.9zM70.3 511.2h2.7v1.32h-2.7zM80.8 511.2h7.9v1.32h-7.9zM91.2 511.2h5.3v1.32h-5.3zM106.9 511.2h2.7v1.32h-2.7zM59.8 509.9h2.7v1.32h-2.7zM70.3 509.9h2.7v1.32h-2.7zM75.5 509.9h5.3v1.32h-5.3zM86.0 509.9h5.3v1.32h-5.3zM96.5 509.9h2.7v1.32h-2.7zM112.2 509.9h2.7v1.32h-2.7zM120.0 509.9h5.3v1.32h-5.3zM154.0 509.9h2.7v1.32h-2.7zM57.2 508.6h2.7v1.32h-2.7zM65.1 508.6h2.7v1.32h-2.7zM83.4 508.6h2.7v1.32h-2.7zM96.5 508.6h2.7v1.32h-2.7zM117.4 508.6h2.7v1.32h-2.7zM127.8 508.6h2.7v1.32h-2.7zM133.1 508.6h2.7v1.32h-2.7zM167.1 508.6h2.7v1.32h-2.7zM59.8 507.3h13.1v1.32h-13.1zM80.8 507.3h10.5v1.32h-10.5zM101.7 507.3h2.7v1.32h-2.7zM106.9 507.3h2.7v1.32h-2.7zM125.2 507.3h2.7v1.32h-2.7zM130.5 507.3h2.7v1.32h-2.7zM80.8 506.1h7.9v1.32h-7.9zM91.2 506.1h2.7v1.32h-2.7zM96.5 506.1h5.3v1.32h-5.3zM112.2 506.1h5.3v1.32h-5.3zM52.0 504.8h2.7v1.32h-2.7zM59.8 504.8h2.7v1.32h-2.7zM67.7 504.8h2.7v1.32h-2.7zM72.9 504.8h15.7v1.32h-15.7zM93.8 504.8h7.9v1.32h-7.9zM109.5 504.8h5.3v1.32h-5.3zM138.3 504.8h2.7v1.32h-2.7zM57.2 503.5h2.7v1.32h-2.7zM65.1 503.5h5.3v1.32h-5.3zM86.0 503.5h5.3v1.32h-5.3zM93.8 503.5h2.7v1.32h-2.7zM101.7 503.5h7.9v1.32h-7.9zM122.6 503.5h2.7v1.32h-2.7zM185.4 503.5h2.7v1.32h-2.7zM54.6 502.2h2.7v1.32h-2.7zM59.8 502.2h2.7v1.32h-2.7zM67.7 502.2h2.7v1.32h-2.7zM72.9 502.2h2.7v1.32h-2.7zM99.1 502.2h2.7v1.32h-2.7zM112.2 502.2h5.3v1.32h-5.3zM135.7 502.2h2.7v1.32h-2.7zM151.4 502.2h2.7v1.32h-2.7zM54.6 501.0h2.7v1.32h-2.7zM83.4 501.0h2.7v1.32h-2.7zM91.2 501.0h2.7v1.32h-2.7zM104.3 501.0h2.7v1.32h-2.7zM114.8 501.0h7.9v1.32h-7.9zM54.6 499.7h2.7v1.32h-2.7zM62.5 499.7h5.3v1.32h-5.3zM80.8 499.7h2.7v1.32h-2.7zM86.0 499.7h5.3v1.32h-5.3zM101.7 499.7h7.9v1.32h-7.9zM112.2 499.7h5.3v1.32h-5.3zM120.0 499.7h2.7v1.32h-2.7zM130.5 499.7h2.7v1.32h-2.7zM138.3 499.7h2.7v1.32h-2.7zM59.8 498.4h2.7v1.32h-2.7zM72.9 498.4h2.7v1.32h-2.7zM78.2 498.4h2.7v1.32h-2.7zM83.4 498.4h2.7v1.32h-2.7zM101.7 498.4h5.3v1.32h-5.3zM109.5 498.4h2.7v1.32h-2.7zM114.8 498.4h2.7v1.32h-2.7zM122.6 498.4h2.7v1.32h-2.7zM151.4 498.4h2.7v1.32h-2.7zM54.6 497.1h2.7v1.32h-2.7zM59.8 497.1h5.3v1.32h-5.3zM86.0 497.1h2.7v1.32h-2.7zM96.5 497.1h2.7v1.32h-2.7zM57.2 495.9h5.3v1.32h-5.3zM70.3 495.9h2.7v1.32h-2.7zM78.2 495.9h2.7v1.32h-2.7zM86.0 495.9h2.7v1.32h-2.7zM91.2 495.9h2.7v1.32h-2.7zM96.5 495.9h2.7v1.32h-2.7zM106.9 495.9h5.3v1.32h-5.3zM114.8 495.9h2.7v1.32h-2.7zM138.3 495.9h2.7v1.32h-2.7zM54.6 494.6h2.7v1.32h-2.7zM70.3 494.6h2.7v1.32h-2.7zM83.4 494.6h2.7v1.32h-2.7zM88.6 494.6h2.7v1.32h-2.7zM112.2 494.6h2.7v1.32h-2.7zM125.2 494.6h5.3v1.32h-5.3zM78.2 493.3h2.7v1.32h-2.7zM86.0 493.3h5.3v1.32h-5.3zM93.8 493.3h2.7v1.32h-2.7zM106.9 493.3h2.7v1.32h-2.7zM127.8 493.3h2.7v1.32h-2.7zM156.6 493.3h2.7v1.32h-2.7zM57.2 492.0h5.3v1.32h-5.3zM65.1 492.0h7.9v1.32h-7.9zM75.5 492.0h2.7v1.32h-2.7zM86.0 492.0h5.3v1.32h-5.3zM112.2 492.0h2.7v1.32h-2.7zM125.2 492.0h2.7v1.32h-2.7zM57.2 490.8h5.3v1.32h-5.3zM88.6 490.8h2.7v1.32h-2.7zM96.5 490.8h2.7v1.32h-2.7zM125.2 490.8h2.7v1.32h-2.7zM59.8 489.5h7.9v1.32h-7.9zM75.5 489.5h2.7v1.32h-2.7zM101.7 489.5h2.7v1.32h-2.7zM109.5 489.5h2.7v1.32h-2.7zM125.2 489.5h2.7v1.32h-2.7zM130.5 489.5h2.7v1.32h-2.7zM140.9 489.5h2.7v1.32h-2.7zM57.2 488.2h2.7v1.32h-2.7zM72.9 488.2h2.7v1.32h-2.7zM109.5 488.2h2.7v1.32h-2.7zM140.9 488.2h2.7v1.32h-2.7zM88.6 486.9h5.3v1.32h-5.3zM109.5 486.9h5.3v1.32h-5.3zM117.4 486.9h2.7v1.32h-2.7zM133.1 486.9h2.7v1.32h-2.7zM185.4 486.9h2.7v1.32h-2.7zM54.6 485.7h5.3v1.32h-5.3zM67.7 485.7h2.7v1.32h-2.7zM75.5 485.7h2.7v1.32h-2.7zM99.1 485.7h2.7v1.32h-2.7zM177.5 485.7h2.7v1.32h-2.7zM54.6 484.4h2.7v1.32h-2.7zM59.8 484.4h2.7v1.32h-2.7zM65.1 484.4h7.9v1.32h-7.9zM80.8 484.4h5.3v1.32h-5.3zM91.2 484.4h5.3v1.32h-5.3zM99.1 484.4h2.7v1.32h-2.7zM106.9 484.4h2.7v1.32h-2.7zM54.6 483.1h2.7v1.32h-2.7zM72.9 483.1h2.7v1.32h-2.7zM78.2 483.1h5.3v1.32h-5.3zM86.0 483.1h2.7v1.32h-2.7zM93.8 483.1h7.9v1.32h-7.9zM109.5 483.1h2.7v1.32h-2.7zM114.8 483.1h2.7v1.32h-2.7zM54.6 481.8h2.7v1.32h-2.7zM59.8 481.8h2.7v1.32h-2.7zM70.3 481.8h2.7v1.32h-2.7zM75.5 481.8h2.7v1.32h-2.7zM80.8 481.8h5.3v1.32h-5.3zM91.2 481.8h5.3v1.32h-5.3zM101.7 481.8h2.7v1.32h-2.7zM106.9 481.8h2.7v1.32h-2.7zM57.2 480.6h2.7v1.32h-2.7zM62.5 480.6h7.9v1.32h-7.9zM72.9 480.6h2.7v1.32h-2.7zM78.2 480.6h2.7v1.32h-2.7zM83.4 480.6h2.7v1.32h-2.7zM99.1 480.6h2.7v1.32h-2.7zM117.4 480.6h2.7v1.32h-2.7zM125.2 480.6h2.7v1.32h-2.7zM143.5 480.6h2.7v1.32h-2.7zM57.2 479.3h2.7v1.32h-2.7zM67.7 479.3h7.9v1.32h-7.9zM93.8 479.3h2.7v1.32h-2.7zM112.2 479.3h2.7v1.32h-2.7zM117.4 479.3h2.7v1.32h-2.7zM122.6 479.3h2.7v1.32h-2.7zM146.2 479.3h2.7v1.32h-2.7zM154.0 479.3h2.7v1.32h-2.7zM86.0 478.0h2.7v1.32h-2.7zM93.8 478.0h5.3v1.32h-5.3zM106.9 478.0h5.3v1.32h-5.3zM120.0 478.0h2.7v1.32h-2.7zM125.2 478.0h2.7v1.32h-2.7zM133.1 478.0h2.7v1.32h-2.7zM54.6 476.7h2.7v1.32h-2.7zM65.1 476.7h2.7v1.32h-2.7zM72.9 476.7h2.7v1.32h-2.7zM86.0 476.7h10.5v1.32h-10.5zM106.9 476.7h5.3v1.32h-5.3zM146.2 476.7h2.7v1.32h-2.7zM65.1 475.5h5.3v1.32h-5.3zM75.5 475.5h2.7v1.32h-2.7zM80.8 475.5h5.3v1.32h-5.3zM91.2 475.5h5.3v1.32h-5.3zM99.1 475.5h2.7v1.32h-2.7zM112.2 475.5h2.7v1.32h-2.7zM120.0 475.5h2.7v1.32h-2.7zM135.7 475.5h2.7v1.32h-2.7zM151.4 475.5h2.7v1.32h-2.7zM161.8 475.5h2.7v1.32h-2.7zM54.6 474.2h2.7v1.32h-2.7zM112.2 474.2h2.7v1.32h-2.7zM151.4 474.2h2.7v1.32h-2.7zM75.5 472.9h2.7v1.32h-2.7zM80.8 472.9h2.7v1.32h-2.7zM91.2 472.9h2.7v1.32h-2.7zM133.1 472.9h2.7v1.32h-2.7zM57.2 471.6h10.5v1.32h-10.5zM75.5 471.6h10.5v1.32h-10.5zM88.6 471.6h2.7v1.32h-2.7zM99.1 471.6h5.3v1.32h-5.3zM114.8 471.6h2.7v1.32h-2.7zM52.0 470.4h2.7v1.32h-2.7zM59.8 470.4h2.7v1.32h-2.7zM67.7 470.4h2.7v1.32h-2.7zM72.9 470.4h2.7v1.32h-2.7zM80.8 470.4h5.3v1.32h-5.3zM91.2 470.4h2.7v1.32h-2.7zM104.3 470.4h2.7v1.32h-2.7zM114.8 470.4h2.7v1.32h-2.7zM135.7 470.4h2.7v1.32h-2.7zM148.8 470.4h2.7v1.32h-2.7zM161.8 470.4h2.7v1.32h-2.7zM65.1 469.1h2.7v1.32h-2.7zM70.3 469.1h2.7v1.32h-2.7zM96.5 469.1h7.9v1.32h-7.9zM106.9 469.1h2.7v1.32h-2.7zM112.2 469.1h2.7v1.32h-2.7zM122.6 469.1h2.7v1.32h-2.7zM59.8 467.8h2.7v1.32h-2.7zM65.1 467.8h10.5v1.32h-10.5zM83.4 467.8h2.7v1.32h-2.7zM88.6 467.8h5.3v1.32h-5.3zM96.5 467.8h2.7v1.32h-2.7zM104.3 467.8h5.3v1.32h-5.3zM117.4 467.8h2.7v1.32h-2.7zM164.5 467.8h2.7v1.32h-2.7zM177.5 467.8h2.7v1.32h-2.7zM59.8 466.5h2.7v1.32h-2.7zM65.1 466.5h2.7v1.32h-2.7zM91.2 466.5h2.7v1.32h-2.7zM104.3 466.5h2.7v1.32h-2.7zM109.5 466.5h2.7v1.32h-2.7zM120.0 466.5h2.7v1.32h-2.7zM83.4 465.3h2.7v1.32h-2.7zM96.5 465.3h2.7v1.32h-2.7zM109.5 465.3h5.3v1.32h-5.3zM154.0 465.3h2.7v1.32h-2.7zM161.8 465.3h2.7v1.32h-2.7zM91.2 464.0h5.3v1.32h-5.3zM104.3 464.0h2.7v1.32h-2.7zM161.8 464.0h2.7v1.32h-2.7zM57.2 462.7h2.7v1.32h-2.7zM88.6 462.7h2.7v1.32h-2.7zM93.8 462.7h5.3v1.32h-5.3zM130.5 462.7h2.7v1.32h-2.7zM138.3 462.7h2.7v1.32h-2.7zM159.2 462.7h2.7v1.32h-2.7zM180.2 462.7h2.7v1.32h-2.7zM67.7 461.4h2.7v1.32h-2.7zM72.9 461.4h2.7v1.32h-2.7zM99.1 461.4h5.3v1.32h-5.3zM106.9 461.4h2.7v1.32h-2.7zM114.8 461.4h2.7v1.32h-2.7zM120.0 461.4h2.7v1.32h-2.7zM135.7 461.4h2.7v1.32h-2.7zM148.8 461.4h2.7v1.32h-2.7zM161.8 461.4h2.7v1.32h-2.7zM185.4 461.4h2.7v1.32h-2.7zM72.9 460.2h2.7v1.32h-2.7zM83.4 460.2h2.7v1.32h-2.7zM96.5 460.2h2.7v1.32h-2.7zM114.8 460.2h2.7v1.32h-2.7zM120.0 460.2h2.7v1.32h-2.7zM148.8 460.2h2.7v1.32h-2.7zM83.4 458.9h2.7v1.32h-2.7zM109.5 458.9h2.7v1.32h-2.7zM117.4 458.9h2.7v1.32h-2.7zM130.5 458.9h2.7v1.32h-2.7zM138.3 458.9h2.7v1.32h-2.7zM146.2 458.9h2.7v1.32h-2.7zM164.5 458.9h2.7v1.32h-2.7zM75.5 457.6h2.7v1.32h-2.7zM83.4 457.6h5.3v1.32h-5.3zM93.8 457.6h2.7v1.32h-2.7zM99.1 457.6h7.9v1.32h-7.9zM109.5 457.6h5.3v1.32h-5.3zM117.4 457.6h7.9v1.32h-7.9zM127.8 457.6h2.7v1.32h-2.7zM164.5 457.6h2.7v1.32h-2.7zM169.7 457.6h2.7v1.32h-2.7zM88.6 456.3h2.7v1.32h-2.7zM99.1 456.3h2.7v1.32h-2.7zM114.8 456.3h2.7v1.32h-2.7zM122.6 456.3h5.3v1.32h-5.3zM133.1 456.3h2.7v1.32h-2.7zM143.5 456.3h2.7v1.32h-2.7zM154.0 456.3h2.7v1.32h-2.7zM177.5 456.3h5.3v1.32h-5.3zM78.2 455.1h2.7v1.32h-2.7zM99.1 455.1h2.7v1.32h-2.7zM146.2 455.1h2.7v1.32h-2.7zM169.7 455.1h5.3v1.32h-5.3zM177.5 455.1h2.7v1.32h-2.7zM148.8 453.8h2.7v1.32h-2.7zM185.4 453.8h2.7v1.32h-2.7z" fill="#00ff04"/>
<path d="M62.5 554.5h2.7v1.32h-2.7zM72.9 554.5h2.7v1.32h-2.7zM91.2 554.5h2.7v1.32h-2.7zM99.1 554.5h2.7v1.32h-2.7zM104.3 554.5h2.7v1.32h-2.7zM112.2 554.5h2.7v1.32h-2.7zM120.0 554.5h2.7v1.32h-2.7zM125.2 554.5h2.7v1.32h-2.7zM130.5 554.5h2.7v1.32h-2.7zM154.0 554.5h2.7v1.32h-2.7zM172.3 554.5h2.7v1.32h-2.7zM59.8 553.2h2.7v1.32h-2.7zM72.9 553.2h2.7v1.32h-2.7zM99.1 553.2h2.7v1.32h-2.7zM127.8 553.2h2.7v1.32h-2.7zM148.8 553.2h2.7v1.32h-2.7zM156.6 553.2h2.7v1.32h-2.7zM182.8 553.2h2.7v1.32h-2.7zM70.3 552.0h2.7v1.32h-2.7zM112.2 552.0h2.7v1.32h-2.7zM130.5 552.0h2.7v1.32h-2.7zM167.1 552.0h2.7v1.32h-2.7zM109.5 550.7h2.7v1.32h-2.7zM120.0 550.7h7.9v1.32h-7.9zM143.5 550.7h5.3v1.32h-5.3zM151.4 550.7h2.7v1.32h-2.7zM159.2 550.7h2.7v1.32h-2.7zM167.1 550.7h7.9v1.32h-7.9zM59.8 549.4h2.7v1.32h-2.7zM83.4 549.4h2.7v1.32h-2.7zM101.7 549.4h2.7v1.32h-2.7zM106.9 549.4h2.7v1.32h-2.7zM122.6 549.4h2.7v1.32h-2.7zM130.5 549.4h2.7v1.32h-2.7zM151.4 549.4h2.7v1.32h-2.7zM177.5 549.4h2.7v1.32h-2.7zM62.5 548.1h2.7v1.32h-2.7zM67.7 548.1h2.7v1.32h-2.7zM75.5 548.1h2.7v1.32h-2.7zM80.8 548.1h5.3v1.32h-5.3zM106.9 548.1h2.7v1.32h-2.7zM112.2 548.1h2.7v1.32h-2.7zM125.2 548.1h2.7v1.32h-2.7zM130.5 548.1h2.7v1.32h-2.7zM135.7 548.1h2.7v1.32h-2.7zM151.4 548.1h5.3v1.32h-5.3zM164.5 548.1h2.7v1.32h-2.7zM185.4 548.1h2.7v1.32h-2.7zM57.2 546.9h2.7v1.32h-2.7zM78.2 546.9h2.7v1.32h-2.7zM88.6 546.9h5.3v1.32h-5.3zM112.2 546.9h2.7v1.32h-2.7zM117.4 546.9h2.7v1.32h-2.7zM140.9 546.9h2.7v1.32h-2.7zM148.8 546.9h2.7v1.32h-2.7zM154.0 546.9h2.7v1.32h-2.7zM164.5 546.9h2.7v1.32h-2.7zM177.5 546.9h2.7v1.32h-2.7zM185.4 546.9h2.7v1.32h-2.7zM59.8 545.6h5.3v1.32h-5.3zM72.9 545.6h2.7v1.32h-2.7zM78.2 545.6h2.7v1.32h-2.7zM93.8 545.6h2.7v1.32h-2.7zM109.5 545.6h5.3v1.32h-5.3zM161.8 545.6h2.7v1.32h-2.7zM167.1 545.6h2.7v1.32h-2.7zM180.2 545.6h2.7v1.32h-2.7zM67.7 544.3h2.7v1.32h-2.7zM91.2 544.3h5.3v1.32h-5.3zM104.3 544.3h2.7v1.32h-2.7zM122.6 544.3h5.3v1.32h-5.3zM140.9 544.3h5.3v1.32h-5.3zM167.1 544.3h2.7v1.32h-2.7zM180.2 544.3h2.7v1.32h-2.7zM65.1 543.0h2.7v1.32h-2.7zM70.3 543.0h2.7v1.32h-2.7zM104.3 543.0h2.7v1.32h-2.7zM125.2 543.0h2.7v1.32h-2.7zM133.1 543.0h2.7v1.32h-2.7zM138.3 543.0h5.3v1.32h-5.3zM159.2 543.0h2.7v1.32h-2.7zM174.9 543.0h2.7v1.32h-2.7zM67.7 541.8h2.7v1.32h-2.7zM80.8 541.8h2.7v1.32h-2.7zM93.8 541.8h2.7v1.32h-2.7zM101.7 541.8h2.7v1.32h-2.7zM106.9 541.8h2.7v1.32h-2.7zM117.4 541.8h2.7v1.32h-2.7zM125.2 541.8h2.7v1.32h-2.7zM135.7 541.8h2.7v1.32h-2.7zM140.9 541.8h2.7v1.32h-2.7zM146.2 541.8h2.7v1.32h-2.7zM151.4 541.8h2.7v1.32h-2.7zM156.6 541.8h2.7v1.32h-2.7zM172.3 541.8h5.3v1.32h-5.3zM52.0 540.5h2.7v1.32h-2.7zM62.5 540.5h5.3v1.32h-5.3zM70.3 540.5h7.9v1.32h-7.9zM86.0 540.5h2.7v1.32h-2.7zM99.1 540.5h2.7v1.32h-2.7zM106.9 540.5h2.7v1.32h-2.7zM114.8 540.5h2.7v1.32h-2.7zM120.0 540.5h2.7v1.32h-2.7zM127.8 540.5h2.7v1.32h-2.7zM133.1 540.5h7.9v1.32h-7.9zM154.0 540.5h2.7v1.32h-2.7zM174.9 540.5h2.7v1.32h-2.7zM185.4 540.5h2.7v1.32h-2.7zM80.8 539.2h2.7v1.32h-2.7zM106.9 539.2h5.3v1.32h-5.3zM120.0 539.2h10.5v1.32h-10.5zM148.8 539.2h5.3v1.32h-5.3zM156.6 539.2h2.7v1.32h-2.7zM169.7 539.2h2.7v1.32h-2.7zM174.9 539.2h2.7v1.32h-2.7zM57.2 537.9h2.7v1.32h-2.7zM62.5 537.9h2.7v1.32h-2.7zM67.7 537.9h2.7v1.32h-2.7zM80.8 537.9h2.7v1.32h-2.7zM86.0 537.9h2.7v1.32h-2.7zM91.2 537.9h2.7v1.32h-2.7zM96.5 537.9h2.7v1.32h-2.7zM101.7 537.9h2.7v1.32h-2.7zM106.9 537.9h2.7v1.32h-2.7zM114.8 537.9h2.7v1.32h-2.7zM135.7 537.9h2.7v1.32h-2.7zM146.2 537.9h2.7v1.32h-2.7zM177.5 537.9h2.7v1.32h-2.7zM185.4 537.9h2.7v1.32h-2.7zM59.8 536.7h5.3v1.32h-5.3zM67.7 536.7h2.7v1.32h-2.7zM75.5 536.7h5.3v1.32h-5.3zM96.5 536.7h2.7v1.32h-2.7zM117.4 536.7h7.9v1.32h-7.9zM127.8 536.7h2.7v1.32h-2.7zM133.1 536.7h2.7v1.32h-2.7zM151.4 536.7h5.3v1.32h-5.3zM167.1 536.7h7.9v1.32h-7.9zM177.5 536.7h2.7v1.32h-2.7zM75.5 535.4h2.7v1.32h-2.7zM80.8 535.4h2.7v1.32h-2.7zM86.0 535.4h2.7v1.32h-2.7zM91.2 535.4h2.7v1.32h-2.7zM120.0 535.4h2.7v1.32h-2.7zM125.2 535.4h2.7v1.32h-2.7zM130.5 535.4h2.7v1.32h-2.7zM140.9 535.4h2.7v1.32h-2.7zM146.2 535.4h5.3v1.32h-5.3zM167.1 535.4h2.7v1.32h-2.7zM177.5 535.4h2.7v1.32h-2.7zM70.3 534.1h2.7v1.32h-2.7zM75.5 534.1h2.7v1.32h-2.7zM88.6 534.1h2.7v1.32h-2.7zM104.3 534.1h2.7v1.32h-2.7zM117.4 534.1h2.7v1.32h-2.7zM122.6 534.1h2.7v1.32h-2.7zM133.1 534.1h2.7v1.32h-2.7zM146.2 534.1h5.3v1.32h-5.3zM159.2 534.1h5.3v1.32h-5.3zM185.4 534.1h2.7v1.32h-2.7zM57.2 532.8h2.7v1.32h-2.7zM78.2 532.8h2.7v1.32h-2.7zM91.2 532.8h2.7v1.32h-2.7zM96.5 532.8h2.7v1.32h-2.7zM104.3 532.8h5.3v1.32h-5.3zM114.8 532.8h2.7v1.32h-2.7zM125.2 532.8h2.7v1.32h-2.7zM140.9 532.8h2.7v1.32h-2.7zM148.8 532.8h2.7v1.32h-2.7zM182.8 532.8h2.7v1.32h-2.7zM59.8 531.6h2.7v1.32h-2.7zM65.1 531.6h2.7v1.32h-2.7zM106.9 531.6h2.7v1.32h-2.7zM114.8 531.6h2.7v1.32h-2.7zM122.6 531.6h2.7v1.32h-2.7zM127.8 531.6h2.7v1.32h-2.7zM133.1 531.6h2.7v1.32h-2.7zM140.9 531.6h2.7v1.32h-2.7zM148.8 531.6h5.3v1.32h-5.3zM159.2 531.6h2.7v1.32h-2.7zM164.5 531.6h2.7v1.32h-2.7zM174.9 531.6h2.7v1.32h-2.7zM180.2 531.6h2.7v1.32h-2.7zM67.7 530.3h2.7v1.32h-2.7zM72.9 530.3h2.7v1.32h-2.7zM78.2 530.3h2.7v1.32h-2.7zM91.2 530.3h2.7v1.32h-2.7zM120.0 530.3h2.7v1.32h-2.7zM133.1 530.3h2.7v1.32h-2.7zM138.3 530.3h2.7v1.32h-2.7zM146.2 530.3h2.7v1.32h-2.7zM156.6 530.3h2.7v1.32h-2.7zM174.9 530.3h2.7v1.32h-2.7zM67.7 529.0h2.7v1.32h-2.7zM75.5 529.0h5.3v1.32h-5.3zM104.3 529.0h2.7v1.32h-2.7zM109.5 529.0h2.7v1.32h-2.7zM114.8 529.0h2.7v1.32h-2.7zM120.0 529.0h2.7v1.32h-2.7zM133.1 529.0h2.7v1.32h-2.7zM148.8 529.0h5.3v1.32h-5.3zM169.7 529.0h2.7v1.32h-2.7zM67.7 527.8h5.3v1.32h-5.3zM93.8 527.8h2.7v1.32h-2.7zM130.5 527.8h2.7v1.32h-2.7zM138.3 527.8h5.3v1.32h-5.3zM151.4 527.8h2.7v1.32h-2.7zM164.5 527.8h2.7v1.32h-2.7zM169.7 527.8h2.7v1.32h-2.7zM177.5 527.8h2.7v1.32h-2.7zM59.8 526.5h2.7v1.32h-2.7zM65.1 526.5h2.7v1.32h-2.7zM80.8 526.5h2.7v1.32h-2.7zM86.0 526.5h2.7v1.32h-2.7zM99.1 526.5h2.7v1.32h-2.7zM120.0 526.5h5.3v1.32h-5.3zM130.5 526.5h2.7v1.32h-2.7zM174.9 526.5h2.7v1.32h-2.7zM62.5 525.2h2.7v1.32h-2.7zM72.9 525.2h2.7v1.32h-2.7zM80.8 525.2h5.3v1.32h-5.3zM109.5 525.2h5.3v1.32h-5.3zM130.5 525.2h5.3v1.32h-5.3zM143.5 525.2h5.3v1.32h-5.3zM167.1 525.2h2.7v1.32h-2.7zM75.5 523.9h2.7v1.32h-2.7zM106.9 523.9h2.7v1.32h-2.7zM151.4 523.9h2.7v1.32h-2.7zM164.5 523.9h5.3v1.32h-5.3zM80.8 522.6h5.3v1.32h-5.3zM88.6 522.6h5.3v1.32h-5.3zM101.7 522.6h2.7v1.32h-2.7zM106.9 522.6h2.7v1.32h-2.7zM114.8 522.6h7.9v1.32h-7.9zM127.8 522.6h5.3v1.32h-5.3zM140.9 522.6h2.7v1.32h-2.7zM146.2 522.6h2.7v1.32h-2.7zM151.4 522.6h5.3v1.32h-5.3zM62.5 521.4h2.7v1.32h-2.7zM70.3 521.4h2.7v1.32h-2.7zM91.2 521.4h2.7v1.32h-2.7zM96.5 521.4h2.7v1.32h-2.7zM106.9 521.4h2.7v1.32h-2.7zM117.4 521.4h2.7v1.32h-2.7zM125.2 521.4h2.7v1.32h-2.7zM130.5 521.4h2.7v1.32h-2.7zM167.1 521.4h2.7v1.32h-2.7zM182.8 521.4h2.7v1.32h-2.7zM54.6 520.1h2.7v1.32h-2.7zM96.5 520.1h2.7v1.32h-2.7zM117.4 520.1h2.7v1.32h-2.7zM125.2 520.1h2.7v1.32h-2.7zM138.3 520.1h2.7v1.32h-2.7zM154.0 520.1h2.7v1.32h-2.7zM164.5 520.1h2.7v1.32h-2.7zM182.8 520.1h5.3v1.32h-5.3zM65.1 518.8h2.7v1.32h-2.7zM106.9 518.8h5.3v1.32h-5.3zM146.2 518.8h5.3v1.32h-5.3zM161.8 518.8h2.7v1.32h-2.7zM167.1 518.8h2.7v1.32h-2.7zM65.1 517.5h2.7v1.32h-2.7zM93.8 517.5h2.7v1.32h-2.7zM106.9 517.5h5.3v1.32h-5.3zM138.3 517.5h5.3v1.32h-5.3zM148.8 517.5h5.3v1.32h-5.3zM182.8 517.5h2.7v1.32h-2.7zM75.5 516.3h2.7v1.32h-2.7zM109.5 516.3h2.7v1.32h-2.7zM114.8 516.3h2.7v1.32h-2.7zM127.8 516.3h2.7v1.32h-2.7zM133.1 516.3h2.7v1.32h-2.7zM161.8 516.3h2.7v1.32h-2.7zM54.6 515.0h2.7v1.32h-2.7zM62.5 515.0h2.7v1.32h-2.7zM78.2 515.0h2.7v1.32h-2.7zM83.4 515.0h2.7v1.32h-2.7zM96.5 515.0h2.7v1.32h-2.7zM104.3 515.0h2.7v1.32h-2.7zM114.8 515.0h2.7v1.32h-2.7zM130.5 515.0h2.7v1.32h-2.7zM167.1 515.0h2.7v1.32h-2.7zM62.5 513.7h2.7v1.32h-2.7zM67.7 513.7h2.7v1.32h-2.7zM80.8 513.7h2.7v1.32h-2.7zM93.8 513.7h2.7v1.32h-2.7zM104.3 513.7h2.7v1.32h-2.7zM135.7 513.7h5.3v1.32h-5.3zM156.6 513.7h2.7v1.32h-2.7zM177.5 513.7h2.7v1.32h-2.7zM185.4 513.7h2.7v1.32h-2.7zM59.8 512.4h2.7v1.32h-2.7zM83.4 512.4h2.7v1.32h-2.7zM96.5 512.4h2.7v1.32h-2.7zM120.0 512.4h2.7v1.32h-2.7zM127.8 512.4h2.7v1.32h-2.7zM146.2 512.4h2.7v1.32h-2.7zM151.4 512.4h2.7v1.32h-2.7zM177.5 512.4h2.7v1.32h-2.7zM57.2 511.2h2.7v1.32h-2.7zM67.7 511.2h2.7v1.32h-2.7zM78.2 511.2h2.7v1.32h-2.7zM109.5 511.2h7.9v1.32h-7.9zM133.1 511.2h5.3v1.32h-5.3zM148.8 511.2h2.7v1.32h-2.7zM156.6 511.2h2.7v1.32h-2.7zM93.8 509.9h2.7v1.32h-2.7zM114.8 509.9h2.7v1.32h-2.7zM127.8 509.9h2.7v1.32h-2.7zM67.7 508.6h2.7v1.32h-2.7zM80.8 508.6h2.7v1.32h-2.7zM91.2 508.6h2.7v1.32h-2.7zM104.3 508.6h2.7v1.32h-2.7zM109.5 508.6h2.7v1.32h-2.7zM114.8 508.6h2.7v1.32h-2.7zM130.5 508.6h2.7v1.32h-2.7zM135.7 508.6h2.7v1.32h-2.7zM156.6 508.6h2.7v1.32h-2.7zM169.7 508.6h2.7v1.32h-2.7zM57.2 507.3h2.7v1.32h-2.7zM75.5 507.3h2.7v1.32h-2.7zM104.3 507.3h2.7v1.32h-2.7zM127.8 507.3h2.7v1.32h-2.7zM135.7 507.3h2.7v1.32h-2.7zM148.8 507.3h2.7v1.32h-2.7zM159.2 507.3h2.7v1.32h-2.7zM174.9 507.3h2.7v1.32h-2.7zM65.1 506.1h2.7v1.32h-2.7zM117.4 506.1h2.7v1.32h-2.7zM125.2 506.1h2.7v1.32h-2.7zM135.7 506.1h2.7v1.32h-2.7zM182.8 506.1h2.7v1.32h-2.7zM57.2 504.8h2.7v1.32h-2.7zM91.2 504.8h2.7v1.32h-2.7zM117.4 504.8h5.3v1.32h-5.3zM125.2 504.8h2.7v1.32h-2.7zM62.5 503.5h2.7v1.32h-2.7zM91.2 503.5h2.7v1.32h-2.7zM96.5 503.5h2.7v1.32h-2.7zM109.5 503.5h2.7v1.32h-2.7zM120.0 503.5h2.7v1.32h-2.7zM125.2 503.5h2.7v1.32h-2.7zM138.3 503.5h2.7v1.32h-2.7zM151.4 503.5h5.3v1.32h-5.3zM159.2 503.5h2.7v1.32h-2.7zM57.2 502.2h2.7v1.32h-2.7zM62.5 502.2h5.3v1.32h-5.3zM86.0 502.2h2.7v1.32h-2.7zM91.2 502.2h2.7v1.32h-2.7zM101.7 502.2h5.3v1.32h-5.3zM130.5 502.2h2.7v1.32h-2.7zM154.0 502.2h2.7v1.32h-2.7zM167.1 502.2h2.7v1.32h-2.7zM75.5 501.0h2.7v1.32h-2.7zM80.8 501.0h2.7v1.32h-2.7zM88.6 501.0h2.7v1.32h-2.7zM93.8 501.0h5.3v1.32h-5.3zM109.5 501.0h2.7v1.32h-2.7zM125.2 501.0h2.7v1.32h-2.7zM130.5 501.0h2.7v1.32h-2.7zM140.9 501.0h2.7v1.32h-2.7zM151.4 501.0h2.7v1.32h-2.7zM161.8 501.0h2.7v1.32h-2.7zM182.8 501.0h2.7v1.32h-2.7zM67.7 499.7h2.7v1.32h-2.7zM72.9 499.7h2.7v1.32h-2.7zM78.2 499.7h2.7v1.32h-2.7zM83.4 499.7h2.7v1.32h-2.7zM91.2 499.7h2.7v1.32h-2.7zM127.8 499.7h2.7v1.32h-2.7zM135.7 499.7h2.7v1.32h-2.7zM67.7 498.4h5.3v1.32h-5.3zM86.0 498.4h2.7v1.32h-2.7zM96.5 498.4h2.7v1.32h-2.7zM106.9 498.4h2.7v1.32h-2.7zM117.4 498.4h2.7v1.32h-2.7zM130.5 498.4h5.3v1.32h-5.3zM146.2 498.4h2.7v1.32h-2.7zM75.5 497.1h2.7v1.32h-2.7zM80.8 497.1h2.7v1.32h-2.7zM88.6 497.1h2.7v1.32h-2.7zM99.1 497.1h2.7v1.32h-2.7zM109.5 497.1h2.7v1.32h-2.7zM120.0 497.1h2.7v1.32h-2.7zM125.2 497.1h2.7v1.32h-2.7zM130.5 497.1h2.7v1.32h-2.7zM135.7 497.1h5.3v1.32h-5.3zM143.5 497.1h2.7v1.32h-2.7zM154.0 497.1h2.7v1.32h-2.7zM169.7 497.1h2.7v1.32h-2.7zM180.2 497.1h2.7v1.32h-2.7zM65.1 495.9h2.7v1.32h-2.7zM72.9 495.9h2.7v1.32h-2.7zM80.8 495.9h2.7v1.32h-2.7zM93.8 495.9h2.7v1.32h-2.7zM99.1 495.9h5.3v1.32h-5.3zM112.2 495.9h2.7v1.32h-2.7zM125.2 495.9h2.7v1.32h-2.7zM164.5 495.9h2.7v1.32h-2.7zM65.1 494.6h2.7v1.32h-2.7zM72.9 494.6h2.7v1.32h-2.7zM99.1 494.6h2.7v1.32h-2.7zM104.3 494.6h2.7v1.32h-2.7zM109.5 494.6h2.7v1.32h-2.7zM114.8 494.6h2.7v1.32h-2.7zM120.0 494.6h2.7v1.32h-2.7zM130.5 494.6h2.7v1.32h-2.7zM135.7 494.6h5.3v1.32h-5.3zM182.8 494.6h2.7v1.32h-2.7zM59.8 493.3h5.3v1.32h-5.3zM72.9 493.3h5.3v1.32h-5.3zM83.4 493.3h2.7v1.32h-2.7zM91.2 493.3h2.7v1.32h-2.7zM117.4 493.3h5.3v1.32h-5.3zM151.4 493.3h2.7v1.32h-2.7zM161.8 493.3h5.3v1.32h-5.3zM172.3 493.3h2.7v1.32h-2.7zM182.8 493.3h2.7v1.32h-2.7zM80.8 492.0h2.7v1.32h-2.7zM99.1 492.0h7.9v1.32h-7.9zM120.0 492.0h2.7v1.32h-2.7zM127.8 492.0h5.3v1.32h-5.3zM154.0 492.0h5.3v1.32h-5.3zM177.5 492.0h2.7v1.32h-2.7zM65.1 490.8h2.7v1.32h-2.7zM70.3 490.8h2.7v1.32h-2.7zM99.1 490.8h5.3v1.32h-5.3zM112.2 490.8h7.9v1.32h-7.9zM122.6 490.8h2.7v1.32h-2.7zM140.9 490.8h2.7v1.32h-2.7zM185.4 490.8h2.7v1.32h-2.7zM72.9 489.5h2.7v1.32h-2.7zM86.0 489.5h2.7v1.32h-2.7zM93.8 489.5h2.7v1.32h-2.7zM99.1 489.5h2.7v1.32h-2.7zM112.2 489.5h5.3v1.32h-5.3zM143.5 489.5h2.7v1.32h-2.7zM151.4 489.5h2.7v1.32h-2.7zM185.4 489.5h2.7v1.32h-2.7zM65.1 488.2h2.7v1.32h-2.7zM104.3 488.2h2.7v1.32h-2.7zM112.2 488.2h2.7v1.32h-2.7zM125.2 488.2h2.7v1.32h-2.7zM133.1 488.2h7.9v1.32h-7.9zM156.6 488.2h2.7v1.32h-2.7zM172.3 488.2h2.7v1.32h-2.7zM59.8 486.9h2.7v1.32h-2.7zM65.1 486.9h2.7v1.32h-2.7zM78.2 486.9h2.7v1.32h-2.7zM104.3 486.9h2.7v1.32h-2.7zM114.8 486.9h2.7v1.32h-2.7zM122.6 486.9h2.7v1.32h-2.7zM127.8 486.9h5.3v1.32h-5.3zM138.3 486.9h2.7v1.32h-2.7zM169.7 486.9h2.7v1.32h-2.7zM174.9 486.9h5.3v1.32h-5.3zM72.9 485.7h2.7v1.32h-2.7zM78.2 485.7h2.7v1.32h-2.7zM88.6 485.7h5.3v1.32h-5.3zM96.5 485.7h2.7v1.32h-2.7zM101.7 485.7h7.9v1.32h-7.9zM122.6 485.7h2.7v1.32h-2.7zM130.5 485.7h2.7v1.32h-2.7zM167.1 485.7h2.7v1.32h-2.7zM185.4 485.7h2.7v1.32h-2.7zM75.5 484.4h2.7v1.32h-2.7zM109.5 484.4h7.9v1.32h-7.9zM125.2 484.4h2.7v1.32h-2.7zM148.8 484.4h2.7v1.32h-2.7zM174.9 484.4h2.7v1.32h-2.7zM67.7 483.1h2.7v1.32h-2.7zM101.7 483.1h5.3v1.32h-5.3zM122.6 483.1h2.7v1.32h-2.7zM138.3 483.1h2.7v1.32h-2.7zM143.5 483.1h2.7v1.32h-2.7zM148.8 483.1h2.7v1.32h-2.7zM72.9 481.8h2.7v1.32h-2.7zM78.2 481.8h2.7v1.32h-2.7zM88.6 481.8h2.7v1.32h-2.7zM114.8 481.8h5.3v1.32h-5.3zM122.6 481.8h2.7v1.32h-2.7zM135.7 481.8h2.7v1.32h-2.7zM148.8 481.8h2.7v1.32h-2.7zM59.8 480.6h2.7v1.32h-2.7zM80.8 480.6h2.7v1.32h-2.7zM109.5 480.6h5.3v1.32h-5.3zM122.6 480.6h2.7v1.32h-2.7zM127.8 480.6h2.7v1.32h-2.7zM140.9 480.6h2.7v1.32h-2.7zM161.8 480.6h2.7v1.32h-2.7zM75.5 479.3h5.3v1.32h-5.3zM86.0 479.3h5.3v1.32h-5.3zM99.1 479.3h2.7v1.32h-2.7zM114.8 479.3h2.7v1.32h-2.7zM120.0 479.3h2.7v1.32h-2.7zM133.1 479.3h7.9v1.32h-7.9zM59.8 478.0h2.7v1.32h-2.7zM80.8 478.0h2.7v1.32h-2.7zM88.6 478.0h2.7v1.32h-2.7zM99.1 478.0h5.3v1.32h-5.3zM127.8 478.0h2.7v1.32h-2.7zM161.8 478.0h2.7v1.32h-2.7zM185.4 478.0h2.7v1.32h-2.7zM70.3 476.7h2.7v1.32h-2.7zM78.2 476.7h2.7v1.32h-2.7zM83.4 476.7h2.7v1.32h-2.7zM101.7 476.7h2.7v1.32h-2.7zM112.2 476.7h2.7v1.32h-2.7zM120.0 476.7h2.7v1.32h-2.7zM127.8 476.7h2.7v1.32h-2.7zM135.7 476.7h2.7v1.32h-2.7zM143.5 476.7h2.7v1.32h-2.7zM156.6 476.7h2.7v1.32h-2.7zM180.2 476.7h2.7v1.32h-2.7zM78.2 475.5h2.7v1.32h-2.7zM88.6 475.5h2.7v1.32h-2.7zM127.8 475.5h5.3v1.32h-5.3zM140.9 475.5h2.7v1.32h-2.7zM154.0 475.5h2.7v1.32h-2.7zM159.2 475.5h2.7v1.32h-2.7zM67.7 474.2h2.7v1.32h-2.7zM83.4 474.2h2.7v1.32h-2.7zM88.6 474.2h5.3v1.32h-5.3zM106.9 474.2h5.3v1.32h-5.3zM117.4 474.2h2.7v1.32h-2.7zM130.5 474.2h2.7v1.32h-2.7zM164.5 474.2h2.7v1.32h-2.7zM185.4 474.2h2.7v1.32h-2.7zM70.3 472.9h2.7v1.32h-2.7zM88.6 472.9h2.7v1.32h-2.7zM101.7 472.9h2.7v1.32h-2.7zM106.9 472.9h2.7v1.32h-2.7zM112.2 472.9h2.7v1.32h-2.7zM120.0 472.9h2.7v1.32h-2.7zM127.8 472.9h5.3v1.32h-5.3zM154.0 472.9h5.3v1.32h-5.3zM174.9 472.9h7.9v1.32h-7.9zM185.4 472.9h2.7v1.32h-2.7zM96.5 471.6h2.7v1.32h-2.7zM106.9 471.6h7.9v1.32h-7.9zM122.6 471.6h5.3v1.32h-5.3zM70.3 470.4h2.7v1.32h-2.7zM96.5 470.4h2.7v1.32h-2.7zM101.7 470.4h2.7v1.32h-2.7zM106.9 470.4h2.7v1.32h-2.7zM133.1 470.4h2.7v1.32h-2.7zM146.2 470.4h2.7v1.32h-2.7zM88.6 469.1h2.7v1.32h-2.7zM109.5 469.1h2.7v1.32h-2.7zM117.4 469.1h5.3v1.32h-5.3zM130.5 469.1h2.7v1.32h-2.7zM135.7 469.1h2.7v1.32h-2.7zM143.5 469.1h2.7v1.32h-2.7zM148.8 469.1h2.7v1.32h-2.7zM159.2 469.1h2.7v1.32h-2.7zM180.2 469.1h5.3v1.32h-5.3zM125.2 467.8h7.9v1.32h-7.9zM148.8 467.8h2.7v1.32h-2.7zM169.7 467.8h2.7v1.32h-2.7zM174.9 467.8h2.7v1.32h-2.7zM62.5 466.5h2.7v1.32h-2.7zM70.3 466.5h2.7v1.32h-2.7zM88.6 466.5h2.7v1.32h-2.7zM114.8 466.5h5.3v1.32h-5.3zM133.1 466.5h2.7v1.32h-2.7zM138.3 466.5h2.7v1.32h-2.7zM148.8 466.5h2.7v1.32h-2.7zM154.0 466.5h2.7v1.32h-2.7zM174.9 466.5h5.3v1.32h-5.3zM182.8 466.5h2.7v1.32h-2.7zM59.8 465.3h5.3v1.32h-5.3zM70.3 465.3h2.7v1.32h-2.7zM99.1 465.3h2.7v1.32h-2.7zM122.6 465.3h5.3v1.32h-5.3zM130.5 465.3h2.7v1.32h-2.7zM140.9 465.3h2.7v1.32h-2.7zM148.8 465.3h5.3v1.32h-5.3zM167.1 465.3h2.7v1.32h-2.7zM174.9 465.3h2.7v1.32h-2.7zM182.8 465.3h2.7v1.32h-2.7zM54.6 464.0h2.7v1.32h-2.7zM75.5 464.0h2.7v1.32h-2.7zM88.6 464.0h2.7v1.32h-2.7zM125.2 464.0h2.7v1.32h-2.7zM130.5 464.0h2.7v1.32h-2.7zM146.2 464.0h2.7v1.32h-2.7zM154.0 464.0h2.7v1.32h-2.7zM72.9 462.7h2.7v1.32h-2.7zM99.1 462.7h2.7v1.32h-2.7zM104.3 462.7h2.7v1.32h-2.7zM112.2 462.7h5.3v1.32h-5.3zM122.6 462.7h7.9v1.32h-7.9zM151.4 462.7h5.3v1.32h-5.3zM167.1 462.7h2.7v1.32h-2.7zM54.6 461.4h2.7v1.32h-2.7zM93.8 461.4h2.7v1.32h-2.7zM127.8 461.4h2.7v1.32h-2.7zM138.3 461.4h5.3v1.32h-5.3zM151.4 461.4h2.7v1.32h-2.7zM159.2 461.4h2.7v1.32h-2.7zM164.5 461.4h2.7v1.32h-2.7zM174.9 461.4h2.7v1.32h-2.7zM180.2 461.4h2.7v1.32h-2.7zM125.2 460.2h2.7v1.32h-2.7zM133.1 460.2h2.7v1.32h-2.7zM138.3 460.2h2.7v1.32h-2.7zM156.6 460.2h5.3v1.32h-5.3zM174.9 460.2h2.7v1.32h-2.7zM65.1 458.9h2.7v1.32h-2.7zM120.0 458.9h2.7v1.32h-2.7zM125.2 458.9h2.7v1.32h-2.7zM135.7 458.9h2.7v1.32h-2.7zM148.8 458.9h2.7v1.32h-2.7zM167.1 458.9h2.7v1.32h-2.7zM185.4 458.9h2.7v1.32h-2.7zM88.6 457.6h2.7v1.32h-2.7zM125.2 457.6h2.7v1.32h-2.7zM138.3 457.6h2.7v1.32h-2.7zM143.5 457.6h2.7v1.32h-2.7zM151.4 457.6h2.7v1.32h-2.7zM174.9 457.6h2.7v1.32h-2.7zM182.8 457.6h2.7v1.32h-2.7zM54.6 456.3h2.7v1.32h-2.7zM91.2 456.3h2.7v1.32h-2.7zM127.8 456.3h2.7v1.32h-2.7zM138.3 456.3h2.7v1.32h-2.7zM146.2 456.3h2.7v1.32h-2.7zM156.6 456.3h5.3v1.32h-5.3zM167.1 456.3h2.7v1.32h-2.7zM185.4 456.3h2.7v1.32h-2.7zM114.8 455.1h2.7v1.32h-2.7zM122.6 455.1h7.9v1.32h-7.9zM148.8 455.1h2.7v1.32h-2.7zM154.0 455.1h5.3v1.32h-5.3zM180.2 455.1h2.7v1.32h-2.7zM169.7 453.8h2.7v1.32h-2.7z" fill="#39ff00"/>
<path d="M114.8 554.5h2.7v1.32h-2.7zM156.6 554.5h2.7v1.32h-2.7zM164.5 554.5h2.7v1.32h-2.7zM185.4 554.5h2.7v1.32h-2.7zM57.2 553.2h2.7v1.32h-2.7zM75.5 553.2h5.3v1.32h-5.3zM93.8 553.2h2.7v1.32h-2.7zM106.9 553.2h2.7v1.32h-2.7zM117.4 553.2h2.7v1.32h-2.7zM133.1 553.2h2.7v1.32h-2.7zM161.8 553.2h2.7v1.32h-2.7zM174.9 553.2h5.3v1.32h-5.3zM185.4 553.2h2.7v1.32h-2.7zM65.1 552.0h2.7v1.32h-2.7zM114.8 552.0h2.7v1.32h-2.7zM127.8 552.0h2.7v1.32h-2.7zM138.3 552.0h2.7v1.32h-2.7zM143.5 552.0h5.3v1.32h-5.3zM154.0 552.0h2.7v1.32h-2.7zM161.8 552.0h2.7v1.32h-2.7zM172.3 552.0h2.7v1.32h-2.7zM185.4 552.0h2.7v1.32h-2.7zM65.1 550.7h2.7v1.32h-2.7zM112.2 550.7h2.7v1.32h-2.7zM138.3 550.7h2.7v1.32h-2.7zM154.0 550.7h5.3v1.32h-5.3zM180.2 550.7h5.3v1.32h-5.3zM112.2 549.4h2.7v1.32h-2.7zM133.1 549.4h2.7v1.32h-2.7zM143.5 549.4h5.3v1.32h-5.3zM167.1 549.4h10.5v1.32h-10.5zM180.2 549.4h7.9v1.32h-7.9zM114.8 548.1h2.7v1.32h-2.7zM122.6 548.1h2.7v1.32h-2.7zM133.1 548.1h2.7v1.32h-2.7zM140.9 548.1h2.7v1.32h-2.7zM156.6 548.1h7.9v1.32h-7.9zM167.1 548.1h2.7v1.32h-2.7zM120.0 546.9h2.7v1.32h-2.7zM138.3 546.9h2.7v1.32h-2.7zM146.2 546.9h2.7v1.32h-2.7zM156.6 546.9h2.7v1.32h-2.7zM167.1 546.9h5.3v1.32h-5.3zM182.8 546.9h2.7v1.32h-2.7zM101.7 545.6h2.7v1.32h-2.7zM106.9 545.6h2.7v1.32h-2.7zM114.8 545.6h5.3v1.32h-5.3zM130.5 545.6h5.3v1.32h-5.3zM154.0 545.6h5.3v1.32h-5.3zM164.5 545.6h2.7v1.32h-2.7zM182.8 545.6h2.7v1.32h-2.7zM59.8 544.3h2.7v1.32h-2.7zM83.4 544.3h2.7v1.32h-2.7zM99.1 544.3h2.7v1.32h-2.7zM117.4 544.3h2.7v1.32h-2.7zM133.1 544.3h7.9v1.32h-7.9zM146.2 544.3h7.9v1.32h-7.9zM172.3 544.3h2.7v1.32h-2.7zM177.5 544.3h2.7v1.32h-2.7zM185.4 544.3h2.7v1.32h-2.7zM117.4 543.0h5.3v1.32h-5.3zM127.8 543.0h5.3v1.32h-5.3zM135.7 543.0h2.7v1.32h-2.7zM148.8 543.0h2.7v1.32h-2.7zM154.0 543.0h2.7v1.32h-2.7zM164.5 543.0h7.9v1.32h-7.9zM177.5 543.0h2.7v1.32h-2.7zM182.8 543.0h2.7v1.32h-2.7zM120.0 541.8h2.7v1.32h-2.7zM127.8 541.8h2.7v1.32h-2.7zM138.3 541.8h2.7v1.32h-2.7zM143.5 541.8h2.7v1.32h-2.7zM169.7 541.8h2.7v1.32h-2.7zM177.5 541.8h2.7v1.32h-2.7zM54.6 540.5h2.7v1.32h-2.7zM140.9 540.5h7.9v1.32h-7.9zM151.4 540.5h2.7v1.32h-2.7zM164.5 540.5h7.9v1.32h-7.9zM70.3 539.2h5.3v1.32h-5.3zM99.1 539.2h2.7v1.32h-2.7zM112.2 539.2h7.9v1.32h-7.9zM130.5 539.2h2.7v1.32h-2.7zM135.7 539.2h7.9v1.32h-7.9zM167.1 539.2h2.7v1.32h-2.7zM177.5 539.2h10.5v1.32h-10.5zM78.2 537.9h2.7v1.32h-2.7zM112.2 537.9h2.7v1.32h-2.7zM117.4 537.9h2.7v1.32h-2.7zM127.8 537.9h2.7v1.32h-2.7zM133.1 537.9h2.7v1.32h-2.7zM161.8 537.9h2.7v1.32h-2.7zM172.3 537.9h2.7v1.32h-2.7zM182.8 537.9h2.7v1.32h-2.7zM88.6 536.7h2.7v1.32h-2.7zM104.3 536.7h2.7v1.32h-2.7zM109.5 536.7h2.7v1.32h-2.7zM140.9 536.7h5.3v1.32h-5.3zM148.8 536.7h2.7v1.32h-2.7zM161.8 536.7h2.7v1.32h-2.7zM182.8 536.7h2.7v1.32h-2.7zM112.2 535.4h2.7v1.32h-2.7zM159.2 535.4h2.7v1.32h-2.7zM59.8 534.1h2.7v1.32h-2.7zM91.2 534.1h2.7v1.32h-2.7zM127.8 534.1h2.7v1.32h-2.7zM135.7 534.1h2.7v1.32h-2.7zM143.5 534.1h2.7v1.32h-2.7zM156.6 534.1h2.7v1.32h-2.7zM172.3 534.1h2.7v1.32h-2.7zM180.2 534.1h2.7v1.32h-2.7zM62.5 532.8h5.3v1.32h-5.3zM72.9 532.8h2.7v1.32h-2.7zM117.4 532.8h2.7v1.32h-2.7zM135.7 532.8h2.7v1.32h-2.7zM146.2 532.8h2.7v1.32h-2.7zM172.3 532.8h2.7v1.32h-2.7zM177.5 532.8h5.3v1.32h-5.3zM185.4 532.8h2.7v1.32h-2.7zM78.2 531.6h2.7v1.32h-2.7zM125.2 531.6h2.7v1.32h-2.7zM146.2 531.6h2.7v1.32h-2.7zM161.8 531.6h2.7v1.32h-2.7zM169.7 531.6h2.7v1.32h-2.7zM177.5 531.6h2.7v1.32h-2.7zM182.8 531.6h2.7v1.32h-2.7zM65.1 530.3h2.7v1.32h-2.7zM114.8 530.3h2.7v1.32h-2.7zM135.7 530.3h2.7v1.32h-2.7zM140.9 530.3h2.7v1.32h-2.7zM148.8 530.3h2.7v1.32h-2.7zM154.0 530.3h2.7v1.32h-2.7zM164.5 530.3h2.7v1.32h-2.7zM172.3 530.3h2.7v1.32h-2.7zM182.8 530.3h2.7v1.32h-2.7zM117.4 529.0h2.7v1.32h-2.7zM122.6 529.0h5.3v1.32h-5.3zM130.5 529.0h2.7v1.32h-2.7zM140.9 529.0h5.3v1.32h-5.3zM156.6 529.0h2.7v1.32h-2.7zM161.8 529.0h2.7v1.32h-2.7zM172.3 529.0h5.3v1.32h-5.3zM182.8 529.0h2.7v1.32h-2.7zM86.0 527.8h2.7v1.32h-2.7zM104.3 527.8h2.7v1.32h-2.7zM125.2 527.8h5.3v1.32h-5.3zM133.1 527.8h5.3v1.32h-5.3zM148.8 527.8h2.7v1.32h-2.7zM156.6 527.8h5.3v1.32h-5.3zM172.3 527.8h5.3v1.32h-5.3zM182.8 527.8h5.3v1.32h-5.3zM117.4 526.5h2.7v1.32h-2.7zM127.8 526.5h2.7v1.32h-2.7zM133.1 526.5h2.7v1.32h-2.7zM140.9 526.5h2.7v1.32h-2.7zM151.4 526.5h2.7v1.32h-2.7zM167.1 526.5h2.7v1.32h-2.7zM122.6 525.2h2.7v1.32h-2.7zM135.7 525.2h7.9v1.32h-7.9zM148.8 525.2h2.7v1.32h-2.7zM156.6 525.2h2.7v1.32h-2.7zM62.5 523.9h2.7v1.32h-2.7zM80.8 523.9h2.7v1.32h-2.7zM109.5 523.9h2.7v1.32h-2.7zM114.8 523.9h2.7v1.32h-2.7zM133.1 523.9h2.7v1.32h-2.7zM140.9 523.9h2.7v1.32h-2.7zM159.2 523.9h2.7v1.32h-2.7zM177.5 523.9h2.7v1.32h-2.7zM62.5 522.6h2.7v1.32h-2.7zM112.2 522.6h2.7v1.32h-2.7zM159.2 522.6h5.3v1.32h-5.3zM180.2 522.6h2.7v1.32h-2.7zM67.7 521.4h2.7v1.32h-2.7zM75.5 521.4h2.7v1.32h-2.7zM133.1 521.4h2.7v1.32h-2.7zM143.5 521.4h2.7v1.32h-2.7zM161.8 521.4h2.7v1.32h-2.7zM169.7 521.4h2.7v1.32h-2.7zM65.1 520.1h2.7v1.32h-2.7zM80.8 520.1h2.7v1.32h-2.7zM112.2 520.1h2.7v1.32h-2.7zM122.6 520.1h2.7v1.32h-2.7zM148.8 520.1h2.7v1.32h-2.7zM159.2 520.1h2.7v1.32h-2.7zM174.9 520.1h2.7v1.32h-2.7zM67.7 518.8h5.3v1.32h-5.3zM88.6 518.8h2.7v1.32h-2.7zM104.3 518.8h2.7v1.32h-2.7zM112.2 518.8h2.7v1.32h-2.7zM120.0 518.8h5.3v1.32h-5.3zM127.8 518.8h2.7v1.32h-2.7zM159.2 518.8h2.7v1.32h-2.7zM174.9 518.8h2.7v1.32h-2.7zM72.9 517.5h2.7v1.32h-2.7zM112.2 517.5h2.7v1.32h-2.7zM127.8 517.5h2.7v1.32h-2.7zM143.5 517.5h5.3v1.32h-5.3zM169.7 517.5h5.3v1.32h-5.3zM72.9 516.3h2.7v1.32h-2.7zM130.5 516.3h2.7v1.32h-2.7zM146.2 516.3h2.7v1.32h-2.7zM151.4 516.3h2.7v1.32h-2.7zM174.9 516.3h2.7v1.32h-2.7zM182.8 516.3h2.7v1.32h-2.7zM117.4 515.0h2.7v1.32h-2.7zM127.8 515.0h2.7v1.32h-2.7zM135.7 515.0h2.7v1.32h-2.7zM146.2 515.0h2.7v1.32h-2.7zM182.8 515.0h2.7v1.32h-2.7zM72.9 513.7h2.7v1.32h-2.7zM101.7 513.7h2.7v1.32h-2.7zM112.2 513.7h5.3v1.32h-5.3zM120.0 513.7h7.9v1.32h-7.9zM151.4 513.7h2.7v1.32h-2.7zM164.5 513.7h5.3v1.32h-5.3zM86.0 512.4h2.7v1.32h-2.7zM93.8 512.4h2.7v1.32h-2.7zM106.9 512.4h2.7v1.32h-2.7zM117.4 512.4h2.7v1.32h-2.7zM122.6 512.4h2.7v1.32h-2.7zM138.3 512.4h2.7v1.32h-2.7zM148.8 512.4h2.7v1.32h-2.7zM159.2 512.4h2.7v1.32h-2.7zM185.4 512.4h2.7v1.32h-2.7zM65.1 511.2h2.7v1.32h-2.7zM88.6 511.2h2.7v1.32h-2.7zM104.3 511.2h2.7v1.32h-2.7zM117.4 511.2h2.7v1.32h-2.7zM130.5 511.2h2.7v1.32h-2.7zM143.5 511.2h2.7v1.32h-2.7zM164.5 511.2h2.7v1.32h-2.7zM169.7 511.2h2.7v1.32h-2.7zM182.8 511.2h5.3v1.32h-5.3zM83.4 509.9h2.7v1.32h-2.7zM125.2 509.9h2.7v1.32h-2.7zM143.5 509.9h2.7v1.32h-2.7zM148.8 509.9h2.7v1.32h-2.7zM164.5 509.9h2.7v1.32h-2.7zM172.3 509.9h2.7v1.32h-2.7zM180.2 509.9h2.7v1.32h-2.7zM93.8 508.6h2.7v1.32h-2.7zM101.7 508.6h2.7v1.32h-2.7zM140.9 508.6h2.7v1.32h-2.7zM146.2 508.6h5.3v1.32h-5.3zM161.8 508.6h2.7v1.32h-2.7zM93.8 507.3h2.7v1.32h-2.7zM99.1 507.3h2.7v1.32h-2.7zM109.5 507.3h2.7v1.32h-2.7zM117.4 507.3h5.3v1.32h-5.3zM167.1 507.3h2.7v1.32h-2.7zM172.3 507.3h2.7v1.32h-2.7zM62.5 506.1h2.7v1.32h-2.7zM104.3 506.1h2.7v1.32h-2.7zM127.8 506.1h2.7v1.32h-2.7zM146.2 506.1h2.7v1.32h-2.7zM151.4 506.1h5.3v1.32h-5.3zM159.2 506.1h2.7v1.32h-2.7zM169.7 506.1h5.3v1.32h-5.3zM104.3 504.8h2.7v1.32h-2.7zM122.6 504.8h2.7v1.32h-2.7zM130.5 504.8h2.7v1.32h-2.7zM117.4 503.5h2.7v1.32h-2.7zM133.1 503.5h5.3v1.32h-5.3zM146.2 503.5h5.3v1.32h-5.3zM174.9 503.5h2.7v1.32h-2.7zM182.8 503.5h2.7v1.32h-2.7zM70.3 502.2h2.7v1.32h-2.7zM117.4 502.2h5.3v1.32h-5.3zM127.8 502.2h2.7v1.32h-2.7zM133.1 502.2h2.7v1.32h-2.7zM138.3 502.2h2.7v1.32h-2.7zM159.2 502.2h2.7v1.32h-2.7zM172.3 502.2h2.7v1.32h-2.7zM180.2 502.2h7.9v1.32h-7.9zM127.8 501.0h2.7v1.32h-2.7zM133.1 501.0h2.7v1.32h-2.7zM159.2 501.0h2.7v1.32h-2.7zM177.5 501.0h5.3v1.32h-5.3zM185.4 501.0h2.7v1.32h-2.7zM109.5 499.7h2.7v1.32h-2.7zM117.4 499.7h2.7v1.32h-2.7zM148.8 499.7h2.7v1.32h-2.7zM172.3 499.7h2.7v1.32h-2.7zM180.2 499.7h2.7v1.32h-2.7zM185.4 499.7h2.7v1.32h-2.7zM80.8 498.4h2.7v1.32h-2.7zM93.8 498.4h2.7v1.32h-2.7zM120.0 498.4h2.7v1.32h-2.7zM127.8 498.4h2.7v1.32h-2.7zM161.8 498.4h2.7v1.32h-2.7zM167.1 498.4h5.3v1.32h-5.3zM174.9 498.4h2.7v1.32h-2.7zM182.8 498.4h2.7v1.32h-2.7zM67.7 497.1h2.7v1.32h-2.7zM72.9 497.1h2.7v1.32h-2.7zM101.7 497.1h2.7v1.32h-2.7zM106.9 497.1h2.7v1.32h-2.7zM117.4 497.1h2.7v1.32h-2.7zM133.1 497.1h2.7v1.32h-2.7zM146.2 497.1h2.7v1.32h-2.7zM151.4 497.1h2.7v1.32h-2.7zM88.6 495.9h2.7v1.32h-2.7zM120.0 495.9h2.7v1.32h-2.7zM133.1 495.9h5.3v1.32h-5.3zM151.4 495.9h2.7v1.32h-2.7zM172.3 495.9h5.3v1.32h-5.3zM78.2 494.6h5.3v1.32h-5.3zM117.4 494.6h2.7v1.32h-2.7zM122.6 494.6h2.7v1.32h-2.7zM146.2 494.6h2.7v1.32h-2.7zM156.6 494.6h2.7v1.32h-2.7zM54.6 493.3h2.7v1.32h-2.7zM67.7 493.3h5.3v1.32h-5.3zM112.2 493.3h2.7v1.32h-2.7zM130.5 493.3h2.7v1.32h-2.7zM146.2 493.3h2.7v1.32h-2.7zM154.0 493.3h2.7v1.32h-2.7zM167.1 493.3h2.7v1.32h-2.7zM174.9 493.3h2.7v1.32h-2.7zM180.2 493.3h2.7v1.32h-2.7zM185.4 493.3h2.7v1.32h-2.7zM78.2 492.0h2.7v1.32h-2.7zM91.2 492.0h2.7v1.32h-2.7zM133.1 492.0h5.3v1.32h-5.3zM174.9 492.0h2.7v1.32h-2.7zM180.2 492.0h2.7v1.32h-2.7zM106.9 490.8h2.7v1.32h-2.7zM120.0 490.8h2.7v1.32h-2.7zM104.3 489.5h2.7v1.32h-2.7zM120.0 489.5h2.7v1.32h-2.7zM148.8 489.5h2.7v1.32h-2.7zM167.1 489.5h2.7v1.32h-2.7zM174.9 489.5h2.7v1.32h-2.7zM182.8 489.5h2.7v1.32h-2.7zM59.8 488.2h2.7v1.32h-2.7zM93.8 488.2h2.7v1.32h-2.7zM99.1 488.2h2.7v1.32h-2.7zM117.4 488.2h5.3v1.32h-5.3zM127.8 488.2h2.7v1.32h-2.7zM154.0 488.2h2.7v1.32h-2.7zM161.8 488.2h2.7v1.32h-2.7zM169.7 488.2h2.7v1.32h-2.7zM174.9 488.2h2.7v1.32h-2.7zM96.5 486.9h2.7v1.32h-2.7zM106.9 486.9h2.7v1.32h-2.7zM120.0 486.9h2.7v1.32h-2.7zM156.6 486.9h2.7v1.32h-2.7zM161.8 486.9h2.7v1.32h-2.7zM167.1 486.9h2.7v1.32h-2.7zM83.4 485.7h2.7v1.32h-2.7zM114.8 485.7h2.7v1.32h-2.7zM120.0 485.7h2.7v1.32h-2.7zM125.2 485.7h2.7v1.32h-2.7zM135.7 485.7h5.3v1.32h-5.3zM143.5 485.7h2.7v1.32h-2.7zM148.8 485.7h7.9v1.32h-7.9zM164.5 485.7h2.7v1.32h-2.7zM182.8 485.7h2.7v1.32h-2.7zM62.5 484.4h2.7v1.32h-2.7zM117.4 484.4h2.7v1.32h-2.7zM122.6 484.4h2.7v1.32h-2.7zM127.8 484.4h5.3v1.32h-5.3zM138.3 484.4h10.5v1.32h-10.5zM151.4 484.4h2.7v1.32h-2.7zM185.4 484.4h2.7v1.32h-2.7zM88.6 483.1h2.7v1.32h-2.7zM112.2 483.1h2.7v1.32h-2.7zM117.4 483.1h5.3v1.32h-5.3zM127.8 483.1h5.3v1.32h-5.3zM154.0 483.1h2.7v1.32h-2.7zM169.7 483.1h2.7v1.32h-2.7zM174.9 483.1h2.7v1.32h-2.7zM62.5 481.8h2.7v1.32h-2.7zM109.5 481.8h2.7v1.32h-2.7zM120.0 481.8h2.7v1.32h-2.7zM127.8 481.8h7.9v1.32h-7.9zM146.2 481.8h2.7v1.32h-2.7zM156.6 481.8h2.7v1.32h-2.7zM164.5 481.8h2.7v1.32h-2.7zM174.9 481.8h2.7v1.32h-2.7zM75.5 480.6h2.7v1.32h-2.7zM86.0 480.6h2.7v1.32h-2.7zM91.2 480.6h2.7v1.32h-2.7zM106.9 480.6h2.7v1.32h-2.7zM130.5 480.6h2.7v1.32h-2.7zM135.7 480.6h2.7v1.32h-2.7zM148.8 480.6h2.7v1.32h-2.7zM154.0 480.6h7.9v1.32h-7.9zM167.1 480.6h2.7v1.32h-2.7zM109.5 479.3h2.7v1.32h-2.7zM156.6 479.3h2.7v1.32h-2.7zM169.7 479.3h5.3v1.32h-5.3zM177.5 479.3h2.7v1.32h-2.7zM112.2 478.0h5.3v1.32h-5.3zM130.5 478.0h2.7v1.32h-2.7zM151.4 478.0h2.7v1.32h-2.7zM156.6 478.0h5.3v1.32h-5.3zM172.3 478.0h5.3v1.32h-5.3zM114.8 476.7h2.7v1.32h-2.7zM125.2 476.7h2.7v1.32h-2.7zM130.5 476.7h2.7v1.32h-2.7zM140.9 476.7h2.7v1.32h-2.7zM106.9 475.5h5.3v1.32h-5.3zM114.8 475.5h2.7v1.32h-2.7zM122.6 475.5h2.7v1.32h-2.7zM143.5 475.5h2.7v1.32h-2.7zM169.7 475.5h5.3v1.32h-5.3zM182.8 475.5h2.7v1.32h-2.7zM70.3 474.2h2.7v1.32h-2.7zM104.3 474.2h2.7v1.32h-2.7zM125.2 474.2h5.3v1.32h-5.3zM133.1 474.2h5.3v1.32h-5.3zM143.5 474.2h2.7v1.32h-2.7zM154.0 474.2h2.7v1.32h-2.7zM167.1 474.2h2.7v1.32h-2.7zM172.3 474.2h2.7v1.32h-2.7zM182.8 474.2h2.7v1.32h-2.7zM72.9 472.9h2.7v1.32h-2.7zM86.0 472.9h2.7v1.32h-2.7zM104.3 472.9h2.7v1.32h-2.7zM135.7 472.9h2.7v1.32h-2.7zM146.2 472.9h2.7v1.32h-2.7zM164.5 472.9h2.7v1.32h-2.7zM140.9 471.6h2.7v1.32h-2.7zM146.2 471.6h2.7v1.32h-2.7zM161.8 471.6h2.7v1.32h-2.7zM167.1 471.6h2.7v1.32h-2.7zM172.3 471.6h2.7v1.32h-2.7zM109.5 470.4h2.7v1.32h-2.7zM117.4 470.4h10.5v1.32h-10.5zM154.0 470.4h2.7v1.32h-2.7zM185.4 470.4h2.7v1.32h-2.7zM114.8 469.1h2.7v1.32h-2.7zM127.8 469.1h2.7v1.32h-2.7zM138.3 469.1h2.7v1.32h-2.7zM156.6 469.1h2.7v1.32h-2.7zM164.5 469.1h2.7v1.32h-2.7zM172.3 469.1h2.7v1.32h-2.7zM185.4 469.1h2.7v1.32h-2.7zM120.0 467.8h2.7v1.32h-2.7zM133.1 467.8h2.7v1.32h-2.7zM138.3 467.8h2.7v1.32h-2.7zM143.5 467.8h5.3v1.32h-5.3zM154.0 467.8h5.3v1.32h-5.3zM161.8 467.8h2.7v1.32h-2.7zM172.3 467.8h2.7v1.32h-2.7zM83.4 466.5h2.7v1.32h-2.7zM96.5 466.5h2.7v1.32h-2.7zM125.2 466.5h2.7v1.32h-2.7zM143.5 466.5h5.3v1.32h-5.3zM151.4 466.5h2.7v1.32h-2.7zM159.2 466.5h15.7v1.32h-15.7zM185.4 466.5h2.7v1.32h-2.7zM106.9 465.3h2.7v1.32h-2.7zM117.4 465.3h5.3v1.32h-5.3zM133.1 465.3h5.3v1.32h-5.3zM159.2 465.3h2.7v1.32h-2.7zM164.5 465.3h2.7v1.32h-2.7zM169.7 465.3h5.3v1.32h-5.3zM59.8 464.0h2.7v1.32h-2.7zM127.8 464.0h2.7v1.32h-2.7zM138.3 464.0h2.7v1.32h-2.7zM143.5 464.0h2.7v1.32h-2.7zM159.2 464.0h2.7v1.32h-2.7zM167.1 464.0h5.3v1.32h-5.3zM180.2 464.0h5.3v1.32h-5.3zM109.5 462.7h2.7v1.32h-2.7zM143.5 462.7h5.3v1.32h-5.3zM172.3 462.7h2.7v1.32h-2.7zM182.8 462.7h2.7v1.32h-2.7zM117.4 461.4h2.7v1.32h-2.7zM125.2 461.4h2.7v1.32h-2.7zM133.1 461.4h2.7v1.32h-2.7zM146.2 461.4h2.7v1.32h-2.7zM169.7 461.4h2.7v1.32h-2.7zM117.4 460.2h2.7v1.32h-2.7zM135.7 460.2h2.7v1.32h-2.7zM140.9 460.2h2.7v1.32h-2.7zM161.8 460.2h5.3v1.32h-5.3zM59.8 458.9h2.7v1.32h-2.7zM127.8 458.9h2.7v1.32h-2.7zM140.9 458.9h2.7v1.32h-2.7zM154.0 458.9h7.9v1.32h-7.9zM177.5 458.9h2.7v1.32h-2.7zM91.2 457.6h2.7v1.32h-2.7zM135.7 457.6h2.7v1.32h-2.7zM146.2 457.6h5.3v1.32h-5.3zM154.0 457.6h2.7v1.32h-2.7zM159.2 457.6h5.3v1.32h-5.3zM167.1 457.6h2.7v1.32h-2.7zM172.3 457.6h2.7v1.32h-2.7zM185.4 457.6h2.7v1.32h-2.7zM117.4 456.3h2.7v1.32h-2.7zM135.7 456.3h2.7v1.32h-2.7zM130.5 455.1h2.7v1.32h-2.7zM151.4 455.1h2.7v1.32h-2.7zM161.8 455.1h7.9v1.32h-7.9z" fill="#75ff00"/>
<path d="M96.5 554.5h2.7v1.32h-2.7zM101.7 554.5h2.7v1.32h-2.7zM138.3 554.5h5.3v1.32h-5.3zM161.8 554.5h2.7v1.32h-2.7zM174.9 554.5h2.7v1.32h-2.7zM125.2 553.2h2.7v1.32h-2.7zM138.3 553.2h2.7v1.32h-2.7zM151.4 553.2h2.7v1.32h-2.7zM172.3 553.2h2.7v1.32h-2.7zM93.8 552.0h2.7v1.32h-2.7zM133.1 552.0h2.7v1.32h-2.7zM140.9 552.0h2.7v1.32h-2.7zM151.4 552.0h2.7v1.32h-2.7zM180.2 552.0h2.7v1.32h-2.7zM164.5 550.7h2.7v1.32h-2.7zM177.5 550.7h2.7v1.32h-2.7zM185.4 550.7h2.7v1.32h-2.7zM117.4 549.4h2.7v1.32h-2.7zM127.8 549.4h2.7v1.32h-2.7zM148.8 549.4h2.7v1.32h-2.7zM159.2 549.4h2.7v1.32h-2.7zM146.2 548.1h5.3v1.32h-5.3zM172.3 548.1h5.3v1.32h-5.3zM180.2 548.1h2.7v1.32h-2.7zM135.7 546.9h2.7v1.32h-2.7zM161.8 546.9h2.7v1.32h-2.7zM180.2 546.9h2.7v1.32h-2.7zM138.3 545.6h13.1v1.32h-13.1zM169.7 545.6h5.3v1.32h-5.3zM177.5 545.6h2.7v1.32h-2.7zM130.5 544.3h2.7v1.32h-2.7zM156.6 544.3h2.7v1.32h-2.7zM161.8 544.3h5.3v1.32h-5.3zM72.9 543.0h2.7v1.32h-2.7zM146.2 543.0h2.7v1.32h-2.7zM151.4 543.0h2.7v1.32h-2.7zM161.8 543.0h2.7v1.32h-2.7zM185.4 543.0h2.7v1.32h-2.7zM130.5 541.8h5.3v1.32h-5.3zM148.8 541.8h2.7v1.32h-2.7zM154.0 541.8h2.7v1.32h-2.7zM161.8 541.8h2.7v1.32h-2.7zM182.8 541.8h5.3v1.32h-5.3zM159.2 540.5h5.3v1.32h-5.3zM172.3 540.5h2.7v1.32h-2.7zM177.5 540.5h2.7v1.32h-2.7zM154.0 539.2h2.7v1.32h-2.7zM161.8 539.2h2.7v1.32h-2.7zM172.3 539.2h2.7v1.32h-2.7zM120.0 537.9h7.9v1.32h-7.9zM130.5 537.9h2.7v1.32h-2.7zM167.1 537.9h2.7v1.32h-2.7zM180.2 537.9h2.7v1.32h-2.7zM80.8 536.7h2.7v1.32h-2.7zM125.2 536.7h2.7v1.32h-2.7zM156.6 536.7h2.7v1.32h-2.7zM174.9 536.7h2.7v1.32h-2.7zM114.8 535.4h2.7v1.32h-2.7zM122.6 535.4h2.7v1.32h-2.7zM138.3 535.4h2.7v1.32h-2.7zM151.4 535.4h2.7v1.32h-2.7zM180.2 535.4h2.7v1.32h-2.7zM120.0 534.1h2.7v1.32h-2.7zM130.5 534.1h2.7v1.32h-2.7zM151.4 534.1h5.3v1.32h-5.3zM164.5 534.1h7.9v1.32h-7.9zM151.4 532.8h2.7v1.32h-2.7zM156.6 532.8h2.7v1.32h-2.7zM161.8 532.8h10.5v1.32h-10.5zM117.4 531.6h5.3v1.32h-5.3zM156.6 531.6h2.7v1.32h-2.7zM172.3 531.6h2.7v1.32h-2.7zM185.4 531.6h2.7v1.32h-2.7zM167.1 530.3h2.7v1.32h-2.7zM177.5 530.3h5.3v1.32h-5.3zM185.4 530.3h2.7v1.32h-2.7zM146.2 529.0h2.7v1.32h-2.7zM154.0 529.0h2.7v1.32h-2.7zM164.5 529.0h2.7v1.32h-2.7zM177.5 529.0h2.7v1.32h-2.7zM109.5 527.8h2.7v1.32h-2.7zM120.0 527.8h2.7v1.32h-2.7zM143.5 527.8h5.3v1.32h-5.3zM167.1 527.8h2.7v1.32h-2.7zM112.2 526.5h2.7v1.32h-2.7zM135.7 526.5h5.3v1.32h-5.3zM146.2 526.5h5.3v1.32h-5.3zM169.7 526.5h2.7v1.32h-2.7zM125.2 525.2h2.7v1.32h-2.7zM154.0 525.2h2.7v1.32h-2.7zM174.9 525.2h2.7v1.32h-2.7zM117.4 523.9h5.3v1.32h-5.3zM135.7 523.9h2.7v1.32h-2.7zM143.5 523.9h5.3v1.32h-5.3zM169.7 523.9h2.7v1.32h-2.7zM180.2 523.9h5.3v1.32h-5.3zM122.6 522.6h5.3v1.32h-5.3zM138.3 522.6h2.7v1.32h-2.7zM143.5 522.6h2.7v1.32h-2.7zM169.7 522.6h7.9v1.32h-7.9zM120.0 521.4h2.7v1.32h-2.7zM127.8 521.4h2.7v1.32h-2.7zM135.7 521.4h2.7v1.32h-2.7zM140.9 521.4h2.7v1.32h-2.7zM146.2 521.4h2.7v1.32h-2.7zM151.4 521.4h5.3v1.32h-5.3zM104.3 520.1h2.7v1.32h-2.7zM133.1 520.1h5.3v1.32h-5.3zM140.9 520.1h2.7v1.32h-2.7zM156.6 520.1h2.7v1.32h-2.7zM161.8 520.1h2.7v1.32h-2.7zM169.7 520.1h2.7v1.32h-2.7zM130.5 518.8h2.7v1.32h-2.7zM140.9 518.8h5.3v1.32h-5.3zM154.0 518.8h2.7v1.32h-2.7zM169.7 518.8h2.7v1.32h-2.7zM185.4 518.8h2.7v1.32h-2.7zM104.3 517.5h2.7v1.32h-2.7zM114.8 517.5h2.7v1.32h-2.7zM125.2 517.5h2.7v1.32h-2.7zM133.1 517.5h2.7v1.32h-2.7zM156.6 517.5h2.7v1.32h-2.7zM167.1 517.5h2.7v1.32h-2.7zM174.9 517.5h2.7v1.32h-2.7zM180.2 517.5h2.7v1.32h-2.7zM135.7 516.3h5.3v1.32h-5.3zM143.5 516.3h2.7v1.32h-2.7zM154.0 516.3h2.7v1.32h-2.7zM180.2 516.3h2.7v1.32h-2.7zM109.5 515.0h2.7v1.32h-2.7zM120.0 515.0h2.7v1.32h-2.7zM125.2 515.0h2.7v1.32h-2.7zM138.3 515.0h2.7v1.32h-2.7zM148.8 515.0h2.7v1.32h-2.7zM154.0 515.0h2.7v1.32h-2.7zM159.2 515.0h5.3v1.32h-5.3zM169.7 515.0h5.3v1.32h-5.3zM185.4 515.0h2.7v1.32h-2.7zM130.5 513.7h5.3v1.32h-5.3zM140.9 513.7h2.7v1.32h-2.7zM146.2 513.7h5.3v1.32h-5.3zM161.8 513.7h2.7v1.32h-2.7zM182.8 513.7h2.7v1.32h-2.7zM133.1 512.4h2.7v1.32h-2.7zM140.9 512.4h5.3v1.32h-5.3zM154.0 512.4h5.3v1.32h-5.3zM174.9 512.4h2.7v1.32h-2.7zM180.2 512.4h2.7v1.32h-2.7zM96.5 511.2h2.7v1.32h-2.7zM122.6 511.2h2.7v1.32h-2.7zM138.3 511.2h2.7v1.32h-2.7zM151.4 511.2h2.7v1.32h-2.7zM167.1 511.2h2.7v1.32h-2.7zM177.5 511.2h5.3v1.32h-5.3zM135.7 509.9h5.3v1.32h-5.3zM146.2 509.9h2.7v1.32h-2.7zM151.4 509.9h2.7v1.32h-2.7zM159.2 509.9h2.7v1.32h-2.7zM167.1 509.9h2.7v1.32h-2.7zM174.9 509.9h5.3v1.32h-5.3zM72.9 508.6h2.7v1.32h-2.7zM122.6 508.6h5.3v1.32h-5.3zM143.5 508.6h2.7v1.32h-2.7zM180.2 508.6h2.7v1.32h-2.7zM114.8 507.3h2.7v1.32h-2.7zM133.1 507.3h2.7v1.32h-2.7zM140.9 507.3h2.7v1.32h-2.7zM146.2 507.3h2.7v1.32h-2.7zM151.4 507.3h5.3v1.32h-5.3zM177.5 507.3h2.7v1.32h-2.7zM101.7 506.1h2.7v1.32h-2.7zM138.3 506.1h2.7v1.32h-2.7zM143.5 506.1h2.7v1.32h-2.7zM148.8 506.1h2.7v1.32h-2.7zM156.6 506.1h2.7v1.32h-2.7zM161.8 506.1h5.3v1.32h-5.3zM177.5 506.1h5.3v1.32h-5.3zM185.4 506.1h2.7v1.32h-2.7zM133.1 504.8h2.7v1.32h-2.7zM143.5 504.8h2.7v1.32h-2.7zM148.8 504.8h2.7v1.32h-2.7zM156.6 504.8h2.7v1.32h-2.7zM167.1 504.8h7.9v1.32h-7.9zM177.5 504.8h7.9v1.32h-7.9zM127.8 503.5h5.3v1.32h-5.3zM143.5 503.5h2.7v1.32h-2.7zM167.1 503.5h2.7v1.32h-2.7zM172.3 503.5h2.7v1.32h-2.7zM180.2 503.5h2.7v1.32h-2.7zM125.2 502.2h2.7v1.32h-2.7zM140.9 502.2h2.7v1.32h-2.7zM164.5 502.2h2.7v1.32h-2.7zM169.7 502.2h2.7v1.32h-2.7zM122.6 501.0h2.7v1.32h-2.7zM135.7 501.0h2.7v1.32h-2.7zM143.5 501.0h5.3v1.32h-5.3zM167.1 501.0h2.7v1.32h-2.7zM174.9 501.0h2.7v1.32h-2.7zM122.6 499.7h2.7v1.32h-2.7zM140.9 499.7h5.3v1.32h-5.3zM151.4 499.7h2.7v1.32h-2.7zM159.2 499.7h2.7v1.32h-2.7zM177.5 499.7h2.7v1.32h-2.7zM182.8 499.7h2.7v1.32h-2.7zM125.2 498.4h2.7v1.32h-2.7zM135.7 498.4h7.9v1.32h-7.9zM159.2 498.4h2.7v1.32h-2.7zM180.2 498.4h2.7v1.32h-2.7zM185.4 498.4h2.7v1.32h-2.7zM104.3 497.1h2.7v1.32h-2.7zM122.6 497.1h2.7v1.32h-2.7zM127.8 497.1h2.7v1.32h-2.7zM122.6 495.9h2.7v1.32h-2.7zM146.2 495.9h5.3v1.32h-5.3zM159.2 495.9h5.3v1.32h-5.3zM167.1 495.9h2.7v1.32h-2.7zM182.8 495.9h5.3v1.32h-5.3zM143.5 494.6h2.7v1.32h-2.7zM151.4 494.6h5.3v1.32h-5.3zM164.5 494.6h2.7v1.32h-2.7zM177.5 494.6h5.3v1.32h-5.3zM101.7 493.3h2.7v1.32h-2.7zM135.7 493.3h2.7v1.32h-2.7zM140.9 493.3h2.7v1.32h-2.7zM143.5 492.0h2.7v1.32h-2.7zM148.8 492.0h2.7v1.32h-2.7zM172.3 492.0h2.7v1.32h-2.7zM93.8 490.8h2.7v1.32h-2.7zM109.5 490.8h2.7v1.32h-2.7zM127.8 490.8h5.3v1.32h-5.3zM135.7 490.8h2.7v1.32h-2.7zM154.0 490.8h2.7v1.32h-2.7zM164.5 490.8h2.7v1.32h-2.7zM169.7 490.8h5.3v1.32h-5.3zM177.5 490.8h5.3v1.32h-5.3zM106.9 489.5h2.7v1.32h-2.7zM127.8 489.5h2.7v1.32h-2.7zM133.1 489.5h2.7v1.32h-2.7zM138.3 489.5h2.7v1.32h-2.7zM154.0 489.5h2.7v1.32h-2.7zM159.2 489.5h7.9v1.32h-7.9zM169.7 489.5h5.3v1.32h-5.3zM180.2 489.5h2.7v1.32h-2.7zM88.6 488.2h2.7v1.32h-2.7zM101.7 488.2h2.7v1.32h-2.7zM106.9 488.2h2.7v1.32h-2.7zM122.6 488.2h2.7v1.32h-2.7zM159.2 488.2h2.7v1.32h-2.7zM167.1 488.2h2.7v1.32h-2.7zM182.8 488.2h2.7v1.32h-2.7zM135.7 486.9h2.7v1.32h-2.7zM140.9 486.9h2.7v1.32h-2.7zM146.2 486.9h2.7v1.32h-2.7zM159.2 486.9h2.7v1.32h-2.7zM164.5 486.9h2.7v1.32h-2.7zM180.2 486.9h2.7v1.32h-2.7zM117.4 485.7h2.7v1.32h-2.7zM127.8 485.7h2.7v1.32h-2.7zM140.9 485.7h2.7v1.32h-2.7zM146.2 485.7h2.7v1.32h-2.7zM156.6 485.7h2.7v1.32h-2.7zM169.7 485.7h5.3v1.32h-5.3zM101.7 484.4h2.7v1.32h-2.7zM133.1 484.4h5.3v1.32h-5.3zM154.0 484.4h2.7v1.32h-2.7zM161.8 484.4h5.3v1.32h-5.3zM169.7 484.4h5.3v1.32h-5.3zM135.7 483.1h2.7v1.32h-2.7zM151.4 483.1h2.7v1.32h-2.7zM156.6 483.1h5.3v1.32h-5.3zM164.5 483.1h5.3v1.32h-5.3zM172.3 483.1h2.7v1.32h-2.7zM177.5 483.1h5.3v1.32h-5.3zM185.4 483.1h2.7v1.32h-2.7zM96.5 481.8h2.7v1.32h-2.7zM112.2 481.8h2.7v1.32h-2.7zM125.2 481.8h2.7v1.32h-2.7zM140.9 481.8h5.3v1.32h-5.3zM169.7 481.8h2.7v1.32h-2.7zM180.2 481.8h7.9v1.32h-7.9zM101.7 480.6h2.7v1.32h-2.7zM138.3 480.6h2.7v1.32h-2.7zM151.4 480.6h2.7v1.32h-2.7zM174.9 480.6h2.7v1.32h-2.7zM185.4 480.6h2.7v1.32h-2.7zM80.8 479.3h2.7v1.32h-2.7zM104.3 479.3h2.7v1.32h-2.7zM125.2 479.3h5.3v1.32h-5.3zM143.5 479.3h2.7v1.32h-2.7zM151.4 479.3h2.7v1.32h-2.7zM159.2 479.3h2.7v1.32h-2.7zM164.5 479.3h2.7v1.32h-2.7zM174.9 479.3h2.7v1.32h-2.7zM135.7 478.0h2.7v1.32h-2.7zM146.2 478.0h5.3v1.32h-5.3zM167.1 478.0h5.3v1.32h-5.3zM177.5 478.0h2.7v1.32h-2.7zM182.8 478.0h2.7v1.32h-2.7zM122.6 476.7h2.7v1.32h-2.7zM133.1 476.7h2.7v1.32h-2.7zM182.8 476.7h5.3v1.32h-5.3zM138.3 475.5h2.7v1.32h-2.7zM146.2 475.5h5.3v1.32h-5.3zM164.5 475.5h2.7v1.32h-2.7zM185.4 475.5h2.7v1.32h-2.7zM146.2 474.2h2.7v1.32h-2.7zM156.6 474.2h7.9v1.32h-7.9zM174.9 474.2h2.7v1.32h-2.7zM180.2 474.2h2.7v1.32h-2.7zM117.4 472.9h2.7v1.32h-2.7zM122.6 472.9h2.7v1.32h-2.7zM151.4 472.9h2.7v1.32h-2.7zM169.7 472.9h2.7v1.32h-2.7zM182.8 472.9h2.7v1.32h-2.7zM127.8 471.6h10.5v1.32h-10.5zM148.8 471.6h2.7v1.32h-2.7zM164.5 471.6h2.7v1.32h-2.7zM174.9 471.6h2.7v1.32h-2.7zM182.8 471.6h2.7v1.32h-2.7zM127.8 470.4h2.7v1.32h-2.7zM138.3 470.4h2.7v1.32h-2.7zM143.5 470.4h2.7v1.32h-2.7zM151.4 470.4h2.7v1.32h-2.7zM156.6 470.4h2.7v1.32h-2.7zM164.5 470.4h10.5v1.32h-10.5zM180.2 470.4h2.7v1.32h-2.7zM67.7 469.1h2.7v1.32h-2.7zM133.1 469.1h2.7v1.32h-2.7zM154.0 469.1h2.7v1.32h-2.7zM174.9 469.1h5.3v1.32h-5.3zM78.2 467.8h2.7v1.32h-2.7zM122.6 467.8h2.7v1.32h-2.7zM135.7 467.8h2.7v1.32h-2.7zM156.6 466.5h2.7v1.32h-2.7zM180.2 466.5h2.7v1.32h-2.7zM146.2 465.3h2.7v1.32h-2.7zM177.5 465.3h5.3v1.32h-5.3zM117.4 464.0h2.7v1.32h-2.7zM133.1 464.0h2.7v1.32h-2.7zM140.9 464.0h2.7v1.32h-2.7zM148.8 464.0h2.7v1.32h-2.7zM156.6 464.0h2.7v1.32h-2.7zM172.3 464.0h2.7v1.32h-2.7zM140.9 462.7h2.7v1.32h-2.7zM148.8 462.7h2.7v1.32h-2.7zM161.8 462.7h5.3v1.32h-5.3zM122.6 461.4h2.7v1.32h-2.7zM130.5 461.4h2.7v1.32h-2.7zM154.0 461.4h2.7v1.32h-2.7zM167.1 461.4h2.7v1.32h-2.7zM143.5 460.2h5.3v1.32h-5.3zM151.4 460.2h5.3v1.32h-5.3zM180.2 460.2h2.7v1.32h-2.7zM133.1 458.9h2.7v1.32h-2.7zM151.4 458.9h2.7v1.32h-2.7zM161.8 458.9h2.7v1.32h-2.7zM180.2 458.9h2.7v1.32h-2.7zM133.1 457.6h2.7v1.32h-2.7zM140.9 457.6h2.7v1.32h-2.7zM180.2 457.6h2.7v1.32h-2.7zM172.3 456.3h5.3v1.32h-5.3zM182.8 456.3h2.7v1.32h-2.7zM135.7 455.1h2.7v1.32h-2.7zM159.2 455.1h2.7v1.32h-2.7zM182.8 455.1h2.7v1.32h-2.7z" fill="#b2ff00"/>
<path d="M182.8 554.5h2.7v1.32h-2.7zM122.6 553.2h2.7v1.32h-2.7zM143.5 553.2h2.7v1.32h-2.7zM154.0 553.2h2.7v1.32h-2.7zM180.2 553.2h2.7v1.32h-2.7zM169.7 552.0h2.7v1.32h-2.7zM135.7 550.7h2.7v1.32h-2.7zM148.8 550.7h2.7v1.32h-2.7zM161.8 550.7h2.7v1.32h-2.7zM174.9 550.7h2.7v1.32h-2.7zM138.3 549.4h2.7v1.32h-2.7zM156.6 549.4h2.7v1.32h-2.7zM138.3 548.1h2.7v1.32h-2.7zM125.2 545.6h2.7v1.32h-2.7zM159.2 544.3h2.7v1.32h-2.7zM169.7 544.3h2.7v1.32h-2.7zM174.9 544.3h2.7v1.32h-2.7zM156.6 543.0h2.7v1.32h-2.7zM172.3 543.0h2.7v1.32h-2.7zM159.2 541.8h2.7v1.32h-2.7zM167.1 541.8h2.7v1.32h-2.7zM180.2 541.8h2.7v1.32h-2.7zM130.5 540.5h2.7v1.32h-2.7zM146.2 539.2h2.7v1.32h-2.7zM148.8 537.9h2.7v1.32h-2.7zM154.0 537.9h2.7v1.32h-2.7zM159.2 537.9h2.7v1.32h-2.7zM169.7 537.9h2.7v1.32h-2.7zM146.2 536.7h2.7v1.32h-2.7zM180.2 536.7h2.7v1.32h-2.7zM154.0 535.4h2.7v1.32h-2.7zM164.5 535.4h2.7v1.32h-2.7zM185.4 535.4h2.7v1.32h-2.7zM138.3 534.1h5.3v1.32h-5.3zM182.8 534.1h2.7v1.32h-2.7zM120.0 532.8h2.7v1.32h-2.7zM127.8 532.8h5.3v1.32h-5.3zM138.3 532.8h2.7v1.32h-2.7zM143.5 532.8h2.7v1.32h-2.7zM174.9 532.8h2.7v1.32h-2.7zM154.0 531.6h2.7v1.32h-2.7zM127.8 530.3h2.7v1.32h-2.7zM143.5 530.3h2.7v1.32h-2.7zM151.4 530.3h2.7v1.32h-2.7zM169.7 530.3h2.7v1.32h-2.7zM138.3 529.0h2.7v1.32h-2.7zM159.2 529.0h2.7v1.32h-2.7zM180.2 529.0h2.7v1.32h-2.7zM185.4 529.0h2.7v1.32h-2.7zM122.6 527.8h2.7v1.32h-2.7zM161.8 527.8h2.7v1.32h-2.7zM154.0 526.5h2.7v1.32h-2.7zM159.2 526.5h2.7v1.32h-2.7zM172.3 526.5h2.7v1.32h-2.7zM177.5 526.5h7.9v1.32h-7.9zM127.8 525.2h2.7v1.32h-2.7zM151.4 525.2h2.7v1.32h-2.7zM159.2 525.2h2.7v1.32h-2.7zM164.5 525.2h2.7v1.32h-2.7zM169.7 525.2h5.3v1.32h-5.3zM177.5 525.2h10.5v1.32h-10.5zM122.6 523.9h2.7v1.32h-2.7zM156.6 523.9h2.7v1.32h-2.7zM161.8 523.9h2.7v1.32h-2.7zM172.3 523.9h2.7v1.32h-2.7zM135.7 522.6h2.7v1.32h-2.7zM148.8 522.6h2.7v1.32h-2.7zM156.6 522.6h2.7v1.32h-2.7zM177.5 522.6h2.7v1.32h-2.7zM182.8 522.6h5.3v1.32h-5.3zM156.6 521.4h2.7v1.32h-2.7zM164.5 521.4h2.7v1.32h-2.7zM172.3 521.4h2.7v1.32h-2.7zM180.2 521.4h2.7v1.32h-2.7zM185.4 521.4h2.7v1.32h-2.7zM127.8 520.1h2.7v1.32h-2.7zM146.2 520.1h2.7v1.32h-2.7zM151.4 520.1h2.7v1.32h-2.7zM172.3 520.1h2.7v1.32h-2.7zM177.5 520.1h5.3v1.32h-5.3zM135.7 518.8h5.3v1.32h-5.3zM151.4 518.8h2.7v1.32h-2.7zM156.6 518.8h2.7v1.32h-2.7zM164.5 518.8h2.7v1.32h-2.7zM180.2 518.8h2.7v1.32h-2.7zM130.5 517.5h2.7v1.32h-2.7zM161.8 517.5h5.3v1.32h-5.3zM177.5 517.5h2.7v1.32h-2.7zM185.4 517.5h2.7v1.32h-2.7zM140.9 516.3h2.7v1.32h-2.7zM148.8 516.3h2.7v1.32h-2.7zM156.6 516.3h5.3v1.32h-5.3zM164.5 516.3h2.7v1.32h-2.7zM172.3 516.3h2.7v1.32h-2.7zM177.5 516.3h2.7v1.32h-2.7zM112.2 515.0h2.7v1.32h-2.7zM133.1 515.0h2.7v1.32h-2.7zM140.9 515.0h5.3v1.32h-5.3zM156.6 515.0h2.7v1.32h-2.7zM164.5 515.0h2.7v1.32h-2.7zM180.2 515.0h2.7v1.32h-2.7zM143.5 513.7h2.7v1.32h-2.7zM180.2 513.7h2.7v1.32h-2.7zM130.5 512.4h2.7v1.32h-2.7zM161.8 512.4h2.7v1.32h-2.7zM167.1 512.4h5.3v1.32h-5.3zM182.8 512.4h2.7v1.32h-2.7zM120.0 511.2h2.7v1.32h-2.7zM125.2 511.2h5.3v1.32h-5.3zM159.2 511.2h2.7v1.32h-2.7zM117.4 509.9h2.7v1.32h-2.7zM133.1 509.9h2.7v1.32h-2.7zM140.9 509.9h2.7v1.32h-2.7zM156.6 509.9h2.7v1.32h-2.7zM161.8 509.9h2.7v1.32h-2.7zM169.7 509.9h2.7v1.32h-2.7zM182.8 509.9h2.7v1.32h-2.7zM120.0 508.6h2.7v1.32h-2.7zM151.4 508.6h5.3v1.32h-5.3zM164.5 508.6h2.7v1.32h-2.7zM177.5 508.6h2.7v1.32h-2.7zM185.4 508.6h2.7v1.32h-2.7zM138.3 507.3h2.7v1.32h-2.7zM143.5 507.3h2.7v1.32h-2.7zM161.8 507.3h2.7v1.32h-2.7zM169.7 507.3h2.7v1.32h-2.7zM182.8 507.3h5.3v1.32h-5.3zM130.5 506.1h5.3v1.32h-5.3zM140.9 506.1h2.7v1.32h-2.7zM159.2 504.8h7.9v1.32h-7.9zM185.4 504.8h2.7v1.32h-2.7zM112.2 503.5h2.7v1.32h-2.7zM140.9 503.5h2.7v1.32h-2.7zM161.8 503.5h2.7v1.32h-2.7zM122.6 502.2h2.7v1.32h-2.7zM156.6 502.2h2.7v1.32h-2.7zM161.8 502.2h2.7v1.32h-2.7zM78.2 501.0h2.7v1.32h-2.7zM138.3 501.0h2.7v1.32h-2.7zM154.0 501.0h5.3v1.32h-5.3zM164.5 501.0h2.7v1.32h-2.7zM75.5 499.7h2.7v1.32h-2.7zM125.2 499.7h2.7v1.32h-2.7zM133.1 499.7h2.7v1.32h-2.7zM146.2 499.7h2.7v1.32h-2.7zM154.0 499.7h5.3v1.32h-5.3zM174.9 499.7h2.7v1.32h-2.7zM143.5 498.4h2.7v1.32h-2.7zM156.6 498.4h2.7v1.32h-2.7zM140.9 497.1h2.7v1.32h-2.7zM148.8 497.1h2.7v1.32h-2.7zM159.2 497.1h2.7v1.32h-2.7zM167.1 497.1h2.7v1.32h-2.7zM182.8 497.1h5.3v1.32h-5.3zM143.5 495.9h2.7v1.32h-2.7zM156.6 495.9h2.7v1.32h-2.7zM169.7 495.9h2.7v1.32h-2.7zM133.1 494.6h2.7v1.32h-2.7zM140.9 494.6h2.7v1.32h-2.7zM159.2 494.6h5.3v1.32h-5.3zM167.1 494.6h2.7v1.32h-2.7zM172.3 494.6h5.3v1.32h-5.3zM185.4 494.6h2.7v1.32h-2.7zM125.2 493.3h2.7v1.32h-2.7zM133.1 493.3h2.7v1.32h-2.7zM143.5 493.3h2.7v1.32h-2.7zM177.5 493.3h2.7v1.32h-2.7zM114.8 492.0h2.7v1.32h-2.7zM146.2 492.0h2.7v1.32h-2.7zM151.4 492.0h2.7v1.32h-2.7zM164.5 492.0h2.7v1.32h-2.7zM169.7 492.0h2.7v1.32h-2.7zM182.8 492.0h5.3v1.32h-5.3zM138.3 490.8h2.7v1.32h-2.7zM146.2 490.8h5.3v1.32h-5.3zM156.6 490.8h2.7v1.32h-2.7zM161.8 490.8h2.7v1.32h-2.7zM174.9 490.8h2.7v1.32h-2.7zM146.2 489.5h2.7v1.32h-2.7zM156.6 489.5h2.7v1.32h-2.7zM177.5 489.5h2.7v1.32h-2.7zM91.2 488.2h2.7v1.32h-2.7zM143.5 488.2h2.7v1.32h-2.7zM151.4 488.2h2.7v1.32h-2.7zM180.2 488.2h2.7v1.32h-2.7zM125.2 486.9h2.7v1.32h-2.7zM143.5 486.9h2.7v1.32h-2.7zM148.8 486.9h7.9v1.32h-7.9zM133.1 485.7h2.7v1.32h-2.7zM159.2 485.7h5.3v1.32h-5.3zM180.2 484.4h5.3v1.32h-5.3zM140.9 483.1h2.7v1.32h-2.7zM161.8 483.1h2.7v1.32h-2.7zM182.8 483.1h2.7v1.32h-2.7zM138.3 481.8h2.7v1.32h-2.7zM151.4 481.8h5.3v1.32h-5.3zM159.2 481.8h5.3v1.32h-5.3zM167.1 481.8h2.7v1.32h-2.7zM172.3 481.8h2.7v1.32h-2.7zM177.5 481.8h2.7v1.32h-2.7zM120.0 480.6h2.7v1.32h-2.7zM164.5 480.6h2.7v1.32h-2.7zM169.7 480.6h2.7v1.32h-2.7zM177.5 480.6h7.9v1.32h-7.9zM148.8 479.3h2.7v1.32h-2.7zM161.8 479.3h2.7v1.32h-2.7zM185.4 479.3h2.7v1.32h-2.7zM138.3 478.0h7.9v1.32h-7.9zM154.0 478.0h2.7v1.32h-2.7zM180.2 478.0h2.7v1.32h-2.7zM138.3 476.7h2.7v1.32h-2.7zM151.4 476.7h2.7v1.32h-2.7zM159.2 476.7h5.3v1.32h-5.3zM172.3 476.7h5.3v1.32h-5.3zM117.4 475.5h2.7v1.32h-2.7zM125.2 475.5h2.7v1.32h-2.7zM156.6 475.5h2.7v1.32h-2.7zM180.2 475.5h2.7v1.32h-2.7zM138.3 474.2h2.7v1.32h-2.7zM148.8 474.2h2.7v1.32h-2.7zM125.2 472.9h2.7v1.32h-2.7zM138.3 472.9h2.7v1.32h-2.7zM143.5 472.9h2.7v1.32h-2.7zM159.2 472.9h2.7v1.32h-2.7zM167.1 472.9h2.7v1.32h-2.7zM172.3 472.9h2.7v1.32h-2.7zM120.0 471.6h2.7v1.32h-2.7zM143.5 471.6h2.7v1.32h-2.7zM151.4 471.6h2.7v1.32h-2.7zM177.5 471.6h5.3v1.32h-5.3zM185.4 471.6h2.7v1.32h-2.7zM112.2 470.4h2.7v1.32h-2.7zM130.5 470.4h2.7v1.32h-2.7zM140.9 470.4h2.7v1.32h-2.7zM159.2 470.4h2.7v1.32h-2.7zM182.8 470.4h2.7v1.32h-2.7zM140.9 469.1h2.7v1.32h-2.7zM146.2 469.1h2.7v1.32h-2.7zM167.1 469.1h5.3v1.32h-5.3zM159.2 467.8h2.7v1.32h-2.7zM167.1 467.8h2.7v1.32h-2.7zM185.4 467.8h2.7v1.32h-2.7zM127.8 465.3h2.7v1.32h-2.7zM138.3 465.3h2.7v1.32h-2.7zM143.5 465.3h2.7v1.32h-2.7zM135.7 464.0h2.7v1.32h-2.7zM164.5 464.0h2.7v1.32h-2.7zM177.5 464.0h2.7v1.32h-2.7zM174.9 462.7h5.3v1.32h-5.3zM143.5 461.4h2.7v1.32h-2.7zM169.7 460.2h5.3v1.32h-5.3zM182.8 460.2h5.3v1.32h-5.3zM143.5 458.9h2.7v1.32h-2.7zM169.7 458.9h2.7v1.32h-2.7zM174.9 458.9h2.7v1.32h-2.7zM182.8 458.9h2.7v1.32h-2.7zM148.8 456.3h2.7v1.32h-2.7zM161.8 456.3h2.7v1.32h-2.7zM169.7 456.3h2.7v1.32h-2.7zM143.5 455.1h2.7v1.32h-2.7zM185.4 455.1h2.7v1.32h-2.7zM180.2 453.8h2.7v1.32h-2.7z" fill="#eeff00"/>
<path d="M143.5 554.5h5.3v1.32h-5.3zM169.7 554.5h2.7v1.32h-2.7zM146.2 553.2h2.7v1.32h-2.7zM182.8 552.0h2.7v1.32h-2.7zM93.8 550.7h2.7v1.32h-2.7zM151.4 546.9h2.7v1.32h-2.7zM185.4 545.6h2.7v1.32h-2.7zM154.0 544.3h2.7v1.32h-2.7zM182.8 544.3h2.7v1.32h-2.7zM159.2 539.2h2.7v1.32h-2.7zM164.5 539.2h2.7v1.32h-2.7zM174.9 537.9h2.7v1.32h-2.7zM185.4 536.7h2.7v1.32h-2.7zM156.6 535.4h2.7v1.32h-2.7zM169.7 535.4h2.7v1.32h-2.7zM174.9 534.1h5.3v1.32h-5.3zM161.8 530.3h2.7v1.32h-2.7zM167.1 529.0h2.7v1.32h-2.7zM154.0 527.8h2.7v1.32h-2.7zM154.0 523.9h2.7v1.32h-2.7zM164.5 522.6h5.3v1.32h-5.3zM138.3 521.4h2.7v1.32h-2.7zM148.8 521.4h2.7v1.32h-2.7zM125.2 518.8h2.7v1.32h-2.7zM182.8 518.8h2.7v1.32h-2.7zM135.7 517.5h2.7v1.32h-2.7zM154.0 517.5h2.7v1.32h-2.7zM159.2 517.5h2.7v1.32h-2.7zM125.2 516.3h2.7v1.32h-2.7zM167.1 516.3h2.7v1.32h-2.7zM185.4 516.3h2.7v1.32h-2.7zM127.8 513.7h2.7v1.32h-2.7zM169.7 513.7h2.7v1.32h-2.7zM135.7 512.4h2.7v1.32h-2.7zM164.5 512.4h2.7v1.32h-2.7zM140.9 511.2h2.7v1.32h-2.7zM146.2 511.2h2.7v1.32h-2.7zM154.0 511.2h2.7v1.32h-2.7zM161.8 511.2h2.7v1.32h-2.7zM172.3 511.2h2.7v1.32h-2.7zM185.4 509.9h2.7v1.32h-2.7zM138.3 508.6h2.7v1.32h-2.7zM172.3 508.6h2.7v1.32h-2.7zM182.8 508.6h2.7v1.32h-2.7zM180.2 507.3h2.7v1.32h-2.7zM167.1 506.1h2.7v1.32h-2.7zM174.9 506.1h2.7v1.32h-2.7zM127.8 504.8h2.7v1.32h-2.7zM140.9 504.8h2.7v1.32h-2.7zM154.0 504.8h2.7v1.32h-2.7zM174.9 504.8h2.7v1.32h-2.7zM156.6 503.5h2.7v1.32h-2.7zM169.7 503.5h2.7v1.32h-2.7zM177.5 503.5h2.7v1.32h-2.7zM174.9 502.2h5.3v1.32h-5.3zM148.8 501.0h2.7v1.32h-2.7zM169.7 501.0h5.3v1.32h-5.3zM161.8 499.7h7.9v1.32h-7.9zM148.8 498.4h2.7v1.32h-2.7zM154.0 498.4h2.7v1.32h-2.7zM177.5 498.4h2.7v1.32h-2.7zM114.8 497.1h2.7v1.32h-2.7zM156.6 497.1h2.7v1.32h-2.7zM161.8 497.1h5.3v1.32h-5.3zM172.3 497.1h7.9v1.32h-7.9zM140.9 495.9h2.7v1.32h-2.7zM154.0 495.9h2.7v1.32h-2.7zM177.5 495.9h5.3v1.32h-5.3zM169.7 494.6h2.7v1.32h-2.7zM138.3 493.3h2.7v1.32h-2.7zM148.8 493.3h2.7v1.32h-2.7zM159.2 493.3h2.7v1.32h-2.7zM169.7 493.3h2.7v1.32h-2.7zM117.4 492.0h2.7v1.32h-2.7zM138.3 492.0h2.7v1.32h-2.7zM159.2 492.0h5.3v1.32h-5.3zM167.1 492.0h2.7v1.32h-2.7zM151.4 490.8h2.7v1.32h-2.7zM167.1 490.8h2.7v1.32h-2.7zM130.5 488.2h2.7v1.32h-2.7zM146.2 488.2h5.3v1.32h-5.3zM164.5 488.2h2.7v1.32h-2.7zM185.4 488.2h2.7v1.32h-2.7zM172.3 486.9h2.7v1.32h-2.7zM182.8 486.9h2.7v1.32h-2.7zM180.2 485.7h2.7v1.32h-2.7zM159.2 484.4h2.7v1.32h-2.7zM167.1 484.4h2.7v1.32h-2.7zM133.1 483.1h2.7v1.32h-2.7zM146.2 483.1h2.7v1.32h-2.7zM133.1 480.6h2.7v1.32h-2.7zM140.9 479.3h2.7v1.32h-2.7zM167.1 479.3h2.7v1.32h-2.7zM180.2 479.3h2.7v1.32h-2.7zM164.5 478.0h2.7v1.32h-2.7zM164.5 476.7h2.7v1.32h-2.7zM169.7 476.7h2.7v1.32h-2.7zM177.5 476.7h2.7v1.32h-2.7zM167.1 475.5h2.7v1.32h-2.7zM174.9 475.5h5.3v1.32h-5.3zM140.9 474.2h2.7v1.32h-2.7zM114.8 472.9h2.7v1.32h-2.7zM140.9 472.9h2.7v1.32h-2.7zM156.6 471.6h5.3v1.32h-5.3zM169.7 471.6h2.7v1.32h-2.7zM151.4 467.8h2.7v1.32h-2.7zM127.8 466.5h2.7v1.32h-2.7zM151.4 464.0h2.7v1.32h-2.7zM174.9 464.0h2.7v1.32h-2.7zM156.6 462.7h2.7v1.32h-2.7zM169.7 462.7h2.7v1.32h-2.7zM177.5 461.4h2.7v1.32h-2.7zM167.1 460.2h2.7v1.32h-2.7zM177.5 460.2h2.7v1.32h-2.7zM172.3 458.9h2.7v1.32h-2.7z" fill="#ffd300"/>
<path d="M180.2 543.0h2.7v1.32h-2.7zM159.2 536.7h2.7v1.32h-2.7zM130.5 530.3h2.7v1.32h-2.7zM161.8 525.2h2.7v1.32h-2.7zM185.4 523.9h2.7v1.32h-2.7zM177.5 521.4h2.7v1.32h-2.7zM167.1 520.1h2.7v1.32h-2.7zM172.3 518.8h2.7v1.32h-2.7zM177.5 518.8h2.7v1.32h-2.7zM177.5 515.0h2.7v1.32h-2.7zM174.9 513.7h2.7v1.32h-2.7zM172.3 512.4h2.7v1.32h-2.7zM174.9 511.2h2.7v1.32h-2.7zM130.5 509.9h2.7v1.32h-2.7zM159.2 508.6h2.7v1.32h-2.7zM174.9 508.6h2.7v1.32h-2.7zM156.6 507.3h2.7v1.32h-2.7zM164.5 507.3h2.7v1.32h-2.7zM135.7 504.8h2.7v1.32h-2.7zM146.2 504.8h2.7v1.32h-2.7zM151.4 504.8h2.7v1.32h-2.7zM172.3 498.4h2.7v1.32h-2.7zM148.8 494.6h2.7v1.32h-2.7zM143.5 490.8h2.7v1.32h-2.7zM159.2 490.8h2.7v1.32h-2.7zM182.8 490.8h2.7v1.32h-2.7zM177.5 488.2h2.7v1.32h-2.7zM174.9 485.7h2.7v1.32h-2.7zM156.6 484.4h2.7v1.32h-2.7zM146.2 480.6h2.7v1.32h-2.7zM172.3 480.6h2.7v1.32h-2.7zM130.5 479.3h2.7v1.32h-2.7zM182.8 479.3h2.7v1.32h-2.7zM148.8 476.7h2.7v1.32h-2.7zM154.0 476.7h2.7v1.32h-2.7zM167.1 476.7h2.7v1.32h-2.7zM169.7 474.2h2.7v1.32h-2.7zM177.5 474.2h2.7v1.32h-2.7zM161.8 472.9h2.7v1.32h-2.7zM177.5 470.4h2.7v1.32h-2.7zM180.2 467.8h2.7v1.32h-2.7zM185.4 465.3h2.7v1.32h-2.7z" fill="#ff9700"/>
<path d="M182.8 535.4h2.7v1.32h-2.7zM159.2 530.3h2.7v1.32h-2.7zM161.8 526.5h2.7v1.32h-2.7zM154.0 513.7h2.7v1.32h-2.7zM146.2 502.2h2.7v1.32h-2.7zM154.0 471.6h2.7v1.32h-2.7zM161.8 469.1h2.7v1.32h-2.7z" fill="#ff5b00"/>
<path d="M164.5 503.5h2.7v1.32h-2.7zM164.5 498.4h2.7v1.32h-2.7z" fill="#ff1e00"/>
<path d="M54.62 453.80V555.80M57.23 453.80V555.80M59.85 453.80V555.80M62.46 453.80V555.80M65.08 453.80V555.80M67.69 453.80V555.80M70.31 453.80V555.80M72.92 453.80V555.80M75.54 453.80V555.80M78.15 453.80V555.80M80.77 453.80V555.80M83.38 453.80V555.80M86.00 453.80V555.80M88.62 453.80V555.80M91.23 453.80V555.80M93.85 453.80V555.80M96.46 453.80V555.80M99.08 453.80V555.80M101.69 453.80V555.80M104.31 453.80V555.80M106.92 453.80V555.80M109.54 453.80V555.80M112.15 453.80V555.80M114.77 453.80V555.80M117.38 453.80V555.80M120.00 453.80V555.80M122.62 453.80V555.80M125.23 453.80V555.80M127.85 453.80V555.80M130.46 453.80V555.80M133.08 453.80V555.80M135.69 453.80V555.80M138.31 453.80V555.80M140.92 453.80V555.80M143.54 453.80V555.80M146.15 453.80V555.80M148.77 453.80V555.80M151.38 453.80V555.80M154.00 453.80V555.80M156.62 453.80V555.80M159.23 453.80V555.80M161.85 453.80V555.80M164.46 453.80V555.80M167.08 453.80V555.80M169.69 453.80V555.80M172.31 453.80V555.80M174.92 453.80V555.80M177.54 453.80V555.80M180.15 453.80V555.80M182.77 453.80V555.80M185.38 453.80V555.80" stroke="#fff" stroke-opacity="0.12" stroke-width="1" fill="none" shape-rendering="crispEdges"/>
<path d="M52.00 456.30H188.00M52.00 461.40H188.00M52.00 466.50H188.00M52.00 471.60H188.00M52.00 476.70H188.00M52.00 481.80H188.00M52.00 486.90H188.00M52.00 492.00H188.00M52.00 497.10H188.00M52.00 502.20H188.00M52.00 507.30H188.00M52.00 512.40H188.00M52.00 517.50H188.00M52.00 522.60H188.00M52.00 527.70H188.00M52.00 532.80H188.00M52.00 537.90H188.00M52.00 543.00H188.00M52.00 548.10H188.00M52.00 553.20H188.00" stroke="#fff" stroke-opacity="0.18" stroke-width="2.8" fill="none"/>
<rect x="75.54" y="490.77" width="2.62" height="1.27" fill="#fff"/>
<rect x="101.69" y="507.35" width="2.62" height="1.27" fill="#fff"/>
<path d="M188.00 453.80V555.80" fill="none" stroke="#999" stroke-width="0.9"/>
<path d="M188.00 453.80H52.00" fill="none" stroke="#6a9a9a" stroke-width="0.6"/>
<path d="M52.00 453.30V555.80H188.00" fill="none" stroke="#000" stroke-width="1.1"/>
<path d="M52.00 555.80L52.00 551.80" stroke="#000" stroke-width="0.90"/>
<text x="52.10" y="564.40" font-size="10.40" text-anchor="middle" stroke="#000" stroke-width="0.22" letter-spacing="-0.4">0</text>
<path d="M78.15 555.80L78.15 551.80" stroke="#000" stroke-width="0.90"/>
<text x="78.25" y="564.40" font-size="10.40" text-anchor="middle" stroke="#000" stroke-width="0.22" letter-spacing="-0.4">10</text>
<path d="M104.31 555.80L104.31 551.80" stroke="#000" stroke-width="0.90"/>
<text x="104.41" y="564.40" font-size="10.40" text-anchor="middle" stroke="#000" stroke-width="0.22" letter-spacing="-0.4">20</text>
<path d="M130.46 555.80L130.46 551.80" stroke="#000" stroke-width="0.90"/>
<text x="130.56" y="564.40" font-size="10.40" text-anchor="middle" stroke="#000" stroke-width="0.22" letter-spacing="-0.4">30</text>
<path d="M156.62 555.80L156.62 551.80" stroke="#000" stroke-width="0.90"/>
<text x="156.72" y="564.40" font-size="10.40" text-anchor="middle" stroke="#000" stroke-width="0.22" letter-spacing="-0.4">40</text>
<path d="M182.77 555.80L182.77 551.80" stroke="#000" stroke-width="0.90"/>
<text x="182.87" y="564.40" font-size="10.40" text-anchor="middle" stroke="#000" stroke-width="0.22" letter-spacing="-0.4">50</text>
<path d="M52.00 555.80L56.00 555.80" stroke="#000" stroke-width="0.90"/>
<text x="50.50" y="559.30" font-size="10.40" text-anchor="end" stroke="#000" stroke-width="0.22" letter-spacing="-0.4">0</text>
<path d="M52.00 543.05L56.00 543.05" stroke="#000" stroke-width="0.90"/>
<text x="50.50" y="546.55" font-size="10.40" text-anchor="end" stroke="#000" stroke-width="0.22" letter-spacing="-0.4">10</text>
<path d="M52.00 530.30L56.00 530.30" stroke="#000" stroke-width="0.90"/>
<text x="50.50" y="533.80" font-size="10.40" text-anchor="end" stroke="#000" stroke-width="0.22" letter-spacing="-0.4">20</text>
<path d="M52.00 517.55L56.00 517.55" stroke="#000" stroke-width="0.90"/>
<text x="50.50" y="521.05" font-size="10.40" text-anchor="end" stroke="#000" stroke-width="0.22" letter-spacing="-0.4">30</text>
<path d="M52.00 504.80L56.00 504.80" stroke="#000" stroke-width="0.90"/>
<text x="50.50" y="508.30" font-size="10.40" text-anchor="end" stroke="#000" stroke-width="0.22" letter-spacing="-0.4">40</text>
<path d="M52.00 492.05L56.00 492.05" stroke="#000" stroke-width="0.90"/>
<text x="50.50" y="495.55" font-size="10.40" text-anchor="end" stroke="#000" stroke-width="0.22" letter-spacing="-0.4">50</text>
<path d="M52.00 479.30L56.00 479.30" stroke="#000" stroke-width="0.90"/>
<text x="50.50" y="482.80" font-size="10.40" text-anchor="end" stroke="#000" stroke-width="0.22" letter-spacing="-0.4">60</text>
<path d="M52.00 466.55L56.00 466.55" stroke="#000" stroke-width="0.90"/>
<text x="50.50" y="470.05" font-size="10.40" text-anchor="end" stroke="#000" stroke-width="0.22" letter-spacing="-0.4">70</text>
<path d="M52.00 453.80L56.00 453.80" stroke="#000" stroke-width="0.90"/>
<text x="50.50" y="458.30" font-size="10.40" text-anchor="end" stroke="#000" stroke-width="0.22" letter-spacing="-0.4">80</text>
<text x="52.40" y="451.20" font-size="10.85" stroke="#000" stroke-width="0.22">Trim Bits</text>
<rect x="189.00" y="550.70" width="7.40" height="5.30" fill="#6200ff"/>
<rect x="189.00" y="545.60" width="7.40" height="5.30" fill="#2500ff"/>
<rect x="189.00" y="540.50" width="7.40" height="5.30" fill="#0017ff"/>
<rect x="189.00" y="535.40" width="7.40" height="5.30" fill="#0054ff"/>
<rect x="189.00" y="530.30" width="7.40" height="5.30" fill="#0090ff"/>
<rect x="189.00" y="525.20" width="7.40" height="5.30" fill="#00ccff"/>
<rect x="189.00" y="520.10" width="7.40" height="5.30" fill="#00fff5"/>
<rect x="189.00" y="515.00" width="7.40" height="5.30" fill="#00ffb9"/>
<rect x="189.00" y="509.90" width="7.40" height="5.30" fill="#00ff7c"/>
<rect x="189.00" y="504.80" width="7.40" height="5.30" fill="#00ff40"/>
<rect x="189.00" y="499.70" width="7.40" height="5.30" fill="#00ff04"/>
<rect x="189.00" y="494.60" width="7.40" height="5.30" fill="#39ff00"/>
<rect x="189.00" y="489.50" width="7.40" height="5.30" fill="#75ff00"/>
<rect x="189.00" y="484.40" width="7.40" height="5.30" fill="#b2ff00"/>
<rect x="189.00" y="479.30" width="7.40" height="5.30" fill="#eeff00"/>
<rect x="189.00" y="474.20" width="7.40" height="5.30" fill="#ffd300"/>
<rect x="189.00" y="469.10" width="7.40" height="5.30" fill="#ff9700"/>
<rect x="189.00" y="464.00" width="7.40" height="5.30" fill="#ff5b00"/>
<rect x="189.00" y="458.90" width="7.40" height="5.30" fill="#ff1e00"/>
<rect x="189.00" y="453.80" width="7.40" height="5.30" fill="#ff0000"/>
<path d="M196.40 453.80L196.40 555.80" stroke="#333" stroke-width="0.60"/>
<path d="M193.10 555.80L196.70 555.80" stroke="#000" stroke-width="0.95"/>
<text transform="translate(197.00 557.30) scale(1.38 1)" font-size="4.5" font-weight="bold">0</text>
<path d="M193.10 543.05L196.70 543.05" stroke="#000" stroke-width="0.95"/>
<text transform="translate(197.00 544.55) scale(1.38 1)" font-size="4.5" font-weight="bold">2</text>
<path d="M193.10 530.30L196.70 530.30" stroke="#000" stroke-width="0.95"/>
<text transform="translate(197.00 531.80) scale(1.38 1)" font-size="4.5" font-weight="bold">4</text>
<path d="M193.10 517.55L196.70 517.55" stroke="#000" stroke-width="0.95"/>
<text transform="translate(197.00 519.05) scale(1.38 1)" font-size="4.5" font-weight="bold">6</text>
<path d="M193.10 504.80L196.70 504.80" stroke="#000" stroke-width="0.95"/>
<text transform="translate(197.00 506.30) scale(1.38 1)" font-size="4.5" font-weight="bold">8</text>
<path d="M193.10 492.05L196.70 492.05" stroke="#000" stroke-width="0.95"/>
<text transform="translate(197.00 493.55) scale(1.38 1)" font-size="4.5" font-weight="bold">10</text>
<path d="M193.10 479.30L196.70 479.30" stroke="#000" stroke-width="0.95"/>
<text transform="translate(197.00 480.80) scale(1.38 1)" font-size="4.5" font-weight="bold">12</text>
<path d="M193.10 466.55L196.70 466.55" stroke="#000" stroke-width="0.95"/>
<text transform="translate(197.00 468.05) scale(1.38 1)" font-size="4.5" font-weight="bold">14</text>
<path d="M193.10 453.80L196.70 453.80" stroke="#000" stroke-width="0.95"/>
<text transform="translate(197.00 455.30) scale(1.38 1)" font-size="4.5" font-weight="bold">16</text>
<rect x="236.50" y="453.80" width="136.00" height="102.00" fill="none" stroke="#000" stroke-width="1.1"/>
<text x="236.90" y="451.20" font-size="10.85" stroke="#000" stroke-width="0.22">Temperature calibration</text>
<path d="M236.50 555.80L236.50 551.80" stroke="#000" stroke-width="0.90"/>
<text x="236.60" y="564.40" font-size="10.40" text-anchor="middle" stroke="#000" stroke-width="0.22" letter-spacing="-0.4">0</text>
<path d="M271.55 555.80L271.55 551.80" stroke="#000" stroke-width="0.90"/>
<text x="271.65" y="564.40" font-size="10.40" text-anchor="middle" stroke="#000" stroke-width="0.22" letter-spacing="-0.4">2</text>
<path d="M306.60 555.80L306.60 551.80" stroke="#000" stroke-width="0.90"/>
<text x="306.70" y="564.40" font-size="10.40" text-anchor="middle" stroke="#000" stroke-width="0.22" letter-spacing="-0.4">4</text>
<path d="M341.65 555.80L341.65 551.80" stroke="#000" stroke-width="0.90"/>
<text x="341.75" y="564.40" font-size="10.40" text-anchor="middle" stroke="#000" stroke-width="0.22" letter-spacing="-0.4">6</text>
<path d="M236.50 555.80L240.50 555.80" stroke="#000" stroke-width="0.90"/>
<text x="235.00" y="559.30" font-size="10.40" text-anchor="end" stroke="#000" stroke-width="0.22" letter-spacing="-0.4">0</text>
<path d="M236.50 541.60L240.50 541.60" stroke="#000" stroke-width="0.90"/>
<text x="235.00" y="545.10" font-size="10.40" text-anchor="end" stroke="#000" stroke-width="0.22" letter-spacing="-0.4">200</text>
<path d="M236.50 527.40L240.50 527.40" stroke="#000" stroke-width="0.90"/>
<text x="235.00" y="530.90" font-size="10.40" text-anchor="end" stroke="#000" stroke-width="0.22" letter-spacing="-0.4">400</text>
<path d="M236.50 513.20L240.50 513.20" stroke="#000" stroke-width="0.90"/>
<text x="235.00" y="516.70" font-size="10.40" text-anchor="end" stroke="#000" stroke-width="0.22" letter-spacing="-0.4">600</text>
<path d="M236.50 499.00L240.50 499.00" stroke="#000" stroke-width="0.90"/>
<text x="235.00" y="502.50" font-size="10.40" text-anchor="end" stroke="#000" stroke-width="0.22" letter-spacing="-0.4">800</text>
<path d="M236.50 484.80L240.50 484.80" stroke="#000" stroke-width="0.90"/>
<path d="M236.50 470.60L240.50 470.60" stroke="#000" stroke-width="0.90"/>
<path d="M236.50 456.40L240.50 456.40" stroke="#000" stroke-width="0.90"/>
<path d="M233.20 462.79h6.60M236.50 460.09v5.40M233.60 459.89l5.80 5.80M233.60 465.69l5.80 -5.80" stroke="#000" stroke-width="0.95" fill="none"/>
<path d="M250.73 474.72h6.60M254.03 472.02v5.40M251.13 471.82l5.80 5.80M251.13 477.62l5.80 -5.80" stroke="#000" stroke-width="0.95" fill="none"/>
<path d="M268.25 492.89h6.60M271.55 490.19v5.40M268.65 489.99l5.80 5.80M268.65 495.79l5.80 -5.80" stroke="#000" stroke-width="0.95" fill="none"/>
<path d="M285.78 515.83h6.60M289.08 513.13v5.40M286.18 512.93l5.80 5.80M286.18 518.73l5.80 -5.80" stroke="#000" stroke-width="0.95" fill="none"/>
<path d="M303.30 540.04h6.60M306.60 537.34v5.40M303.70 537.14l5.80 5.80M303.70 542.94l5.80 -5.80" stroke="#000" stroke-width="0.95" fill="none"/>
<path d="M320.83 552.11h6.60M324.13 549.41v5.40M321.23 549.21l5.80 5.80M321.23 555.01l5.80 -5.80" stroke="#000" stroke-width="0.95" fill="none"/>
<path d="M338.35 552.11h6.60M341.65 549.41v5.40M338.75 549.21l5.80 5.80M338.75 555.01l5.80 -5.80" stroke="#000" stroke-width="0.95" fill="none"/>
<path d="M355.88 552.75h6.60M359.18 550.05v5.40M356.28 549.85l5.80 5.80M356.28 555.65l5.80 -5.80" stroke="#000" stroke-width="0.95" fill="none"/>
<text x="604.20" y="465.70" font-size="11.55" font-weight="bold">Op. Parameters</text>
<text x="604.20" y="479.90" font-size="10.85" stroke="#000" stroke-width="0.22">VANA:</text>
<text x="689.3" y="479.90" font-size="10.85" stroke="#000" stroke-width="0.22" xml:space="preserve">129 DAC</text>
<text x="604.20" y="492.00" font-size="10.85" stroke="#000" stroke-width="0.22">CALDEL:</text>
<text x="689.3" y="492.00" font-size="10.85" stroke="#000" stroke-width="0.22" xml:space="preserve"> 64 DAC</text>
<text x="604.20" y="504.80" font-size="10.85" stroke="#000" stroke-width="0.22">VTHR:</text>
<text x="689.3" y="504.80" font-size="10.85" stroke="#000" stroke-width="0.22" xml:space="preserve"> 73 DAC</text>
<text x="604.20" y="517.10" font-size="10.85" stroke="#000" stroke-width="0.22">VTRIM:</text>
<text x="689.3" y="517.10" font-size="10.85" stroke="#000" stroke-width="0.22" xml:space="preserve">106 DAC</text>
<text x="604.20" y="529.80" font-size="10.85" stroke="#000" stroke-width="0.22">IBIAS_DAC:</text>
<text x="689.3" y="529.80" font-size="10.85" stroke="#000" stroke-width="0.22" xml:space="preserve">105 DAC</text>
<text x="604.20" y="542.60" font-size="10.85" stroke="#000" stroke-width="0.22">VOFFSETOP:</text>
<text x="689.3" y="542.60" font-size="10.85" stroke="#000" stroke-width="0.22" xml:space="preserve"> 19 DAC</text>
</svg>
</body></html>
